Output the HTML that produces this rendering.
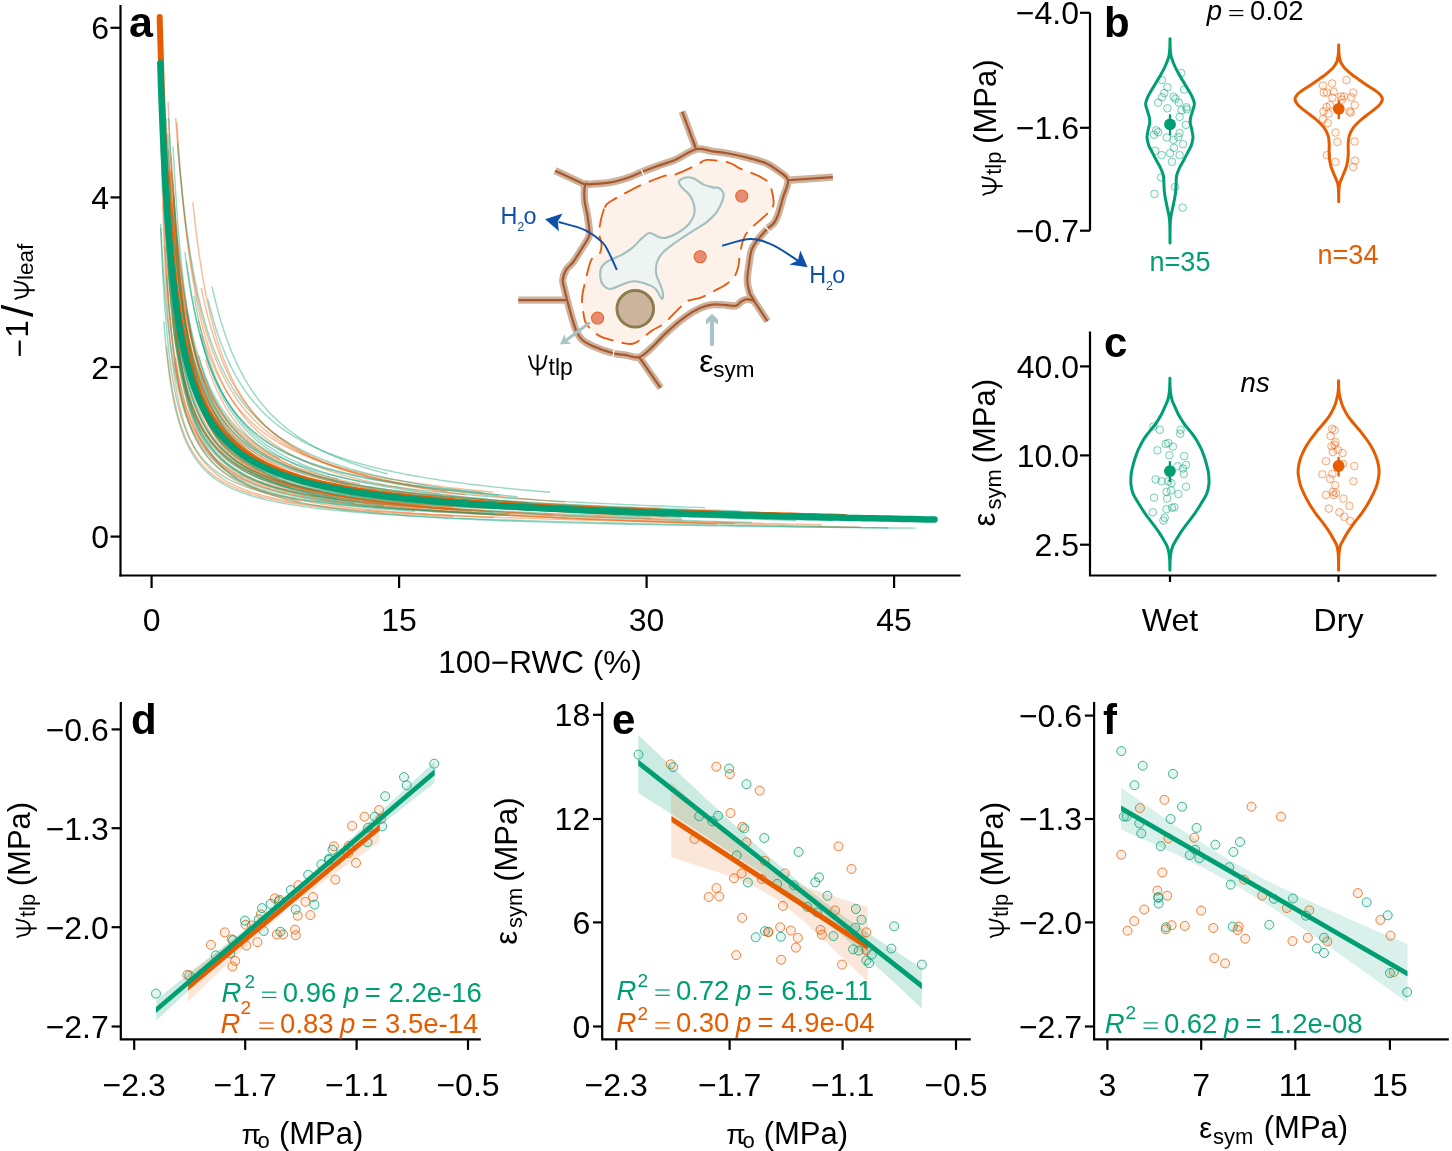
<!DOCTYPE html>
<html><head><meta charset="utf-8"><style>
html,body{margin:0;padding:0;background:#fff;}
svg{display:block;font-family:"Liberation Sans", sans-serif;will-change:transform;}
</style></head><body>
<svg width="1452" height="1151" viewBox="0 0 1452 1151">
<rect width="1452" height="1151" fill="#fff"/>
<line x1="1090.0" y1="12.8" x2="1090.0" y2="230.7" stroke="#000" stroke-width="2.2"/>
<line x1="1080.0" y1="12.8" x2="1090.0" y2="12.8" stroke="#000" stroke-width="2.2"/>
<text x="1079.0" y="24.2" text-anchor="end" font-size="32">−4.0</text>
<line x1="1080.0" y1="127.8" x2="1090.0" y2="127.8" stroke="#000" stroke-width="2.2"/>
<text x="1079.0" y="139.2" text-anchor="end" font-size="32">−1.6</text>
<line x1="1080.0" y1="230.7" x2="1090.0" y2="230.7" stroke="#000" stroke-width="2.2"/>
<text x="1079.0" y="242.1" text-anchor="end" font-size="32">−0.7</text>
<text x="1104" y="37" font-size="42" font-weight="bold">b</text>
<text x="1206.8" y="19.8" font-size="27.5" font-style="italic">p</text>
<line x1="1229.3" y1="10.6" x2="1243.3" y2="10.6" stroke="#000" stroke-width="1.25"/><line x1="1229.3" y1="15.5" x2="1243.3" y2="15.5" stroke="#000" stroke-width="1.25"/>
<text x="1250.1" y="19.8" font-size="27.5">0.02</text>
<g transform="translate(995.8,195.8) rotate(-90)"><g fill="none" stroke="#000" stroke-width="1.9"><path d="M9.7,-13.8 L9.7,6.8"/><path d="M0.3,-12.8 C2.9,-12.0 2.3,-6.8 3.7,-3.5 C5.1,-0.3 7.1,0.0 9.7,0.0 C13.6,0.0 15.9,-1.9 16.9,-5.9 C17.7,-9.2 17.7,-12.0 19.1,-14.3"/></g></g>
<g transform="translate(995.8,195.8) rotate(-90)">
<text x="21.0" y="5.0" font-size="22" >tlp</text>
<text x="51.9" y="0.0" font-size="31" >(MPa)</text>
</g>
<path d="M1170.00,38.80 C1170.01,39.67 1170.02,42.47 1170.05,44.00 C1170.08,45.53 1170.12,46.67 1170.20,48.00 C1170.28,49.33 1170.30,50.43 1170.50,52.00 C1170.70,53.57 1170.67,54.98 1171.40,57.40 C1172.13,59.82 1173.52,63.47 1174.90,66.50 C1176.28,69.53 1177.98,72.57 1179.70,75.60 C1181.42,78.63 1183.75,82.30 1185.20,84.70 C1186.65,87.10 1187.23,87.97 1188.40,90.00 C1189.57,92.03 1191.20,94.58 1192.20,96.90 C1193.20,99.22 1194.33,101.58 1194.40,103.90 C1194.47,106.22 1193.23,108.48 1192.60,110.80 C1191.97,113.12 1191.00,115.82 1190.60,117.80 C1190.20,119.78 1190.05,120.97 1190.20,122.70 C1190.35,124.43 1191.07,126.12 1191.50,128.20 C1191.93,130.28 1192.57,133.47 1192.80,135.20 C1193.03,136.93 1193.17,136.87 1192.90,138.60 C1192.63,140.33 1192.07,143.28 1191.20,145.60 C1190.33,147.92 1188.93,150.10 1187.70,152.50 C1186.47,154.90 1185.17,157.45 1183.80,160.00 C1182.43,162.55 1180.69,165.20 1179.50,167.80 C1178.31,170.40 1177.22,172.98 1176.65,175.60 C1176.08,178.22 1176.26,180.88 1176.10,183.50 C1175.94,186.12 1175.97,188.70 1175.70,191.30 C1175.43,193.90 1174.97,196.50 1174.50,199.10 C1174.03,201.70 1173.45,204.28 1172.90,206.90 C1172.35,209.52 1171.60,212.70 1171.20,214.80 C1170.80,216.90 1170.67,217.97 1170.50,219.50 C1170.33,221.03 1170.27,222.25 1170.20,224.00 C1170.13,225.75 1170.09,226.85 1170.06,230.00 C1170.03,233.15 1170.01,240.75 1170.00,242.90 L1170.00,242.90 C1169.99,240.75 1169.97,233.15 1169.94,230.00 C1169.91,226.85 1169.87,225.75 1169.80,224.00 C1169.73,222.25 1169.67,221.03 1169.50,219.50 C1169.33,217.97 1169.20,216.90 1168.80,214.80 C1168.40,212.70 1167.65,209.52 1167.10,206.90 C1166.55,204.28 1165.97,201.70 1165.50,199.10 C1165.03,196.50 1164.57,193.90 1164.30,191.30 C1164.03,188.70 1164.06,186.12 1163.90,183.50 C1163.74,180.88 1163.92,178.22 1163.35,175.60 C1162.78,172.98 1161.69,170.40 1160.50,167.80 C1159.31,165.20 1157.57,162.55 1156.20,160.00 C1154.83,157.45 1153.53,154.90 1152.30,152.50 C1151.07,150.10 1149.67,147.92 1148.80,145.60 C1147.93,143.28 1147.37,140.33 1147.10,138.60 C1146.83,136.87 1146.97,136.93 1147.20,135.20 C1147.43,133.47 1148.07,130.28 1148.50,128.20 C1148.93,126.12 1149.65,124.43 1149.80,122.70 C1149.95,120.97 1149.80,119.78 1149.40,117.80 C1149.00,115.82 1148.03,113.12 1147.40,110.80 C1146.77,108.48 1145.53,106.22 1145.60,103.90 C1145.67,101.58 1146.80,99.22 1147.80,96.90 C1148.80,94.58 1150.43,92.03 1151.60,90.00 C1152.77,87.97 1153.35,87.10 1154.80,84.70 C1156.25,82.30 1158.58,78.63 1160.30,75.60 C1162.02,72.57 1163.72,69.53 1165.10,66.50 C1166.48,63.47 1167.87,59.82 1168.60,57.40 C1169.33,54.98 1169.30,53.57 1169.50,52.00 C1169.70,50.43 1169.72,49.33 1169.80,48.00 C1169.88,46.67 1169.92,45.53 1169.95,44.00 C1169.98,42.47 1169.99,39.67 1170.00,38.80" fill="none" stroke="#009E73" stroke-width="3.0" stroke-linejoin="round" stroke-linecap="round"/>
<path d="M1338.70,45.10 C1338.71,45.92 1338.74,48.68 1338.78,50.00 C1338.82,51.32 1338.85,51.92 1338.95,53.00 C1339.05,54.08 1339.12,55.02 1339.40,56.50 C1339.68,57.98 1339.83,60.08 1340.60,61.90 C1341.37,63.72 1342.75,65.83 1344.00,67.40 C1345.25,68.97 1346.63,70.00 1348.10,71.30 C1349.57,72.60 1351.12,73.90 1352.80,75.20 C1354.48,76.50 1356.38,77.80 1358.20,79.10 C1360.02,80.40 1361.80,81.70 1363.70,83.00 C1365.60,84.30 1367.62,85.60 1369.60,86.90 C1371.58,88.20 1373.82,89.50 1375.60,90.80 C1377.38,92.10 1379.17,93.27 1380.30,94.70 C1381.43,96.13 1382.43,97.83 1382.40,99.40 C1382.37,100.97 1381.32,102.53 1380.10,104.10 C1378.88,105.67 1377.12,107.10 1375.10,108.80 C1373.08,110.50 1370.38,112.43 1368.00,114.30 C1365.62,116.17 1363.27,117.75 1360.80,120.00 C1358.33,122.25 1355.12,125.20 1353.20,127.80 C1351.28,130.40 1350.13,132.98 1349.30,135.60 C1348.47,138.22 1348.37,140.88 1348.20,143.50 C1348.03,146.12 1348.35,148.70 1348.30,151.30 C1348.25,153.90 1348.23,156.50 1347.90,159.10 C1347.57,161.70 1347.08,164.30 1346.30,166.90 C1345.52,169.50 1344.25,172.08 1343.20,174.70 C1342.15,177.32 1340.66,180.63 1340.00,182.60 C1339.34,184.57 1339.43,185.27 1339.25,186.50 C1339.07,187.73 1339.00,188.58 1338.92,190.00 C1338.84,191.42 1338.81,193.05 1338.77,195.00 C1338.73,196.95 1338.71,200.58 1338.70,201.70 L1338.70,201.70 C1338.69,200.58 1338.67,196.95 1338.63,195.00 C1338.59,193.05 1338.56,191.42 1338.48,190.00 C1338.40,188.58 1338.33,187.73 1338.15,186.50 C1337.97,185.27 1338.06,184.57 1337.40,182.60 C1336.74,180.63 1335.25,177.32 1334.20,174.70 C1333.15,172.08 1331.88,169.50 1331.10,166.90 C1330.32,164.30 1329.83,161.70 1329.50,159.10 C1329.17,156.50 1329.15,153.90 1329.10,151.30 C1329.05,148.70 1329.37,146.12 1329.20,143.50 C1329.03,140.88 1328.93,138.22 1328.10,135.60 C1327.27,132.98 1326.12,130.40 1324.20,127.80 C1322.28,125.20 1319.07,122.25 1316.60,120.00 C1314.13,117.75 1311.78,116.17 1309.40,114.30 C1307.02,112.43 1304.32,110.50 1302.30,108.80 C1300.28,107.10 1298.52,105.67 1297.30,104.10 C1296.08,102.53 1295.03,100.97 1295.00,99.40 C1294.97,97.83 1295.97,96.13 1297.10,94.70 C1298.23,93.27 1300.02,92.10 1301.80,90.80 C1303.58,89.50 1305.82,88.20 1307.80,86.90 C1309.78,85.60 1311.80,84.30 1313.70,83.00 C1315.60,81.70 1317.38,80.40 1319.20,79.10 C1321.02,77.80 1322.92,76.50 1324.60,75.20 C1326.28,73.90 1327.83,72.60 1329.30,71.30 C1330.77,70.00 1332.15,68.97 1333.40,67.40 C1334.65,65.83 1336.03,63.72 1336.80,61.90 C1337.57,60.08 1337.72,57.98 1338.00,56.50 C1338.28,55.02 1338.35,54.08 1338.45,53.00 C1338.55,51.92 1338.58,51.32 1338.62,50.00 C1338.66,48.68 1338.69,45.92 1338.70,45.10" fill="none" stroke="#E65C00" stroke-width="3.0" stroke-linejoin="round" stroke-linecap="round"/>
<circle cx="1181.1" cy="73.0" r="3.8" fill="#009E73" fill-opacity="0.06" stroke="#009E73" stroke-opacity="0.55" stroke-width="0.9"/>
<circle cx="1162.0" cy="80.0" r="3.8" fill="#009E73" fill-opacity="0.06" stroke="#009E73" stroke-opacity="0.55" stroke-width="0.9"/>
<circle cx="1167.4" cy="87.3" r="3.8" fill="#009E73" fill-opacity="0.06" stroke="#009E73" stroke-opacity="0.55" stroke-width="0.9"/>
<circle cx="1184.0" cy="89.6" r="3.8" fill="#009E73" fill-opacity="0.06" stroke="#009E73" stroke-opacity="0.55" stroke-width="0.9"/>
<circle cx="1164.3" cy="93.0" r="3.8" fill="#009E73" fill-opacity="0.06" stroke="#009E73" stroke-opacity="0.55" stroke-width="0.9"/>
<circle cx="1162.0" cy="97.2" r="3.8" fill="#009E73" fill-opacity="0.06" stroke="#009E73" stroke-opacity="0.55" stroke-width="0.9"/>
<circle cx="1173.5" cy="96.8" r="3.8" fill="#009E73" fill-opacity="0.06" stroke="#009E73" stroke-opacity="0.55" stroke-width="0.9"/>
<circle cx="1175.4" cy="98.8" r="3.8" fill="#009E73" fill-opacity="0.06" stroke="#009E73" stroke-opacity="0.55" stroke-width="0.9"/>
<circle cx="1158.2" cy="102.6" r="3.8" fill="#009E73" fill-opacity="0.06" stroke="#009E73" stroke-opacity="0.55" stroke-width="0.9"/>
<circle cx="1178.8" cy="102.6" r="3.8" fill="#009E73" fill-opacity="0.06" stroke="#009E73" stroke-opacity="0.55" stroke-width="0.9"/>
<circle cx="1167.4" cy="108.3" r="3.8" fill="#009E73" fill-opacity="0.06" stroke="#009E73" stroke-opacity="0.55" stroke-width="0.9"/>
<circle cx="1181.5" cy="110.2" r="3.8" fill="#009E73" fill-opacity="0.06" stroke="#009E73" stroke-opacity="0.55" stroke-width="0.9"/>
<circle cx="1186.5" cy="107.3" r="3.8" fill="#009E73" fill-opacity="0.06" stroke="#009E73" stroke-opacity="0.55" stroke-width="0.9"/>
<circle cx="1186.8" cy="109.3" r="3.8" fill="#009E73" fill-opacity="0.06" stroke="#009E73" stroke-opacity="0.55" stroke-width="0.9"/>
<circle cx="1179.6" cy="116.9" r="3.8" fill="#009E73" fill-opacity="0.06" stroke="#009E73" stroke-opacity="0.55" stroke-width="0.9"/>
<circle cx="1185.9" cy="124.9" r="3.8" fill="#009E73" fill-opacity="0.06" stroke="#009E73" stroke-opacity="0.55" stroke-width="0.9"/>
<circle cx="1156.3" cy="130.3" r="3.8" fill="#009E73" fill-opacity="0.06" stroke="#009E73" stroke-opacity="0.55" stroke-width="0.9"/>
<circle cx="1154.0" cy="134.7" r="3.8" fill="#009E73" fill-opacity="0.06" stroke="#009E73" stroke-opacity="0.55" stroke-width="0.9"/>
<circle cx="1158.2" cy="132.2" r="3.8" fill="#009E73" fill-opacity="0.06" stroke="#009E73" stroke-opacity="0.55" stroke-width="0.9"/>
<circle cx="1166.8" cy="137.5" r="3.8" fill="#009E73" fill-opacity="0.06" stroke="#009E73" stroke-opacity="0.55" stroke-width="0.9"/>
<circle cx="1179.6" cy="133.1" r="3.8" fill="#009E73" fill-opacity="0.06" stroke="#009E73" stroke-opacity="0.55" stroke-width="0.9"/>
<circle cx="1178.3" cy="137.0" r="3.8" fill="#009E73" fill-opacity="0.06" stroke="#009E73" stroke-opacity="0.55" stroke-width="0.9"/>
<circle cx="1173.5" cy="139.8" r="3.8" fill="#009E73" fill-opacity="0.06" stroke="#009E73" stroke-opacity="0.55" stroke-width="0.9"/>
<circle cx="1183.0" cy="144.2" r="3.8" fill="#009E73" fill-opacity="0.06" stroke="#009E73" stroke-opacity="0.55" stroke-width="0.9"/>
<circle cx="1174.0" cy="147.8" r="3.8" fill="#009E73" fill-opacity="0.06" stroke="#009E73" stroke-opacity="0.55" stroke-width="0.9"/>
<circle cx="1155.3" cy="150.7" r="3.8" fill="#009E73" fill-opacity="0.06" stroke="#009E73" stroke-opacity="0.55" stroke-width="0.9"/>
<circle cx="1161.6" cy="155.1" r="3.8" fill="#009E73" fill-opacity="0.06" stroke="#009E73" stroke-opacity="0.55" stroke-width="0.9"/>
<circle cx="1170.0" cy="153.2" r="3.8" fill="#009E73" fill-opacity="0.06" stroke="#009E73" stroke-opacity="0.55" stroke-width="0.9"/>
<circle cx="1179.6" cy="155.1" r="3.8" fill="#009E73" fill-opacity="0.06" stroke="#009E73" stroke-opacity="0.55" stroke-width="0.9"/>
<circle cx="1171.9" cy="161.8" r="3.8" fill="#009E73" fill-opacity="0.06" stroke="#009E73" stroke-opacity="0.55" stroke-width="0.9"/>
<circle cx="1161.1" cy="177.4" r="3.8" fill="#009E73" fill-opacity="0.06" stroke="#009E73" stroke-opacity="0.55" stroke-width="0.9"/>
<circle cx="1175.0" cy="187.0" r="3.8" fill="#009E73" fill-opacity="0.06" stroke="#009E73" stroke-opacity="0.55" stroke-width="0.9"/>
<circle cx="1154.4" cy="193.9" r="3.8" fill="#009E73" fill-opacity="0.06" stroke="#009E73" stroke-opacity="0.55" stroke-width="0.9"/>
<circle cx="1182.6" cy="207.6" r="3.8" fill="#009E73" fill-opacity="0.06" stroke="#009E73" stroke-opacity="0.55" stroke-width="0.9"/>
<circle cx="1346.5" cy="80.1" r="3.8" fill="#E65C00" fill-opacity="0.06" stroke="#E65C00" stroke-opacity="0.55" stroke-width="0.9"/>
<circle cx="1323.0" cy="85.5" r="3.8" fill="#E65C00" fill-opacity="0.06" stroke="#E65C00" stroke-opacity="0.55" stroke-width="0.9"/>
<circle cx="1332.1" cy="83.5" r="3.8" fill="#E65C00" fill-opacity="0.06" stroke="#E65C00" stroke-opacity="0.55" stroke-width="0.9"/>
<circle cx="1323.8" cy="92.6" r="3.8" fill="#E65C00" fill-opacity="0.06" stroke="#E65C00" stroke-opacity="0.55" stroke-width="0.9"/>
<circle cx="1326.9" cy="92.6" r="3.8" fill="#E65C00" fill-opacity="0.06" stroke="#E65C00" stroke-opacity="0.55" stroke-width="0.9"/>
<circle cx="1333.7" cy="91.8" r="3.8" fill="#E65C00" fill-opacity="0.06" stroke="#E65C00" stroke-opacity="0.55" stroke-width="0.9"/>
<circle cx="1332.4" cy="97.6" r="3.8" fill="#E65C00" fill-opacity="0.06" stroke="#E65C00" stroke-opacity="0.55" stroke-width="0.9"/>
<circle cx="1341.0" cy="96.5" r="3.8" fill="#E65C00" fill-opacity="0.06" stroke="#E65C00" stroke-opacity="0.55" stroke-width="0.9"/>
<circle cx="1344.1" cy="96.5" r="3.8" fill="#E65C00" fill-opacity="0.06" stroke="#E65C00" stroke-opacity="0.55" stroke-width="0.9"/>
<circle cx="1341.8" cy="99.6" r="3.8" fill="#E65C00" fill-opacity="0.06" stroke="#E65C00" stroke-opacity="0.55" stroke-width="0.9"/>
<circle cx="1353.2" cy="92.6" r="3.8" fill="#E65C00" fill-opacity="0.06" stroke="#E65C00" stroke-opacity="0.55" stroke-width="0.9"/>
<circle cx="1351.2" cy="97.3" r="3.8" fill="#E65C00" fill-opacity="0.06" stroke="#E65C00" stroke-opacity="0.55" stroke-width="0.9"/>
<circle cx="1330.1" cy="105.1" r="3.8" fill="#E65C00" fill-opacity="0.06" stroke="#E65C00" stroke-opacity="0.55" stroke-width="0.9"/>
<circle cx="1326.6" cy="107.0" r="3.8" fill="#E65C00" fill-opacity="0.06" stroke="#E65C00" stroke-opacity="0.55" stroke-width="0.9"/>
<circle cx="1354.8" cy="105.1" r="3.8" fill="#E65C00" fill-opacity="0.06" stroke="#E65C00" stroke-opacity="0.55" stroke-width="0.9"/>
<circle cx="1349.6" cy="111.4" r="3.8" fill="#E65C00" fill-opacity="0.06" stroke="#E65C00" stroke-opacity="0.55" stroke-width="0.9"/>
<circle cx="1350.7" cy="112.6" r="3.8" fill="#E65C00" fill-opacity="0.06" stroke="#E65C00" stroke-opacity="0.55" stroke-width="0.9"/>
<circle cx="1323.5" cy="111.4" r="3.8" fill="#E65C00" fill-opacity="0.06" stroke="#E65C00" stroke-opacity="0.55" stroke-width="0.9"/>
<circle cx="1328.5" cy="113.7" r="3.8" fill="#E65C00" fill-opacity="0.06" stroke="#E65C00" stroke-opacity="0.55" stroke-width="0.9"/>
<circle cx="1323.0" cy="119.2" r="3.8" fill="#E65C00" fill-opacity="0.06" stroke="#E65C00" stroke-opacity="0.55" stroke-width="0.9"/>
<circle cx="1327.7" cy="123.1" r="3.8" fill="#E65C00" fill-opacity="0.06" stroke="#E65C00" stroke-opacity="0.55" stroke-width="0.9"/>
<circle cx="1335.5" cy="132.5" r="3.8" fill="#E65C00" fill-opacity="0.06" stroke="#E65C00" stroke-opacity="0.55" stroke-width="0.9"/>
<circle cx="1337.4" cy="141.9" r="3.8" fill="#E65C00" fill-opacity="0.06" stroke="#E65C00" stroke-opacity="0.55" stroke-width="0.9"/>
<circle cx="1354.6" cy="141.5" r="3.8" fill="#E65C00" fill-opacity="0.06" stroke="#E65C00" stroke-opacity="0.55" stroke-width="0.9"/>
<circle cx="1326.9" cy="155.2" r="3.8" fill="#E65C00" fill-opacity="0.06" stroke="#E65C00" stroke-opacity="0.55" stroke-width="0.9"/>
<circle cx="1335.5" cy="161.9" r="3.8" fill="#E65C00" fill-opacity="0.06" stroke="#E65C00" stroke-opacity="0.55" stroke-width="0.9"/>
<circle cx="1355.1" cy="160.6" r="3.8" fill="#E65C00" fill-opacity="0.06" stroke="#E65C00" stroke-opacity="0.55" stroke-width="0.9"/>
<circle cx="1353.2" cy="166.9" r="3.8" fill="#E65C00" fill-opacity="0.06" stroke="#E65C00" stroke-opacity="0.55" stroke-width="0.9"/>
<line x1="1170.0" y1="114.3" x2="1170.0" y2="135.5" stroke="#009E73" stroke-width="2.3"/>
<circle cx="1170.0" cy="124.4" r="5.9" fill="#009E73"/>
<line x1="1338.8" y1="100.2" x2="1338.8" y2="119" stroke="#E65C00" stroke-width="2.3"/>
<circle cx="1338.8" cy="108.8" r="5.9" fill="#E65C00"/>
<text x="1180" y="270.5" text-anchor="middle" font-size="27" fill="#009E73">n=35</text>
<text x="1348" y="264" text-anchor="middle" font-size="27" fill="#E65C00">n=34</text>
<path d="M1090.0,331.5 L1090.0,575.5 L1436.5,575.5" fill="none" stroke="#000" stroke-width="2.2"/>
<line x1="1080.0" y1="366.4" x2="1090.0" y2="366.4" stroke="#000" stroke-width="2.2"/>
<text x="1079.0" y="377.8" text-anchor="end" font-size="32">40.0</text>
<line x1="1080.0" y1="455.4" x2="1090.0" y2="455.4" stroke="#000" stroke-width="2.2"/>
<text x="1079.0" y="466.8" text-anchor="end" font-size="32">10.0</text>
<line x1="1080.0" y1="544.7" x2="1090.0" y2="544.7" stroke="#000" stroke-width="2.2"/>
<text x="1079.0" y="556.1" text-anchor="end" font-size="32">2.5</text>
<line x1="1170.0" y1="575.5" x2="1170.0" y2="582" stroke="#000" stroke-width="2.2"/>
<text x="1170.0" y="630.5" text-anchor="middle" font-size="32">Wet</text>
<line x1="1338.5" y1="575.5" x2="1338.5" y2="582" stroke="#000" stroke-width="2.2"/>
<text x="1338.5" y="630.5" text-anchor="middle" font-size="32">Dry</text>
<text x="1104" y="356.5" font-size="42" font-weight="bold">c</text>
<text x="1240.5" y="391.9" font-size="27.5" font-style="italic">n</text><text x="1256" y="391.9" font-size="27.5" font-style="italic">s</text>
<g transform="translate(995.3,525.6) rotate(-90)">
<text x="-0.8" y="0.0" font-size="31" >ε</text>
<text x="16.0" y="5.5" font-size="22" >sym</text>
<text x="62.2" y="0.0" font-size="31" >(MPa)</text>
</g>
<path d="M1169.90,378.20 C1169.91,379.00 1169.94,381.53 1169.97,383.00 C1170.00,384.47 1170.03,385.67 1170.10,387.00 C1170.17,388.33 1170.27,389.67 1170.40,391.00 C1170.53,392.33 1170.63,393.50 1170.90,395.00 C1171.17,396.50 1171.47,398.33 1172.00,400.00 C1172.53,401.67 1173.38,403.33 1174.10,405.00 C1174.82,406.67 1175.53,408.33 1176.30,410.00 C1177.07,411.67 1177.80,413.33 1178.70,415.00 C1179.60,416.67 1180.67,418.33 1181.70,420.00 C1182.73,421.67 1183.67,423.33 1184.90,425.00 C1186.13,426.67 1187.73,428.33 1189.10,430.00 C1190.47,431.67 1191.87,433.33 1193.10,435.00 C1194.33,436.67 1195.48,438.33 1196.50,440.00 C1197.52,441.67 1198.33,443.33 1199.20,445.00 C1200.07,446.67 1200.97,448.33 1201.70,450.00 C1202.43,451.67 1203.00,453.33 1203.60,455.00 C1204.20,456.67 1204.78,458.33 1205.30,460.00 C1205.82,461.67 1206.27,463.33 1206.70,465.00 C1207.13,466.67 1207.57,468.33 1207.90,470.00 C1208.23,471.67 1208.53,472.65 1208.70,475.00 C1208.87,477.35 1209.23,480.98 1208.90,484.10 C1208.57,487.22 1207.97,490.52 1206.70,493.70 C1205.43,496.88 1203.22,500.02 1201.30,503.20 C1199.38,506.38 1197.40,509.60 1195.20,512.80 C1193.00,516.00 1190.45,519.22 1188.10,522.40 C1185.75,525.58 1183.25,528.72 1181.10,531.90 C1178.95,535.08 1176.58,539.15 1175.20,541.50 C1173.82,543.85 1173.45,544.42 1172.80,546.00 C1172.15,547.58 1171.68,549.37 1171.30,551.00 C1170.92,552.63 1170.69,554.30 1170.50,555.80 C1170.31,557.30 1170.24,558.63 1170.15,560.00 C1170.06,561.37 1170.02,562.30 1169.98,564.00 C1169.94,565.70 1169.91,569.17 1169.90,570.20 L1169.90,570.20 C1169.89,569.17 1169.86,565.70 1169.82,564.00 C1169.78,562.30 1169.74,561.37 1169.65,560.00 C1169.56,558.63 1169.49,557.30 1169.30,555.80 C1169.11,554.30 1168.88,552.63 1168.50,551.00 C1168.12,549.37 1167.65,547.58 1167.00,546.00 C1166.35,544.42 1165.98,543.85 1164.60,541.50 C1163.22,539.15 1160.85,535.08 1158.70,531.90 C1156.55,528.72 1154.05,525.58 1151.70,522.40 C1149.35,519.22 1146.80,516.00 1144.60,512.80 C1142.40,509.60 1140.42,506.38 1138.50,503.20 C1136.58,500.02 1134.37,496.88 1133.10,493.70 C1131.83,490.52 1131.23,487.22 1130.90,484.10 C1130.57,480.98 1130.93,477.35 1131.10,475.00 C1131.27,472.65 1131.57,471.67 1131.90,470.00 C1132.23,468.33 1132.67,466.67 1133.10,465.00 C1133.53,463.33 1133.98,461.67 1134.50,460.00 C1135.02,458.33 1135.60,456.67 1136.20,455.00 C1136.80,453.33 1137.37,451.67 1138.10,450.00 C1138.83,448.33 1139.73,446.67 1140.60,445.00 C1141.47,443.33 1142.28,441.67 1143.30,440.00 C1144.32,438.33 1145.47,436.67 1146.70,435.00 C1147.93,433.33 1149.33,431.67 1150.70,430.00 C1152.07,428.33 1153.67,426.67 1154.90,425.00 C1156.13,423.33 1157.07,421.67 1158.10,420.00 C1159.13,418.33 1160.20,416.67 1161.10,415.00 C1162.00,413.33 1162.73,411.67 1163.50,410.00 C1164.27,408.33 1164.98,406.67 1165.70,405.00 C1166.42,403.33 1167.27,401.67 1167.80,400.00 C1168.33,398.33 1168.63,396.50 1168.90,395.00 C1169.17,393.50 1169.27,392.33 1169.40,391.00 C1169.53,389.67 1169.63,388.33 1169.70,387.00 C1169.77,385.67 1169.80,384.47 1169.83,383.00 C1169.86,381.53 1169.89,379.00 1169.90,378.20" fill="none" stroke="#009E73" stroke-width="3.0" stroke-linejoin="round" stroke-linecap="round"/>
<path d="M1338.60,380.70 C1338.61,381.50 1338.63,384.03 1338.67,385.50 C1338.71,386.97 1338.74,388.08 1338.85,389.50 C1338.95,390.92 1338.99,392.25 1339.30,394.00 C1339.61,395.75 1340.22,398.17 1340.70,400.00 C1341.18,401.83 1341.57,403.33 1342.20,405.00 C1342.83,406.67 1343.67,408.33 1344.50,410.00 C1345.33,411.67 1346.15,413.33 1347.20,415.00 C1348.25,416.67 1349.50,418.33 1350.80,420.00 C1352.10,421.67 1353.57,423.33 1355.00,425.00 C1356.43,426.67 1358.03,428.33 1359.40,430.00 C1360.77,431.67 1361.93,433.33 1363.20,435.00 C1364.47,436.67 1365.82,438.33 1367.00,440.00 C1368.18,441.67 1369.28,443.33 1370.30,445.00 C1371.32,446.67 1372.25,448.33 1373.10,450.00 C1373.95,451.67 1374.72,453.33 1375.40,455.00 C1376.08,456.67 1376.70,458.33 1377.20,460.00 C1377.70,461.67 1378.10,463.33 1378.40,465.00 C1378.70,466.67 1378.92,468.33 1379.00,470.00 C1379.08,471.67 1379.22,472.65 1378.90,475.00 C1378.58,477.35 1378.03,480.98 1377.10,484.10 C1376.17,487.22 1374.78,490.52 1373.30,493.70 C1371.82,496.88 1370.08,500.02 1368.20,503.20 C1366.32,506.38 1364.27,509.60 1362.00,512.80 C1359.73,516.00 1356.95,519.22 1354.60,522.40 C1352.25,525.58 1349.93,528.72 1347.90,531.90 C1345.87,535.08 1343.62,539.32 1342.40,541.50 C1341.18,543.68 1341.07,543.73 1340.60,545.00 C1340.13,546.27 1339.86,547.77 1339.60,549.10 C1339.34,550.43 1339.19,551.68 1339.05,553.00 C1338.91,554.32 1338.85,555.50 1338.78,557.00 C1338.71,558.50 1338.69,559.80 1338.66,562.00 C1338.63,564.20 1338.61,568.83 1338.60,570.20 L1338.60,570.20 C1338.59,568.83 1338.57,564.20 1338.54,562.00 C1338.51,559.80 1338.48,558.50 1338.42,557.00 C1338.35,555.50 1338.29,554.32 1338.15,553.00 C1338.01,551.68 1337.86,550.43 1337.60,549.10 C1337.34,547.77 1337.07,546.27 1336.60,545.00 C1336.13,543.73 1336.02,543.68 1334.80,541.50 C1333.58,539.32 1331.33,535.08 1329.30,531.90 C1327.27,528.72 1324.95,525.58 1322.60,522.40 C1320.25,519.22 1317.47,516.00 1315.20,512.80 C1312.93,509.60 1310.88,506.38 1309.00,503.20 C1307.12,500.02 1305.38,496.88 1303.90,493.70 C1302.42,490.52 1301.03,487.22 1300.10,484.10 C1299.17,480.98 1298.62,477.35 1298.30,475.00 C1297.98,472.65 1298.12,471.67 1298.20,470.00 C1298.28,468.33 1298.50,466.67 1298.80,465.00 C1299.10,463.33 1299.50,461.67 1300.00,460.00 C1300.50,458.33 1301.12,456.67 1301.80,455.00 C1302.48,453.33 1303.25,451.67 1304.10,450.00 C1304.95,448.33 1305.88,446.67 1306.90,445.00 C1307.92,443.33 1309.02,441.67 1310.20,440.00 C1311.38,438.33 1312.73,436.67 1314.00,435.00 C1315.27,433.33 1316.43,431.67 1317.80,430.00 C1319.17,428.33 1320.77,426.67 1322.20,425.00 C1323.63,423.33 1325.10,421.67 1326.40,420.00 C1327.70,418.33 1328.95,416.67 1330.00,415.00 C1331.05,413.33 1331.87,411.67 1332.70,410.00 C1333.53,408.33 1334.37,406.67 1335.00,405.00 C1335.63,403.33 1336.02,401.83 1336.50,400.00 C1336.98,398.17 1337.59,395.75 1337.90,394.00 C1338.21,392.25 1338.24,390.92 1338.35,389.50 C1338.45,388.08 1338.49,386.97 1338.53,385.50 C1338.57,384.03 1338.59,381.50 1338.60,380.70" fill="none" stroke="#E65C00" stroke-width="3.0" stroke-linejoin="round" stroke-linecap="round"/>
<circle cx="1153.4" cy="426.5" r="3.8" fill="#009E73" fill-opacity="0.06" stroke="#009E73" stroke-opacity="0.55" stroke-width="0.9"/>
<circle cx="1159.8" cy="429.8" r="3.8" fill="#009E73" fill-opacity="0.06" stroke="#009E73" stroke-opacity="0.55" stroke-width="0.9"/>
<circle cx="1180.6" cy="429.8" r="3.8" fill="#009E73" fill-opacity="0.06" stroke="#009E73" stroke-opacity="0.55" stroke-width="0.9"/>
<circle cx="1180.2" cy="433.8" r="3.8" fill="#009E73" fill-opacity="0.06" stroke="#009E73" stroke-opacity="0.55" stroke-width="0.9"/>
<circle cx="1165.6" cy="443.9" r="3.8" fill="#009E73" fill-opacity="0.06" stroke="#009E73" stroke-opacity="0.55" stroke-width="0.9"/>
<circle cx="1168.3" cy="443.0" r="3.8" fill="#009E73" fill-opacity="0.06" stroke="#009E73" stroke-opacity="0.55" stroke-width="0.9"/>
<circle cx="1172.9" cy="446.6" r="3.8" fill="#009E73" fill-opacity="0.06" stroke="#009E73" stroke-opacity="0.55" stroke-width="0.9"/>
<circle cx="1157.4" cy="450.3" r="3.8" fill="#009E73" fill-opacity="0.06" stroke="#009E73" stroke-opacity="0.55" stroke-width="0.9"/>
<circle cx="1169.3" cy="455.2" r="3.8" fill="#009E73" fill-opacity="0.06" stroke="#009E73" stroke-opacity="0.55" stroke-width="0.9"/>
<circle cx="1184.2" cy="456.1" r="3.8" fill="#009E73" fill-opacity="0.06" stroke="#009E73" stroke-opacity="0.55" stroke-width="0.9"/>
<circle cx="1177.5" cy="466.3" r="3.8" fill="#009E73" fill-opacity="0.06" stroke="#009E73" stroke-opacity="0.55" stroke-width="0.9"/>
<circle cx="1186.0" cy="464.9" r="3.8" fill="#009E73" fill-opacity="0.06" stroke="#009E73" stroke-opacity="0.55" stroke-width="0.9"/>
<circle cx="1182.9" cy="468.5" r="3.8" fill="#009E73" fill-opacity="0.06" stroke="#009E73" stroke-opacity="0.55" stroke-width="0.9"/>
<circle cx="1183.8" cy="474.0" r="3.8" fill="#009E73" fill-opacity="0.06" stroke="#009E73" stroke-opacity="0.55" stroke-width="0.9"/>
<circle cx="1155.6" cy="479.4" r="3.8" fill="#009E73" fill-opacity="0.06" stroke="#009E73" stroke-opacity="0.55" stroke-width="0.9"/>
<circle cx="1161.6" cy="481.3" r="3.8" fill="#009E73" fill-opacity="0.06" stroke="#009E73" stroke-opacity="0.55" stroke-width="0.9"/>
<circle cx="1168.3" cy="481.3" r="3.8" fill="#009E73" fill-opacity="0.06" stroke="#009E73" stroke-opacity="0.55" stroke-width="0.9"/>
<circle cx="1171.4" cy="483.1" r="3.8" fill="#009E73" fill-opacity="0.06" stroke="#009E73" stroke-opacity="0.55" stroke-width="0.9"/>
<circle cx="1186.0" cy="486.7" r="3.8" fill="#009E73" fill-opacity="0.06" stroke="#009E73" stroke-opacity="0.55" stroke-width="0.9"/>
<circle cx="1166.5" cy="491.9" r="3.8" fill="#009E73" fill-opacity="0.06" stroke="#009E73" stroke-opacity="0.55" stroke-width="0.9"/>
<circle cx="1171.1" cy="490.4" r="3.8" fill="#009E73" fill-opacity="0.06" stroke="#009E73" stroke-opacity="0.55" stroke-width="0.9"/>
<circle cx="1178.4" cy="494.0" r="3.8" fill="#009E73" fill-opacity="0.06" stroke="#009E73" stroke-opacity="0.55" stroke-width="0.9"/>
<circle cx="1154.1" cy="497.7" r="3.8" fill="#009E73" fill-opacity="0.06" stroke="#009E73" stroke-opacity="0.55" stroke-width="0.9"/>
<circle cx="1167.1" cy="498.6" r="3.8" fill="#009E73" fill-opacity="0.06" stroke="#009E73" stroke-opacity="0.55" stroke-width="0.9"/>
<circle cx="1152.8" cy="512.3" r="3.8" fill="#009E73" fill-opacity="0.06" stroke="#009E73" stroke-opacity="0.55" stroke-width="0.9"/>
<circle cx="1166.5" cy="509.2" r="3.8" fill="#009E73" fill-opacity="0.06" stroke="#009E73" stroke-opacity="0.55" stroke-width="0.9"/>
<circle cx="1172.0" cy="507.7" r="3.8" fill="#009E73" fill-opacity="0.06" stroke="#009E73" stroke-opacity="0.55" stroke-width="0.9"/>
<circle cx="1174.4" cy="507.2" r="3.8" fill="#009E73" fill-opacity="0.06" stroke="#009E73" stroke-opacity="0.55" stroke-width="0.9"/>
<circle cx="1164.7" cy="517.8" r="3.8" fill="#009E73" fill-opacity="0.06" stroke="#009E73" stroke-opacity="0.55" stroke-width="0.9"/>
<circle cx="1163.4" cy="520.5" r="3.8" fill="#009E73" fill-opacity="0.06" stroke="#009E73" stroke-opacity="0.55" stroke-width="0.9"/>
<circle cx="1332.1" cy="428.7" r="3.8" fill="#E65C00" fill-opacity="0.06" stroke="#E65C00" stroke-opacity="0.55" stroke-width="0.9"/>
<circle cx="1334.6" cy="430.2" r="3.8" fill="#E65C00" fill-opacity="0.06" stroke="#E65C00" stroke-opacity="0.55" stroke-width="0.9"/>
<circle cx="1330.6" cy="436.0" r="3.8" fill="#E65C00" fill-opacity="0.06" stroke="#E65C00" stroke-opacity="0.55" stroke-width="0.9"/>
<circle cx="1335.5" cy="442.1" r="3.8" fill="#E65C00" fill-opacity="0.06" stroke="#E65C00" stroke-opacity="0.55" stroke-width="0.9"/>
<circle cx="1331.5" cy="446.2" r="3.8" fill="#E65C00" fill-opacity="0.06" stroke="#E65C00" stroke-opacity="0.55" stroke-width="0.9"/>
<circle cx="1334.6" cy="444.8" r="3.8" fill="#E65C00" fill-opacity="0.06" stroke="#E65C00" stroke-opacity="0.55" stroke-width="0.9"/>
<circle cx="1337.9" cy="449.9" r="3.8" fill="#E65C00" fill-opacity="0.06" stroke="#E65C00" stroke-opacity="0.55" stroke-width="0.9"/>
<circle cx="1332.8" cy="452.1" r="3.8" fill="#E65C00" fill-opacity="0.06" stroke="#E65C00" stroke-opacity="0.55" stroke-width="0.9"/>
<circle cx="1342.5" cy="453.0" r="3.8" fill="#E65C00" fill-opacity="0.06" stroke="#E65C00" stroke-opacity="0.55" stroke-width="0.9"/>
<circle cx="1326.0" cy="461.2" r="3.8" fill="#E65C00" fill-opacity="0.06" stroke="#E65C00" stroke-opacity="0.55" stroke-width="0.9"/>
<circle cx="1343.0" cy="463.9" r="3.8" fill="#E65C00" fill-opacity="0.06" stroke="#E65C00" stroke-opacity="0.55" stroke-width="0.9"/>
<circle cx="1354.3" cy="466.1" r="3.8" fill="#E65C00" fill-opacity="0.06" stroke="#E65C00" stroke-opacity="0.55" stroke-width="0.9"/>
<circle cx="1322.4" cy="474.3" r="3.8" fill="#E65C00" fill-opacity="0.06" stroke="#E65C00" stroke-opacity="0.55" stroke-width="0.9"/>
<circle cx="1332.4" cy="474.0" r="3.8" fill="#E65C00" fill-opacity="0.06" stroke="#E65C00" stroke-opacity="0.55" stroke-width="0.9"/>
<circle cx="1330.2" cy="478.9" r="3.8" fill="#E65C00" fill-opacity="0.06" stroke="#E65C00" stroke-opacity="0.55" stroke-width="0.9"/>
<circle cx="1353.4" cy="481.3" r="3.8" fill="#E65C00" fill-opacity="0.06" stroke="#E65C00" stroke-opacity="0.55" stroke-width="0.9"/>
<circle cx="1335.2" cy="485.3" r="3.8" fill="#E65C00" fill-opacity="0.06" stroke="#E65C00" stroke-opacity="0.55" stroke-width="0.9"/>
<circle cx="1332.8" cy="491.9" r="3.8" fill="#E65C00" fill-opacity="0.06" stroke="#E65C00" stroke-opacity="0.55" stroke-width="0.9"/>
<circle cx="1336.1" cy="493.1" r="3.8" fill="#E65C00" fill-opacity="0.06" stroke="#E65C00" stroke-opacity="0.55" stroke-width="0.9"/>
<circle cx="1326.0" cy="495.0" r="3.8" fill="#E65C00" fill-opacity="0.06" stroke="#E65C00" stroke-opacity="0.55" stroke-width="0.9"/>
<circle cx="1333.9" cy="495.0" r="3.8" fill="#E65C00" fill-opacity="0.06" stroke="#E65C00" stroke-opacity="0.55" stroke-width="0.9"/>
<circle cx="1343.4" cy="498.6" r="3.8" fill="#E65C00" fill-opacity="0.06" stroke="#E65C00" stroke-opacity="0.55" stroke-width="0.9"/>
<circle cx="1349.4" cy="505.9" r="3.8" fill="#E65C00" fill-opacity="0.06" stroke="#E65C00" stroke-opacity="0.55" stroke-width="0.9"/>
<circle cx="1328.8" cy="508.6" r="3.8" fill="#E65C00" fill-opacity="0.06" stroke="#E65C00" stroke-opacity="0.55" stroke-width="0.9"/>
<circle cx="1339.4" cy="512.3" r="3.8" fill="#E65C00" fill-opacity="0.06" stroke="#E65C00" stroke-opacity="0.55" stroke-width="0.9"/>
<circle cx="1344.3" cy="516.8" r="3.8" fill="#E65C00" fill-opacity="0.06" stroke="#E65C00" stroke-opacity="0.55" stroke-width="0.9"/>
<circle cx="1350.1" cy="521.0" r="3.8" fill="#E65C00" fill-opacity="0.06" stroke="#E65C00" stroke-opacity="0.55" stroke-width="0.9"/>
<line x1="1169.9" y1="461.2" x2="1169.9" y2="482.2" stroke="#009E73" stroke-width="2.3"/>
<circle cx="1169.9" cy="471.1" r="5.9" fill="#009E73"/>
<line x1="1338.6" y1="456.9" x2="1338.6" y2="476.5" stroke="#E65C00" stroke-width="2.3"/>
<circle cx="1338.6" cy="466" r="5.9" fill="#E65C00"/>
<path d="M156.3,999.5 L163.4,993.9 L170.6,988.3 L177.7,982.6 L184.9,977.0 L192.0,971.4 L199.1,965.7 L206.3,960.1 L213.4,954.4 L220.5,948.7 L227.7,943.1 L234.8,937.4 L242.0,931.7 L249.1,925.9 L256.2,920.1 L263.4,914.3 L270.5,908.5 L277.7,902.6 L284.8,896.6 L291.9,890.6 L299.1,884.5 L306.2,878.3 L313.3,872.1 L320.5,865.8 L327.6,859.4 L334.8,853.0 L341.9,846.6 L349.0,840.1 L356.2,833.6 L363.3,827.1 L370.5,820.6 L377.6,814.1 L384.7,807.5 L391.9,801.0 L399.0,794.4 L406.1,787.8 L413.3,781.3 L420.4,774.7 L427.6,768.1 L434.7,761.6 L434.7,782.6 L427.6,788.3 L420.4,793.9 L413.3,799.5 L406.1,805.2 L399.0,810.8 L391.9,816.4 L384.7,822.1 L377.6,827.7 L370.5,833.4 L363.3,839.1 L356.2,844.8 L349.0,850.5 L341.9,856.2 L334.8,862.0 L327.6,867.8 L320.5,873.6 L313.3,879.5 L306.2,885.5 L299.1,891.5 L291.9,897.6 L284.8,903.8 L277.7,910.0 L270.5,916.3 L263.4,922.7 L256.2,929.1 L249.1,935.5 L242.0,941.9 L234.8,948.4 L227.7,954.9 L220.5,961.5 L213.4,968.0 L206.3,974.5 L199.1,981.1 L192.0,987.6 L184.9,994.2 L177.7,1000.8 L170.6,1007.3 L163.4,1013.9 L156.3,1020.5Z" fill="#009E73" fill-opacity="0.2"/>
<path d="M188.1,972.8 L193.0,969.4 L197.9,965.9 L202.8,962.5 L207.8,959.0 L212.7,955.5 L217.6,952.1 L222.5,948.6 L227.4,945.1 L232.3,941.5 L237.3,938.0 L242.2,934.5 L247.1,930.9 L252.0,927.3 L256.9,923.6 L261.8,919.9 L266.7,916.1 L271.7,912.3 L276.6,908.4 L281.5,904.4 L286.4,900.3 L291.3,896.1 L296.2,891.8 L301.2,887.4 L306.1,883.0 L311.0,878.5 L315.9,874.0 L320.8,869.4 L325.7,864.8 L330.6,860.1 L335.6,855.5 L340.5,850.8 L345.4,846.1 L350.3,841.4 L355.2,836.7 L360.1,831.9 L365.1,827.2 L370.0,822.5 L374.9,817.7 L379.8,813.0 L379.8,841.8 L374.9,845.3 L370.0,848.7 L365.1,852.2 L360.1,855.7 L355.2,859.1 L350.3,862.6 L345.4,866.1 L340.5,869.6 L335.6,873.1 L330.6,876.7 L325.7,880.2 L320.8,883.8 L315.9,887.4 L311.0,891.1 L306.1,894.8 L301.2,898.6 L296.2,902.4 L291.3,906.3 L286.4,910.3 L281.5,914.4 L276.6,918.6 L271.7,922.9 L266.7,927.3 L261.8,931.7 L256.9,936.2 L252.0,940.7 L247.1,945.3 L242.2,949.9 L237.3,954.6 L232.3,959.3 L227.4,963.9 L222.5,968.6 L217.6,973.3 L212.7,978.1 L207.8,982.8 L202.8,987.5 L197.9,992.3 L193.0,997.0 L188.1,1001.8Z" fill="#E65C00" fill-opacity="0.15"/>
<circle cx="187.3" cy="974.8" r="4.5" fill="#E65C00" fill-opacity="0.1" stroke="#E65C00" stroke-opacity="0.75" stroke-width="1.0"/>
<circle cx="210.9" cy="944.9" r="4.5" fill="#E65C00" fill-opacity="0.1" stroke="#E65C00" stroke-opacity="0.75" stroke-width="1.0"/>
<circle cx="224.8" cy="932.4" r="4.5" fill="#E65C00" fill-opacity="0.1" stroke="#E65C00" stroke-opacity="0.75" stroke-width="1.0"/>
<circle cx="231.7" cy="939.4" r="4.5" fill="#E65C00" fill-opacity="0.1" stroke="#E65C00" stroke-opacity="0.75" stroke-width="1.0"/>
<circle cx="235.2" cy="960.9" r="4.5" fill="#E65C00" fill-opacity="0.1" stroke="#E65C00" stroke-opacity="0.75" stroke-width="1.0"/>
<circle cx="232.4" cy="966.5" r="4.5" fill="#E65C00" fill-opacity="0.1" stroke="#E65C00" stroke-opacity="0.75" stroke-width="1.0"/>
<circle cx="246.3" cy="945.6" r="4.5" fill="#E65C00" fill-opacity="0.1" stroke="#E65C00" stroke-opacity="0.75" stroke-width="1.0"/>
<circle cx="257.4" cy="942.2" r="4.5" fill="#E65C00" fill-opacity="0.1" stroke="#E65C00" stroke-opacity="0.75" stroke-width="1.0"/>
<circle cx="245.6" cy="924.8" r="4.5" fill="#E65C00" fill-opacity="0.1" stroke="#E65C00" stroke-opacity="0.75" stroke-width="1.0"/>
<circle cx="251.9" cy="925.5" r="4.5" fill="#E65C00" fill-opacity="0.1" stroke="#E65C00" stroke-opacity="0.75" stroke-width="1.0"/>
<circle cx="260.9" cy="914.4" r="4.5" fill="#E65C00" fill-opacity="0.1" stroke="#E65C00" stroke-opacity="0.75" stroke-width="1.0"/>
<circle cx="274.8" cy="898.4" r="4.5" fill="#E65C00" fill-opacity="0.1" stroke="#E65C00" stroke-opacity="0.75" stroke-width="1.0"/>
<circle cx="279.7" cy="899.8" r="4.5" fill="#E65C00" fill-opacity="0.1" stroke="#E65C00" stroke-opacity="0.75" stroke-width="1.0"/>
<circle cx="276.9" cy="934.5" r="4.5" fill="#E65C00" fill-opacity="0.1" stroke="#E65C00" stroke-opacity="0.75" stroke-width="1.0"/>
<circle cx="283.2" cy="934.5" r="4.5" fill="#E65C00" fill-opacity="0.1" stroke="#E65C00" stroke-opacity="0.75" stroke-width="1.0"/>
<circle cx="295.0" cy="929.6" r="4.5" fill="#E65C00" fill-opacity="0.1" stroke="#E65C00" stroke-opacity="0.75" stroke-width="1.0"/>
<circle cx="295.7" cy="935.2" r="4.5" fill="#E65C00" fill-opacity="0.1" stroke="#E65C00" stroke-opacity="0.75" stroke-width="1.0"/>
<circle cx="297.7" cy="915.7" r="4.5" fill="#E65C00" fill-opacity="0.1" stroke="#E65C00" stroke-opacity="0.75" stroke-width="1.0"/>
<circle cx="305.4" cy="901.8" r="4.5" fill="#E65C00" fill-opacity="0.1" stroke="#E65C00" stroke-opacity="0.75" stroke-width="1.0"/>
<circle cx="310.3" cy="915.1" r="4.5" fill="#E65C00" fill-opacity="0.1" stroke="#E65C00" stroke-opacity="0.75" stroke-width="1.0"/>
<circle cx="313.0" cy="897.0" r="4.5" fill="#E65C00" fill-opacity="0.1" stroke="#E65C00" stroke-opacity="0.75" stroke-width="1.0"/>
<circle cx="298.4" cy="885.2" r="4.5" fill="#E65C00" fill-opacity="0.1" stroke="#E65C00" stroke-opacity="0.75" stroke-width="1.0"/>
<circle cx="335.3" cy="879.6" r="4.5" fill="#E65C00" fill-opacity="0.1" stroke="#E65C00" stroke-opacity="0.75" stroke-width="1.0"/>
<circle cx="333.9" cy="846.3" r="4.5" fill="#E65C00" fill-opacity="0.1" stroke="#E65C00" stroke-opacity="0.75" stroke-width="1.0"/>
<circle cx="379.1" cy="810.0" r="4.5" fill="#E65C00" fill-opacity="0.1" stroke="#E65C00" stroke-opacity="0.75" stroke-width="1.0"/>
<circle cx="364.5" cy="816.7" r="4.5" fill="#E65C00" fill-opacity="0.1" stroke="#E65C00" stroke-opacity="0.75" stroke-width="1.0"/>
<circle cx="352.1" cy="825.8" r="4.5" fill="#E65C00" fill-opacity="0.1" stroke="#E65C00" stroke-opacity="0.75" stroke-width="1.0"/>
<circle cx="380.9" cy="819.1" r="4.5" fill="#E65C00" fill-opacity="0.1" stroke="#E65C00" stroke-opacity="0.75" stroke-width="1.0"/>
<circle cx="348.7" cy="845.9" r="4.5" fill="#E65C00" fill-opacity="0.1" stroke="#E65C00" stroke-opacity="0.75" stroke-width="1.0"/>
<circle cx="348.1" cy="853.2" r="4.5" fill="#E65C00" fill-opacity="0.1" stroke="#E65C00" stroke-opacity="0.75" stroke-width="1.0"/>
<circle cx="356.0" cy="862.9" r="4.5" fill="#E65C00" fill-opacity="0.1" stroke="#E65C00" stroke-opacity="0.75" stroke-width="1.0"/>
<circle cx="156.0" cy="993.6" r="4.5" fill="#009E73" fill-opacity="0.1" stroke="#009E73" stroke-opacity="0.75" stroke-width="1.0"/>
<circle cx="189.3" cy="975.5" r="4.5" fill="#009E73" fill-opacity="0.1" stroke="#009E73" stroke-opacity="0.75" stroke-width="1.0"/>
<circle cx="215.7" cy="955.4" r="4.5" fill="#009E73" fill-opacity="0.1" stroke="#009E73" stroke-opacity="0.75" stroke-width="1.0"/>
<circle cx="230.3" cy="953.3" r="4.5" fill="#009E73" fill-opacity="0.1" stroke="#009E73" stroke-opacity="0.75" stroke-width="1.0"/>
<circle cx="233.1" cy="940.1" r="4.5" fill="#009E73" fill-opacity="0.1" stroke="#009E73" stroke-opacity="0.75" stroke-width="1.0"/>
<circle cx="244.9" cy="920.6" r="4.5" fill="#009E73" fill-opacity="0.1" stroke="#009E73" stroke-opacity="0.75" stroke-width="1.0"/>
<circle cx="258.8" cy="919.2" r="4.5" fill="#009E73" fill-opacity="0.1" stroke="#009E73" stroke-opacity="0.75" stroke-width="1.0"/>
<circle cx="262.0" cy="908.1" r="4.5" fill="#009E73" fill-opacity="0.1" stroke="#009E73" stroke-opacity="0.75" stroke-width="1.0"/>
<circle cx="270.6" cy="903.9" r="4.5" fill="#009E73" fill-opacity="0.1" stroke="#009E73" stroke-opacity="0.75" stroke-width="1.0"/>
<circle cx="279.0" cy="901.2" r="4.5" fill="#009E73" fill-opacity="0.1" stroke="#009E73" stroke-opacity="0.75" stroke-width="1.0"/>
<circle cx="263.7" cy="931.0" r="4.5" fill="#009E73" fill-opacity="0.1" stroke="#009E73" stroke-opacity="0.75" stroke-width="1.0"/>
<circle cx="280.4" cy="931.7" r="4.5" fill="#009E73" fill-opacity="0.1" stroke="#009E73" stroke-opacity="0.75" stroke-width="1.0"/>
<circle cx="290.8" cy="890.0" r="4.5" fill="#009E73" fill-opacity="0.1" stroke="#009E73" stroke-opacity="0.75" stroke-width="1.0"/>
<circle cx="295.7" cy="909.5" r="4.5" fill="#009E73" fill-opacity="0.1" stroke="#009E73" stroke-opacity="0.75" stroke-width="1.0"/>
<circle cx="308.2" cy="874.7" r="4.5" fill="#009E73" fill-opacity="0.1" stroke="#009E73" stroke-opacity="0.75" stroke-width="1.0"/>
<circle cx="314.4" cy="904.6" r="4.5" fill="#009E73" fill-opacity="0.1" stroke="#009E73" stroke-opacity="0.75" stroke-width="1.0"/>
<circle cx="321.4" cy="864.3" r="4.5" fill="#009E73" fill-opacity="0.1" stroke="#009E73" stroke-opacity="0.75" stroke-width="1.0"/>
<circle cx="329.0" cy="858.8" r="4.5" fill="#009E73" fill-opacity="0.1" stroke="#009E73" stroke-opacity="0.75" stroke-width="1.0"/>
<circle cx="332.5" cy="849.7" r="4.5" fill="#009E73" fill-opacity="0.1" stroke="#009E73" stroke-opacity="0.75" stroke-width="1.0"/>
<circle cx="434.2" cy="763.7" r="4.5" fill="#009E73" fill-opacity="0.1" stroke="#009E73" stroke-opacity="0.75" stroke-width="1.0"/>
<circle cx="404.0" cy="777.1" r="4.5" fill="#009E73" fill-opacity="0.1" stroke="#009E73" stroke-opacity="0.75" stroke-width="1.0"/>
<circle cx="406.8" cy="785.3" r="4.5" fill="#009E73" fill-opacity="0.1" stroke="#009E73" stroke-opacity="0.75" stroke-width="1.0"/>
<circle cx="385.2" cy="796.2" r="4.5" fill="#009E73" fill-opacity="0.1" stroke="#009E73" stroke-opacity="0.75" stroke-width="1.0"/>
<circle cx="374.8" cy="816.7" r="4.5" fill="#009E73" fill-opacity="0.1" stroke="#009E73" stroke-opacity="0.75" stroke-width="1.0"/>
<circle cx="368.1" cy="827.6" r="4.5" fill="#009E73" fill-opacity="0.1" stroke="#009E73" stroke-opacity="0.75" stroke-width="1.0"/>
<circle cx="382.1" cy="826.4" r="4.5" fill="#009E73" fill-opacity="0.1" stroke="#009E73" stroke-opacity="0.75" stroke-width="1.0"/>
<circle cx="367.5" cy="842.2" r="4.5" fill="#009E73" fill-opacity="0.1" stroke="#009E73" stroke-opacity="0.75" stroke-width="1.0"/>
<circle cx="329.2" cy="859.8" r="4.5" fill="#009E73" fill-opacity="0.1" stroke="#009E73" stroke-opacity="0.75" stroke-width="1.0"/>
<path d="M188.1,984.2 L379.8,824.3 L379.8,830.5 L188.1,990.4Z" fill="#E65C00"/>
<path d="M156.0,1006.9 L434.7,769.0 L434.7,775.2 L156.0,1013.1Z" fill="#009E73"/>
<path d="M120.8,702.1 L120.8,1039.4 L480.8,1039.4" fill="none" stroke="#000" stroke-width="2.2"/>
<line x1="111.6" y1="729.4" x2="120.8" y2="729.4" stroke="#000" stroke-width="2.2"/>
<text x="108.8" y="740.8" text-anchor="end" font-size="32">−0.6</text>
<line x1="111.6" y1="828.2" x2="120.8" y2="828.2" stroke="#000" stroke-width="2.2"/>
<text x="108.8" y="839.6" text-anchor="end" font-size="32">−1.3</text>
<line x1="111.6" y1="927.2" x2="120.8" y2="927.2" stroke="#000" stroke-width="2.2"/>
<text x="108.8" y="938.6" text-anchor="end" font-size="32">−2.0</text>
<line x1="111.6" y1="1026.5" x2="120.8" y2="1026.5" stroke="#000" stroke-width="2.2"/>
<text x="108.8" y="1037.9" text-anchor="end" font-size="32">−2.7</text>
<line x1="134.2" y1="1039.4" x2="134.2" y2="1049.9" stroke="#000" stroke-width="2.2"/>
<text x="134.2" y="1095.8" text-anchor="middle" font-size="32">−2.3</text>
<line x1="245.2" y1="1039.4" x2="245.2" y2="1049.9" stroke="#000" stroke-width="2.2"/>
<text x="245.2" y="1095.8" text-anchor="middle" font-size="32">−1.7</text>
<line x1="356.6" y1="1039.4" x2="356.6" y2="1049.9" stroke="#000" stroke-width="2.2"/>
<text x="356.6" y="1095.8" text-anchor="middle" font-size="32">−1.1</text>
<line x1="468.0" y1="1039.4" x2="468.0" y2="1049.9" stroke="#000" stroke-width="2.2"/>
<text x="468.0" y="1095.8" text-anchor="middle" font-size="32">−0.5</text>
<text x="131" y="734" font-size="42" font-weight="bold">d</text>
<text x="221.4" y="1001.8" font-size="27.5" fill="#009E73" font-style="italic">R</text>
<text x="244.6" y="987.7" font-size="19" fill="#009E73">2</text>
<line x1="262.0" y1="992.2" x2="276.4" y2="992.2" stroke="#009E73" stroke-width="1.25"/>
<line x1="262.0" y1="997.5" x2="276.4" y2="997.5" stroke="#009E73" stroke-width="1.25"/>
<text x="282.8" y="1001.8" font-size="27.5" fill="#009E73">0.96</text>
<text x="343.8" y="1001.8" font-size="27.5" fill="#009E73" font-style="italic">p</text>
<text x="364.8" y="1001.8" font-size="27.5" fill="#009E73">= 2.2e-16</text>
<text x="220.5" y="1032.6" font-size="27.5" fill="#E65C00" font-style="italic">R</text>
<text x="240.6" y="1013.8" font-size="19" fill="#E65C00">2</text>
<line x1="259.3" y1="1023.0" x2="273.7" y2="1023.0" stroke="#E65C00" stroke-width="1.25"/>
<line x1="259.3" y1="1028.3" x2="273.7" y2="1028.3" stroke="#E65C00" stroke-width="1.25"/>
<text x="280.1" y="1032.6" font-size="27.5" fill="#E65C00">0.83</text>
<text x="340.0" y="1032.6" font-size="27.5" fill="#E65C00" font-style="italic">p</text>
<text x="361.4" y="1032.6" font-size="27.5" fill="#E65C00">= 3.5e-14</text>
<g transform="translate(29.9,938.1) rotate(-90)"><g fill="none" stroke="#000" stroke-width="1.9"><path d="M9.7,-13.8 L9.7,6.8"/><path d="M0.3,-12.8 C2.9,-12.0 2.3,-6.8 3.7,-3.5 C5.1,-0.3 7.1,0.0 9.7,0.0 C13.6,0.0 15.9,-1.9 16.9,-5.9 C17.7,-9.2 17.7,-12.0 19.1,-14.3"/></g></g>
<g transform="translate(29.9,938.1) rotate(-90)">
<text x="21.0" y="5.0" font-size="22" >tlp</text>
<text x="51.9" y="0.0" font-size="31" >(MPa)</text>
</g>
<g>
<text x="241.5" y="1143.8" font-size="28" >π</text>
<text x="257.6" y="1148.3" font-size="22" >o</text>
<text x="278.9" y="1143.8" font-size="31" >(MPa)</text>
</g>
<path d="M638.3,734.9 L645.6,741.8 L652.8,748.7 L660.1,755.5 L667.4,762.4 L674.7,769.2 L681.9,776.0 L689.2,782.8 L696.5,789.6 L703.7,796.4 L711.0,803.2 L718.3,810.0 L725.6,816.7 L732.8,823.4 L740.1,830.1 L747.4,836.8 L754.6,843.4 L761.9,849.9 L769.2,856.4 L776.5,862.8 L783.7,869.1 L791.0,875.3 L798.3,881.3 L805.6,887.3 L812.8,893.0 L820.1,898.7 L827.4,904.1 L834.6,909.5 L841.9,914.7 L849.2,919.9 L856.5,924.9 L863.7,929.9 L871.0,934.8 L878.3,939.7 L885.5,944.5 L892.8,949.3 L900.1,954.1 L907.4,958.9 L914.6,963.6 L921.9,968.3 L921.9,1008.5 L914.6,1001.7 L907.4,994.9 L900.1,988.1 L892.8,981.4 L885.5,974.7 L878.3,968.0 L871.0,961.4 L863.7,954.8 L856.5,948.3 L849.2,941.8 L841.9,935.4 L834.6,929.2 L827.4,923.0 L820.1,917.0 L812.8,911.1 L805.6,905.3 L798.3,899.7 L791.0,894.3 L783.7,889.0 L776.5,883.8 L769.2,878.6 L761.9,873.6 L754.6,868.6 L747.4,863.7 L740.1,858.9 L732.8,854.0 L725.6,849.2 L718.3,844.5 L711.0,839.7 L703.7,835.0 L696.5,830.3 L689.2,825.5 L681.9,820.9 L674.7,816.2 L667.4,811.5 L660.1,806.8 L652.8,802.2 L645.6,797.5 L638.3,792.9Z" fill="#009E73" fill-opacity="0.2"/>
<path d="M671.2,781.6 L676.2,786.5 L681.3,791.4 L686.3,796.2 L691.4,801.1 L696.4,806.0 L701.4,810.8 L706.5,815.6 L711.5,820.4 L716.6,825.1 L721.6,829.8 L726.7,834.5 L731.7,839.0 L736.7,843.5 L741.8,847.9 L746.8,852.2 L751.9,856.3 L756.9,860.2 L761.9,863.9 L767.0,867.4 L772.0,870.6 L777.1,873.6 L782.1,876.3 L787.1,878.9 L792.2,881.2 L797.2,883.4 L802.3,885.4 L807.3,887.3 L812.3,889.2 L817.4,891.0 L822.4,892.7 L827.5,894.4 L832.5,896.0 L837.6,897.6 L842.6,899.2 L847.6,900.7 L852.7,902.3 L857.7,903.8 L862.8,905.3 L867.8,906.8 L867.8,982.2 L862.8,977.3 L857.7,972.4 L852.7,967.5 L847.6,962.7 L842.6,957.8 L837.6,953.0 L832.5,948.2 L827.5,943.4 L822.4,938.7 L817.4,934.0 L812.3,929.4 L807.3,924.8 L802.3,920.3 L797.2,916.0 L792.2,911.7 L787.1,907.7 L782.1,903.8 L777.1,900.1 L772.0,896.7 L767.0,893.5 L761.9,890.6 L756.9,887.9 L751.9,885.4 L746.8,883.1 L741.8,881.0 L736.7,879.0 L731.7,877.0 L726.7,875.2 L721.6,873.4 L716.6,871.7 L711.5,870.1 L706.5,868.4 L701.4,866.8 L696.4,865.3 L691.4,863.7 L686.3,862.2 L681.3,860.6 L676.2,859.1 L671.2,857.6Z" fill="#E65C00" fill-opacity="0.15"/>
<circle cx="670.7" cy="764.3" r="4.5" fill="#E65C00" fill-opacity="0.1" stroke="#E65C00" stroke-opacity="0.75" stroke-width="1.0"/>
<circle cx="716.3" cy="766.7" r="4.5" fill="#E65C00" fill-opacity="0.1" stroke="#E65C00" stroke-opacity="0.75" stroke-width="1.0"/>
<circle cx="729.8" cy="774.1" r="4.5" fill="#E65C00" fill-opacity="0.1" stroke="#E65C00" stroke-opacity="0.75" stroke-width="1.0"/>
<circle cx="759.7" cy="790.7" r="4.5" fill="#E65C00" fill-opacity="0.1" stroke="#E65C00" stroke-opacity="0.75" stroke-width="1.0"/>
<circle cx="730.5" cy="813.0" r="4.5" fill="#E65C00" fill-opacity="0.1" stroke="#E65C00" stroke-opacity="0.75" stroke-width="1.0"/>
<circle cx="742.3" cy="826.9" r="4.5" fill="#E65C00" fill-opacity="0.1" stroke="#E65C00" stroke-opacity="0.75" stroke-width="1.0"/>
<circle cx="694.4" cy="839.0" r="4.5" fill="#E65C00" fill-opacity="0.1" stroke="#E65C00" stroke-opacity="0.75" stroke-width="1.0"/>
<circle cx="746.5" cy="842.2" r="4.5" fill="#E65C00" fill-opacity="0.1" stroke="#E65C00" stroke-opacity="0.75" stroke-width="1.0"/>
<circle cx="764.6" cy="860.9" r="4.5" fill="#E65C00" fill-opacity="0.1" stroke="#E65C00" stroke-opacity="0.75" stroke-width="1.0"/>
<circle cx="784.7" cy="873.4" r="4.5" fill="#E65C00" fill-opacity="0.1" stroke="#E65C00" stroke-opacity="0.75" stroke-width="1.0"/>
<circle cx="741.6" cy="873.4" r="4.5" fill="#E65C00" fill-opacity="0.1" stroke="#E65C00" stroke-opacity="0.75" stroke-width="1.0"/>
<circle cx="734.0" cy="878.3" r="4.5" fill="#E65C00" fill-opacity="0.1" stroke="#E65C00" stroke-opacity="0.75" stroke-width="1.0"/>
<circle cx="761.8" cy="879.0" r="4.5" fill="#E65C00" fill-opacity="0.1" stroke="#E65C00" stroke-opacity="0.75" stroke-width="1.0"/>
<circle cx="716.5" cy="888.1" r="4.5" fill="#E65C00" fill-opacity="0.1" stroke="#E65C00" stroke-opacity="0.75" stroke-width="1.0"/>
<circle cx="708.7" cy="897.0" r="4.5" fill="#E65C00" fill-opacity="0.1" stroke="#E65C00" stroke-opacity="0.75" stroke-width="1.0"/>
<circle cx="719.3" cy="896.4" r="4.5" fill="#E65C00" fill-opacity="0.1" stroke="#E65C00" stroke-opacity="0.75" stroke-width="1.0"/>
<circle cx="838.5" cy="846.4" r="4.5" fill="#E65C00" fill-opacity="0.1" stroke="#E65C00" stroke-opacity="0.75" stroke-width="1.0"/>
<circle cx="851.5" cy="868.9" r="4.5" fill="#E65C00" fill-opacity="0.1" stroke="#E65C00" stroke-opacity="0.75" stroke-width="1.0"/>
<circle cx="782.9" cy="905.9" r="4.5" fill="#E65C00" fill-opacity="0.1" stroke="#E65C00" stroke-opacity="0.75" stroke-width="1.0"/>
<circle cx="835.1" cy="910.4" r="4.5" fill="#E65C00" fill-opacity="0.1" stroke="#E65C00" stroke-opacity="0.75" stroke-width="1.0"/>
<circle cx="866.3" cy="932.3" r="4.5" fill="#E65C00" fill-opacity="0.1" stroke="#E65C00" stroke-opacity="0.75" stroke-width="1.0"/>
<circle cx="768.1" cy="931.9" r="4.5" fill="#E65C00" fill-opacity="0.1" stroke="#E65C00" stroke-opacity="0.75" stroke-width="1.0"/>
<circle cx="780.2" cy="927.3" r="4.5" fill="#E65C00" fill-opacity="0.1" stroke="#E65C00" stroke-opacity="0.75" stroke-width="1.0"/>
<circle cx="790.9" cy="930.5" r="4.5" fill="#E65C00" fill-opacity="0.1" stroke="#E65C00" stroke-opacity="0.75" stroke-width="1.0"/>
<circle cx="797.8" cy="937.9" r="4.5" fill="#E65C00" fill-opacity="0.1" stroke="#E65C00" stroke-opacity="0.75" stroke-width="1.0"/>
<circle cx="820.5" cy="929.8" r="4.5" fill="#E65C00" fill-opacity="0.1" stroke="#E65C00" stroke-opacity="0.75" stroke-width="1.0"/>
<circle cx="821.9" cy="934.7" r="4.5" fill="#E65C00" fill-opacity="0.1" stroke="#E65C00" stroke-opacity="0.75" stroke-width="1.0"/>
<circle cx="795.9" cy="947.6" r="4.5" fill="#E65C00" fill-opacity="0.1" stroke="#E65C00" stroke-opacity="0.75" stroke-width="1.0"/>
<circle cx="781.1" cy="959.7" r="4.5" fill="#E65C00" fill-opacity="0.1" stroke="#E65C00" stroke-opacity="0.75" stroke-width="1.0"/>
<circle cx="842.0" cy="964.6" r="4.5" fill="#E65C00" fill-opacity="0.1" stroke="#E65C00" stroke-opacity="0.75" stroke-width="1.0"/>
<circle cx="866.3" cy="950.0" r="4.5" fill="#E65C00" fill-opacity="0.1" stroke="#E65C00" stroke-opacity="0.75" stroke-width="1.0"/>
<circle cx="742.1" cy="917.8" r="4.5" fill="#E65C00" fill-opacity="0.1" stroke="#E65C00" stroke-opacity="0.75" stroke-width="1.0"/>
<circle cx="736.2" cy="955.1" r="4.5" fill="#E65C00" fill-opacity="0.1" stroke="#E65C00" stroke-opacity="0.75" stroke-width="1.0"/>
<circle cx="768.5" cy="932.1" r="4.5" fill="#E65C00" fill-opacity="0.1" stroke="#E65C00" stroke-opacity="0.75" stroke-width="1.0"/>
<circle cx="638.5" cy="754.6" r="4.5" fill="#009E73" fill-opacity="0.1" stroke="#009E73" stroke-opacity="0.75" stroke-width="1.0"/>
<circle cx="673.2" cy="767.1" r="4.5" fill="#009E73" fill-opacity="0.1" stroke="#009E73" stroke-opacity="0.75" stroke-width="1.0"/>
<circle cx="729.1" cy="768.5" r="4.5" fill="#009E73" fill-opacity="0.1" stroke="#009E73" stroke-opacity="0.75" stroke-width="1.0"/>
<circle cx="746.5" cy="784.2" r="4.5" fill="#009E73" fill-opacity="0.1" stroke="#009E73" stroke-opacity="0.75" stroke-width="1.0"/>
<circle cx="699.2" cy="816.2" r="4.5" fill="#009E73" fill-opacity="0.1" stroke="#009E73" stroke-opacity="0.75" stroke-width="1.0"/>
<circle cx="718.0" cy="815.8" r="4.5" fill="#009E73" fill-opacity="0.1" stroke="#009E73" stroke-opacity="0.75" stroke-width="1.0"/>
<circle cx="712.4" cy="821.3" r="4.5" fill="#009E73" fill-opacity="0.1" stroke="#009E73" stroke-opacity="0.75" stroke-width="1.0"/>
<circle cx="744.4" cy="828.3" r="4.5" fill="#009E73" fill-opacity="0.1" stroke="#009E73" stroke-opacity="0.75" stroke-width="1.0"/>
<circle cx="764.3" cy="838.0" r="4.5" fill="#009E73" fill-opacity="0.1" stroke="#009E73" stroke-opacity="0.75" stroke-width="1.0"/>
<circle cx="736.8" cy="855.4" r="4.5" fill="#009E73" fill-opacity="0.1" stroke="#009E73" stroke-opacity="0.75" stroke-width="1.0"/>
<circle cx="747.9" cy="882.5" r="4.5" fill="#009E73" fill-opacity="0.1" stroke="#009E73" stroke-opacity="0.75" stroke-width="1.0"/>
<circle cx="777.1" cy="883.9" r="4.5" fill="#009E73" fill-opacity="0.1" stroke="#009E73" stroke-opacity="0.75" stroke-width="1.0"/>
<circle cx="793.8" cy="885.3" r="4.5" fill="#009E73" fill-opacity="0.1" stroke="#009E73" stroke-opacity="0.75" stroke-width="1.0"/>
<circle cx="798.6" cy="851.9" r="4.5" fill="#009E73" fill-opacity="0.1" stroke="#009E73" stroke-opacity="0.75" stroke-width="1.0"/>
<circle cx="819.1" cy="877.3" r="4.5" fill="#009E73" fill-opacity="0.1" stroke="#009E73" stroke-opacity="0.75" stroke-width="1.0"/>
<circle cx="815.3" cy="882.3" r="4.5" fill="#009E73" fill-opacity="0.1" stroke="#009E73" stroke-opacity="0.75" stroke-width="1.0"/>
<circle cx="827.4" cy="895.8" r="4.5" fill="#009E73" fill-opacity="0.1" stroke="#009E73" stroke-opacity="0.75" stroke-width="1.0"/>
<circle cx="807.3" cy="906.9" r="4.5" fill="#009E73" fill-opacity="0.1" stroke="#009E73" stroke-opacity="0.75" stroke-width="1.0"/>
<circle cx="817.0" cy="912.4" r="4.5" fill="#009E73" fill-opacity="0.1" stroke="#009E73" stroke-opacity="0.75" stroke-width="1.0"/>
<circle cx="855.9" cy="909.0" r="4.5" fill="#009E73" fill-opacity="0.1" stroke="#009E73" stroke-opacity="0.75" stroke-width="1.0"/>
<circle cx="861.5" cy="919.8" r="4.5" fill="#009E73" fill-opacity="0.1" stroke="#009E73" stroke-opacity="0.75" stroke-width="1.0"/>
<circle cx="855.2" cy="927.7" r="4.5" fill="#009E73" fill-opacity="0.1" stroke="#009E73" stroke-opacity="0.75" stroke-width="1.0"/>
<circle cx="833.4" cy="936.1" r="4.5" fill="#009E73" fill-opacity="0.1" stroke="#009E73" stroke-opacity="0.75" stroke-width="1.0"/>
<circle cx="894.1" cy="926.3" r="4.5" fill="#009E73" fill-opacity="0.1" stroke="#009E73" stroke-opacity="0.75" stroke-width="1.0"/>
<circle cx="764.9" cy="931.2" r="4.5" fill="#009E73" fill-opacity="0.1" stroke="#009E73" stroke-opacity="0.75" stroke-width="1.0"/>
<circle cx="780.9" cy="936.8" r="4.5" fill="#009E73" fill-opacity="0.1" stroke="#009E73" stroke-opacity="0.75" stroke-width="1.0"/>
<circle cx="853.1" cy="949.3" r="4.5" fill="#009E73" fill-opacity="0.1" stroke="#009E73" stroke-opacity="0.75" stroke-width="1.0"/>
<circle cx="858.7" cy="950.7" r="4.5" fill="#009E73" fill-opacity="0.1" stroke="#009E73" stroke-opacity="0.75" stroke-width="1.0"/>
<circle cx="871.9" cy="954.6" r="4.5" fill="#009E73" fill-opacity="0.1" stroke="#009E73" stroke-opacity="0.75" stroke-width="1.0"/>
<circle cx="866.3" cy="960.4" r="4.5" fill="#009E73" fill-opacity="0.1" stroke="#009E73" stroke-opacity="0.75" stroke-width="1.0"/>
<circle cx="869.1" cy="963.2" r="4.5" fill="#009E73" fill-opacity="0.1" stroke="#009E73" stroke-opacity="0.75" stroke-width="1.0"/>
<circle cx="891.4" cy="948.6" r="4.5" fill="#009E73" fill-opacity="0.1" stroke="#009E73" stroke-opacity="0.75" stroke-width="1.0"/>
<circle cx="921.9" cy="964.6" r="4.5" fill="#009E73" fill-opacity="0.1" stroke="#009E73" stroke-opacity="0.75" stroke-width="1.0"/>
<circle cx="755.7" cy="937.3" r="4.5" fill="#009E73" fill-opacity="0.1" stroke="#009E73" stroke-opacity="0.75" stroke-width="1.0"/>
<path d="M671.5,815.9 L867.8,944.1 L867.8,950.3 L671.5,822.1Z" fill="#E65C00"/>
<path d="M638.3,759.5 L921.9,983.1 L921.9,989.3 L638.3,765.7Z" fill="#009E73"/>
<path d="M602.2,702.1 L602.2,1039.4 L970.8,1039.4" fill="none" stroke="#000" stroke-width="2.2"/>
<line x1="593.0" y1="714.8" x2="602.2" y2="714.8" stroke="#000" stroke-width="2.2"/>
<text x="590.2" y="726.2" text-anchor="end" font-size="32">18</text>
<line x1="593.0" y1="819.0" x2="602.2" y2="819.0" stroke="#000" stroke-width="2.2"/>
<text x="590.2" y="830.4" text-anchor="end" font-size="32">12</text>
<line x1="593.0" y1="922.4" x2="602.2" y2="922.4" stroke="#000" stroke-width="2.2"/>
<text x="590.2" y="933.8" text-anchor="end" font-size="32">6</text>
<line x1="593.0" y1="1026.5" x2="602.2" y2="1026.5" stroke="#000" stroke-width="2.2"/>
<text x="590.2" y="1037.9" text-anchor="end" font-size="32">0</text>
<line x1="616.2" y1="1039.4" x2="616.2" y2="1049.9" stroke="#000" stroke-width="2.2"/>
<text x="616.2" y="1095.8" text-anchor="middle" font-size="32">−2.3</text>
<line x1="729.6" y1="1039.4" x2="729.6" y2="1049.9" stroke="#000" stroke-width="2.2"/>
<text x="729.6" y="1095.8" text-anchor="middle" font-size="32">−1.7</text>
<line x1="842.6" y1="1039.4" x2="842.6" y2="1049.9" stroke="#000" stroke-width="2.2"/>
<text x="842.6" y="1095.8" text-anchor="middle" font-size="32">−1.1</text>
<line x1="956.0" y1="1039.4" x2="956.0" y2="1049.9" stroke="#000" stroke-width="2.2"/>
<text x="956.0" y="1095.8" text-anchor="middle" font-size="32">−0.5</text>
<text x="612" y="734" font-size="42" font-weight="bold">e</text>
<text x="616.4" y="999.6" font-size="27.5" fill="#009E73" font-style="italic">R</text>
<text x="637.6" y="987.2" font-size="19" fill="#009E73">2</text>
<line x1="655.3" y1="990.0" x2="669.7" y2="990.0" stroke="#009E73" stroke-width="1.25"/>
<line x1="655.3" y1="995.3" x2="669.7" y2="995.3" stroke="#009E73" stroke-width="1.25"/>
<text x="675.9" y="999.6" font-size="27.5" fill="#009E73">0.72</text>
<text x="736.1" y="999.6" font-size="27.5" fill="#009E73" font-style="italic">p</text>
<text x="757.6" y="999.6" font-size="27.5" fill="#009E73">= 6.5e-11</text>
<text x="616.4" y="1032.4" font-size="27.5" fill="#E65C00" font-style="italic">R</text>
<text x="637.6" y="1019.5" font-size="19" fill="#E65C00">2</text>
<line x1="655.3" y1="1022.8" x2="669.7" y2="1022.8" stroke="#E65C00" stroke-width="1.25"/>
<line x1="655.3" y1="1028.1" x2="669.7" y2="1028.1" stroke="#E65C00" stroke-width="1.25"/>
<text x="675.9" y="1032.4" font-size="27.5" fill="#E65C00">0.30</text>
<text x="736.1" y="1032.4" font-size="27.5" fill="#E65C00" font-style="italic">p</text>
<text x="757.6" y="1032.4" font-size="27.5" fill="#E65C00">= 4.9e-04</text>
<g transform="translate(516.7,944) rotate(-90)">
<text x="-0.8" y="0.0" font-size="31" >ε</text>
<text x="16.0" y="5.5" font-size="22" >sym</text>
<text x="62.2" y="0.0" font-size="31" >(MPa)</text>
</g>
<g>
<text x="726.3" y="1143.8" font-size="28" >π</text>
<text x="742.4" y="1148.3" font-size="22" >o</text>
<text x="763.7" y="1143.8" font-size="31" >(MPa)</text>
</g>
<path d="M1121.1,787.5 L1128.4,792.7 L1135.8,797.9 L1143.1,803.1 L1150.5,808.2 L1157.8,813.3 L1165.2,818.4 L1172.5,823.4 L1179.8,828.4 L1187.2,833.3 L1194.5,838.1 L1201.9,842.9 L1209.2,847.5 L1216.6,852.1 L1223.9,856.6 L1231.3,860.9 L1238.6,865.2 L1245.9,869.3 L1253.3,873.3 L1260.6,877.2 L1268.0,881.0 L1275.3,884.7 L1282.7,888.3 L1290.0,891.8 L1297.3,895.3 L1304.7,898.8 L1312.0,902.2 L1319.4,905.5 L1326.7,908.9 L1334.1,912.2 L1341.4,915.4 L1348.8,918.7 L1356.1,921.9 L1363.4,925.2 L1370.8,928.4 L1378.1,931.6 L1385.5,934.8 L1392.8,938.0 L1400.2,941.1 L1407.5,944.3 L1407.5,1002.7 L1400.2,997.4 L1392.8,992.1 L1385.5,986.8 L1378.1,981.6 L1370.8,976.3 L1363.4,971.1 L1356.1,965.8 L1348.8,960.6 L1341.4,955.4 L1334.1,950.2 L1326.7,945.1 L1319.4,939.9 L1312.0,934.8 L1304.7,929.8 L1297.3,924.8 L1290.0,919.8 L1282.7,914.9 L1275.3,910.0 L1268.0,905.3 L1260.6,900.6 L1253.3,896.0 L1245.9,891.6 L1238.6,887.2 L1231.3,883.0 L1223.9,878.9 L1216.6,874.9 L1209.2,871.0 L1201.9,867.2 L1194.5,863.5 L1187.2,859.9 L1179.8,856.3 L1172.5,852.8 L1165.2,849.4 L1157.8,846.0 L1150.5,842.6 L1143.1,839.3 L1135.8,836.0 L1128.4,832.7 L1121.1,829.5Z" fill="#009E73" fill-opacity="0.15"/>
<circle cx="1164.4" cy="799.8" r="4.5" fill="#E65C00" fill-opacity="0.1" stroke="#E65C00" stroke-opacity="0.75" stroke-width="1.0"/>
<circle cx="1139.9" cy="808.1" r="4.5" fill="#E65C00" fill-opacity="0.1" stroke="#E65C00" stroke-opacity="0.75" stroke-width="1.0"/>
<circle cx="1251.5" cy="806.7" r="4.5" fill="#E65C00" fill-opacity="0.1" stroke="#E65C00" stroke-opacity="0.75" stroke-width="1.0"/>
<circle cx="1281.0" cy="816.6" r="4.5" fill="#E65C00" fill-opacity="0.1" stroke="#E65C00" stroke-opacity="0.75" stroke-width="1.0"/>
<circle cx="1168.5" cy="838.4" r="4.5" fill="#E65C00" fill-opacity="0.1" stroke="#E65C00" stroke-opacity="0.75" stroke-width="1.0"/>
<circle cx="1194.2" cy="837.7" r="4.5" fill="#E65C00" fill-opacity="0.1" stroke="#E65C00" stroke-opacity="0.75" stroke-width="1.0"/>
<circle cx="1121.3" cy="854.7" r="4.5" fill="#E65C00" fill-opacity="0.1" stroke="#E65C00" stroke-opacity="0.75" stroke-width="1.0"/>
<circle cx="1162.3" cy="872.5" r="4.5" fill="#E65C00" fill-opacity="0.1" stroke="#E65C00" stroke-opacity="0.75" stroke-width="1.0"/>
<circle cx="1244.1" cy="879.7" r="4.5" fill="#E65C00" fill-opacity="0.1" stroke="#E65C00" stroke-opacity="0.75" stroke-width="1.0"/>
<circle cx="1157.4" cy="890.6" r="4.5" fill="#E65C00" fill-opacity="0.1" stroke="#E65C00" stroke-opacity="0.75" stroke-width="1.0"/>
<circle cx="1167.1" cy="895.7" r="4.5" fill="#E65C00" fill-opacity="0.1" stroke="#E65C00" stroke-opacity="0.75" stroke-width="1.0"/>
<circle cx="1262.2" cy="895.6" r="4.5" fill="#E65C00" fill-opacity="0.1" stroke="#E65C00" stroke-opacity="0.75" stroke-width="1.0"/>
<circle cx="1144.2" cy="909.5" r="4.5" fill="#E65C00" fill-opacity="0.1" stroke="#E65C00" stroke-opacity="0.75" stroke-width="1.0"/>
<circle cx="1134.2" cy="921.0" r="4.5" fill="#E65C00" fill-opacity="0.1" stroke="#E65C00" stroke-opacity="0.75" stroke-width="1.0"/>
<circle cx="1127.5" cy="930.7" r="4.5" fill="#E65C00" fill-opacity="0.1" stroke="#E65C00" stroke-opacity="0.75" stroke-width="1.0"/>
<circle cx="1165.7" cy="929.3" r="4.5" fill="#E65C00" fill-opacity="0.1" stroke="#E65C00" stroke-opacity="0.75" stroke-width="1.0"/>
<circle cx="1171.6" cy="925.2" r="4.5" fill="#E65C00" fill-opacity="0.1" stroke="#E65C00" stroke-opacity="0.75" stroke-width="1.0"/>
<circle cx="1184.8" cy="925.9" r="4.5" fill="#E65C00" fill-opacity="0.1" stroke="#E65C00" stroke-opacity="0.75" stroke-width="1.0"/>
<circle cx="1201.2" cy="910.6" r="4.5" fill="#E65C00" fill-opacity="0.1" stroke="#E65C00" stroke-opacity="0.75" stroke-width="1.0"/>
<circle cx="1213.3" cy="928.0" r="4.5" fill="#E65C00" fill-opacity="0.1" stroke="#E65C00" stroke-opacity="0.75" stroke-width="1.0"/>
<circle cx="1238.7" cy="926.6" r="4.5" fill="#E65C00" fill-opacity="0.1" stroke="#E65C00" stroke-opacity="0.75" stroke-width="1.0"/>
<circle cx="1237.6" cy="930.0" r="4.5" fill="#E65C00" fill-opacity="0.1" stroke="#E65C00" stroke-opacity="0.75" stroke-width="1.0"/>
<circle cx="1245.3" cy="938.7" r="4.5" fill="#E65C00" fill-opacity="0.1" stroke="#E65C00" stroke-opacity="0.75" stroke-width="1.0"/>
<circle cx="1214.3" cy="958.1" r="4.5" fill="#E65C00" fill-opacity="0.1" stroke="#E65C00" stroke-opacity="0.75" stroke-width="1.0"/>
<circle cx="1225.1" cy="963.4" r="4.5" fill="#E65C00" fill-opacity="0.1" stroke="#E65C00" stroke-opacity="0.75" stroke-width="1.0"/>
<circle cx="1357.8" cy="893.1" r="4.5" fill="#E65C00" fill-opacity="0.1" stroke="#E65C00" stroke-opacity="0.75" stroke-width="1.0"/>
<circle cx="1380.4" cy="919.9" r="4.5" fill="#E65C00" fill-opacity="0.1" stroke="#E65C00" stroke-opacity="0.75" stroke-width="1.0"/>
<circle cx="1390.5" cy="935.7" r="4.5" fill="#E65C00" fill-opacity="0.1" stroke="#E65C00" stroke-opacity="0.75" stroke-width="1.0"/>
<circle cx="1393.8" cy="972.0" r="4.5" fill="#E65C00" fill-opacity="0.1" stroke="#E65C00" stroke-opacity="0.75" stroke-width="1.0"/>
<circle cx="1286.8" cy="908.0" r="4.5" fill="#E65C00" fill-opacity="0.1" stroke="#E65C00" stroke-opacity="0.75" stroke-width="1.0"/>
<circle cx="1309.3" cy="910.3" r="4.5" fill="#E65C00" fill-opacity="0.1" stroke="#E65C00" stroke-opacity="0.75" stroke-width="1.0"/>
<circle cx="1292.5" cy="941.1" r="4.5" fill="#E65C00" fill-opacity="0.1" stroke="#E65C00" stroke-opacity="0.75" stroke-width="1.0"/>
<circle cx="1307.8" cy="937.7" r="4.5" fill="#E65C00" fill-opacity="0.1" stroke="#E65C00" stroke-opacity="0.75" stroke-width="1.0"/>
<circle cx="1327.3" cy="941.5" r="4.5" fill="#E65C00" fill-opacity="0.1" stroke="#E65C00" stroke-opacity="0.75" stroke-width="1.0"/>
<circle cx="1121.3" cy="751.1" r="4.5" fill="#009E73" fill-opacity="0.1" stroke="#009E73" stroke-opacity="0.75" stroke-width="1.0"/>
<circle cx="1142.7" cy="765.7" r="4.5" fill="#009E73" fill-opacity="0.1" stroke="#009E73" stroke-opacity="0.75" stroke-width="1.0"/>
<circle cx="1173.0" cy="773.8" r="4.5" fill="#009E73" fill-opacity="0.1" stroke="#009E73" stroke-opacity="0.75" stroke-width="1.0"/>
<circle cx="1134.5" cy="785.2" r="4.5" fill="#009E73" fill-opacity="0.1" stroke="#009E73" stroke-opacity="0.75" stroke-width="1.0"/>
<circle cx="1182.0" cy="806.7" r="4.5" fill="#009E73" fill-opacity="0.1" stroke="#009E73" stroke-opacity="0.75" stroke-width="1.0"/>
<circle cx="1170.6" cy="819.0" r="4.5" fill="#009E73" fill-opacity="0.1" stroke="#009E73" stroke-opacity="0.75" stroke-width="1.0"/>
<circle cx="1123.9" cy="816.5" r="4.5" fill="#009E73" fill-opacity="0.1" stroke="#009E73" stroke-opacity="0.75" stroke-width="1.0"/>
<circle cx="1126.7" cy="816.5" r="4.5" fill="#009E73" fill-opacity="0.1" stroke="#009E73" stroke-opacity="0.75" stroke-width="1.0"/>
<circle cx="1139.3" cy="823.4" r="4.5" fill="#009E73" fill-opacity="0.1" stroke="#009E73" stroke-opacity="0.75" stroke-width="1.0"/>
<circle cx="1141.3" cy="833.4" r="4.5" fill="#009E73" fill-opacity="0.1" stroke="#009E73" stroke-opacity="0.75" stroke-width="1.0"/>
<circle cx="1196.6" cy="827.9" r="4.5" fill="#009E73" fill-opacity="0.1" stroke="#009E73" stroke-opacity="0.75" stroke-width="1.0"/>
<circle cx="1160.7" cy="846.1" r="4.5" fill="#009E73" fill-opacity="0.1" stroke="#009E73" stroke-opacity="0.75" stroke-width="1.0"/>
<circle cx="1195.2" cy="849.8" r="4.5" fill="#009E73" fill-opacity="0.1" stroke="#009E73" stroke-opacity="0.75" stroke-width="1.0"/>
<circle cx="1189.7" cy="855.1" r="4.5" fill="#009E73" fill-opacity="0.1" stroke="#009E73" stroke-opacity="0.75" stroke-width="1.0"/>
<circle cx="1199.4" cy="858.2" r="4.5" fill="#009E73" fill-opacity="0.1" stroke="#009E73" stroke-opacity="0.75" stroke-width="1.0"/>
<circle cx="1215.4" cy="844.7" r="4.5" fill="#009E73" fill-opacity="0.1" stroke="#009E73" stroke-opacity="0.75" stroke-width="1.0"/>
<circle cx="1240.0" cy="841.9" r="4.5" fill="#009E73" fill-opacity="0.1" stroke="#009E73" stroke-opacity="0.75" stroke-width="1.0"/>
<circle cx="1233.4" cy="851.9" r="4.5" fill="#009E73" fill-opacity="0.1" stroke="#009E73" stroke-opacity="0.75" stroke-width="1.0"/>
<circle cx="1229.3" cy="867.2" r="4.5" fill="#009E73" fill-opacity="0.1" stroke="#009E73" stroke-opacity="0.75" stroke-width="1.0"/>
<circle cx="1230.7" cy="884.6" r="4.5" fill="#009E73" fill-opacity="0.1" stroke="#009E73" stroke-opacity="0.75" stroke-width="1.0"/>
<circle cx="1158.1" cy="897.1" r="4.5" fill="#009E73" fill-opacity="0.1" stroke="#009E73" stroke-opacity="0.75" stroke-width="1.0"/>
<circle cx="1158.4" cy="897.8" r="4.5" fill="#009E73" fill-opacity="0.1" stroke="#009E73" stroke-opacity="0.75" stroke-width="1.0"/>
<circle cx="1158.7" cy="903.6" r="4.5" fill="#009E73" fill-opacity="0.1" stroke="#009E73" stroke-opacity="0.75" stroke-width="1.0"/>
<circle cx="1166.0" cy="927.3" r="4.5" fill="#009E73" fill-opacity="0.1" stroke="#009E73" stroke-opacity="0.75" stroke-width="1.0"/>
<circle cx="1232.7" cy="926.6" r="4.5" fill="#009E73" fill-opacity="0.1" stroke="#009E73" stroke-opacity="0.75" stroke-width="1.0"/>
<circle cx="1269.3" cy="924.8" r="4.5" fill="#009E73" fill-opacity="0.1" stroke="#009E73" stroke-opacity="0.75" stroke-width="1.0"/>
<circle cx="1273.8" cy="898.8" r="4.5" fill="#009E73" fill-opacity="0.1" stroke="#009E73" stroke-opacity="0.75" stroke-width="1.0"/>
<circle cx="1366.6" cy="902.3" r="4.5" fill="#009E73" fill-opacity="0.1" stroke="#009E73" stroke-opacity="0.75" stroke-width="1.0"/>
<circle cx="1387.7" cy="915.3" r="4.5" fill="#009E73" fill-opacity="0.1" stroke="#009E73" stroke-opacity="0.75" stroke-width="1.0"/>
<circle cx="1390.0" cy="973.0" r="4.5" fill="#009E73" fill-opacity="0.1" stroke="#009E73" stroke-opacity="0.75" stroke-width="1.0"/>
<circle cx="1407.1" cy="992.1" r="4.5" fill="#009E73" fill-opacity="0.1" stroke="#009E73" stroke-opacity="0.75" stroke-width="1.0"/>
<circle cx="1292.9" cy="898.5" r="4.5" fill="#009E73" fill-opacity="0.1" stroke="#009E73" stroke-opacity="0.75" stroke-width="1.0"/>
<circle cx="1305.9" cy="915.7" r="4.5" fill="#009E73" fill-opacity="0.1" stroke="#009E73" stroke-opacity="0.75" stroke-width="1.0"/>
<circle cx="1324.0" cy="937.7" r="4.5" fill="#009E73" fill-opacity="0.1" stroke="#009E73" stroke-opacity="0.75" stroke-width="1.0"/>
<circle cx="1316.8" cy="948.5" r="4.5" fill="#009E73" fill-opacity="0.1" stroke="#009E73" stroke-opacity="0.75" stroke-width="1.0"/>
<circle cx="1324.0" cy="952.9" r="4.5" fill="#009E73" fill-opacity="0.1" stroke="#009E73" stroke-opacity="0.75" stroke-width="1.0"/>
<path d="M1121.1,805.4 L1407.5,970.9 L1407.5,976.5 L1121.1,811.0Z" fill="#009E73"/>
<path d="M1094.1,702.1 L1094.1,1039.4 L1448.8,1039.4" fill="none" stroke="#000" stroke-width="2.2"/>
<line x1="1084.8999999999999" y1="715.6" x2="1094.1" y2="715.6" stroke="#000" stroke-width="2.2"/>
<text x="1082.1" y="727.0" text-anchor="end" font-size="32">−0.6</text>
<line x1="1084.8999999999999" y1="819.0" x2="1094.1" y2="819.0" stroke="#000" stroke-width="2.2"/>
<text x="1082.1" y="830.4" text-anchor="end" font-size="32">−1.3</text>
<line x1="1084.8999999999999" y1="922.4" x2="1094.1" y2="922.4" stroke="#000" stroke-width="2.2"/>
<text x="1082.1" y="933.8" text-anchor="end" font-size="32">−2.0</text>
<line x1="1084.8999999999999" y1="1026.5" x2="1094.1" y2="1026.5" stroke="#000" stroke-width="2.2"/>
<text x="1082.1" y="1037.9" text-anchor="end" font-size="32">−2.7</text>
<line x1="1107.4" y1="1039.4" x2="1107.4" y2="1049.9" stroke="#000" stroke-width="2.2"/>
<text x="1107.4" y="1095.8" text-anchor="middle" font-size="32">3</text>
<line x1="1201.2" y1="1039.4" x2="1201.2" y2="1049.9" stroke="#000" stroke-width="2.2"/>
<text x="1201.2" y="1095.8" text-anchor="middle" font-size="32">7</text>
<line x1="1295.3" y1="1039.4" x2="1295.3" y2="1049.9" stroke="#000" stroke-width="2.2"/>
<text x="1295.3" y="1095.8" text-anchor="middle" font-size="32">11</text>
<line x1="1389.9" y1="1039.4" x2="1389.9" y2="1049.9" stroke="#000" stroke-width="2.2"/>
<text x="1389.9" y="1095.8" text-anchor="middle" font-size="32">15</text>
<text x="1103" y="734" font-size="42" font-weight="bold">f</text>
<text x="1104.7" y="1032.5" font-size="27.5" fill="#009E73" font-style="italic">R</text>
<text x="1125.6" y="1018.9" font-size="19" fill="#009E73">2</text>
<line x1="1143.5" y1="1022.9" x2="1157.9" y2="1022.9" stroke="#009E73" stroke-width="1.25"/>
<line x1="1143.5" y1="1028.2" x2="1157.9" y2="1028.2" stroke="#009E73" stroke-width="1.25"/>
<text x="1163.9" y="1032.5" font-size="27.5" fill="#009E73">0.62</text>
<text x="1224.0" y="1032.5" font-size="27.5" fill="#009E73" font-style="italic">p</text>
<text x="1245.5" y="1032.5" font-size="27.5" fill="#009E73">= 1.2e-08</text>
<g transform="translate(1003.2,938.1) rotate(-90)"><g fill="none" stroke="#000" stroke-width="1.9"><path d="M9.7,-13.8 L9.7,6.8"/><path d="M0.3,-12.8 C2.9,-12.0 2.3,-6.8 3.7,-3.5 C5.1,-0.3 7.1,0.0 9.7,0.0 C13.6,0.0 15.9,-1.9 16.9,-5.9 C17.7,-9.2 17.7,-12.0 19.1,-14.3"/></g></g>
<g transform="translate(1003.2,938.1) rotate(-90)">
<text x="21.0" y="5.0" font-size="22" >tlp</text>
<text x="51.9" y="0.0" font-size="31" >(MPa)</text>
</g>
<g>
<text x="1199.3" y="1138.0" font-size="29" >ε</text>
<text x="1213.0" y="1143.5" font-size="22" >sym</text>
<text x="1263.8" y="1138.0" font-size="31" >(MPa)</text>
</g>
<g transform="translate(490,100) scale(0.26171)">
<path d="M438.00,411.00 C446.50,391.67 450.17,394.67 468.00,383.00 C485.83,371.33 525.67,351.17 545.00,341.00 C564.33,330.83 563.83,330.50 584.00,322.00 C604.17,313.50 644.67,296.50 666.00,290.00 C687.33,283.50 691.17,290.00 712.00,283.00 C732.83,276.00 771.67,257.00 791.00,248.00 C810.33,239.00 807.83,230.50 828.00,229.00 C848.17,227.50 891.33,233.83 912.00,239.00 C932.67,244.17 932.00,251.00 952.00,260.00 C972.00,269.00 1013.33,283.67 1032.00,293.00 C1050.67,302.33 1056.00,304.83 1064.00,316.00 C1072.00,327.17 1077.00,345.33 1080.00,360.00 C1083.00,374.67 1086.17,390.83 1082.00,404.00 C1077.83,417.17 1070.67,423.17 1055.00,439.00 C1039.33,454.83 1002.83,482.17 988.00,499.00 C973.17,515.83 971.67,523.67 966.00,540.00 C960.33,556.33 956.67,582.00 954.00,597.00 C951.33,612.00 952.67,618.17 950.00,630.00 C947.33,641.83 945.17,656.17 938.00,668.00 C930.83,679.83 920.00,691.00 907.00,701.00 C894.00,711.00 877.33,718.83 860.00,728.00 C842.67,737.17 820.67,749.33 803.00,756.00 C785.33,762.67 767.17,761.50 754.00,768.00 C740.83,774.50 739.00,780.50 724.00,795.00 C709.00,809.50 681.17,840.83 664.00,855.00 C646.83,869.17 639.17,867.83 621.00,880.00 C602.83,892.17 573.33,919.83 555.00,928.00 C536.67,936.17 532.50,932.83 511.00,929.00 C489.50,925.17 446.33,913.33 426.00,905.00 C405.67,896.67 399.17,888.17 389.00,879.00 C378.83,869.83 370.50,862.17 365.00,850.00 C359.50,837.83 358.17,822.00 356.00,806.00 C353.83,790.00 350.50,773.33 352.00,754.00 C353.50,734.67 359.17,713.83 365.00,690.00 C370.83,666.17 378.00,628.17 387.00,611.00 C396.00,593.83 412.50,597.17 419.00,587.00 C425.50,576.83 426.33,564.67 426.00,550.00 C425.67,535.33 415.00,522.17 417.00,499.00 C419.00,475.83 429.50,430.33 438.00,411.00Z" fill="#FCF2E9"/>
<path d="M438.00,411.00 C446.50,391.67 450.17,394.67 468.00,383.00 C485.83,371.33 525.67,351.17 545.00,341.00 C564.33,330.83 563.83,330.50 584.00,322.00 C604.17,313.50 644.67,296.50 666.00,290.00 C687.33,283.50 691.17,290.00 712.00,283.00 C732.83,276.00 771.67,257.00 791.00,248.00 C810.33,239.00 807.83,230.50 828.00,229.00 C848.17,227.50 891.33,233.83 912.00,239.00 C932.67,244.17 932.00,251.00 952.00,260.00 C972.00,269.00 1013.33,283.67 1032.00,293.00 C1050.67,302.33 1056.00,304.83 1064.00,316.00 C1072.00,327.17 1077.00,345.33 1080.00,360.00 C1083.00,374.67 1086.17,390.83 1082.00,404.00 C1077.83,417.17 1070.67,423.17 1055.00,439.00 C1039.33,454.83 1002.83,482.17 988.00,499.00 C973.17,515.83 971.67,523.67 966.00,540.00 C960.33,556.33 956.67,582.00 954.00,597.00 C951.33,612.00 952.67,618.17 950.00,630.00 C947.33,641.83 945.17,656.17 938.00,668.00 C930.83,679.83 920.00,691.00 907.00,701.00 C894.00,711.00 877.33,718.83 860.00,728.00 C842.67,737.17 820.67,749.33 803.00,756.00 C785.33,762.67 767.17,761.50 754.00,768.00 C740.83,774.50 739.00,780.50 724.00,795.00 C709.00,809.50 681.17,840.83 664.00,855.00 C646.83,869.17 639.17,867.83 621.00,880.00 C602.83,892.17 573.33,919.83 555.00,928.00 C536.67,936.17 532.50,932.83 511.00,929.00 C489.50,925.17 446.33,913.33 426.00,905.00 C405.67,896.67 399.17,888.17 389.00,879.00 C378.83,869.83 370.50,862.17 365.00,850.00 C359.50,837.83 358.17,822.00 356.00,806.00 C353.83,790.00 350.50,773.33 352.00,754.00 C353.50,734.67 359.17,713.83 365.00,690.00 C370.83,666.17 378.00,628.17 387.00,611.00 C396.00,593.83 412.50,597.17 419.00,587.00 C425.50,576.83 426.33,564.67 426.00,550.00 C425.67,535.33 415.00,522.17 417.00,499.00 C419.00,475.83 429.50,430.33 438.00,411.00Z" fill="none" stroke="#E8580F" stroke-width="7" stroke-dasharray="72 32" stroke-dashoffset="10"/>
<path d="M721.50,313.00 C723.05,306.42 735.40,299.03 744.70,296.70 C754.00,294.37 765.67,294.73 777.30,299.00 C788.93,303.27 802.12,316.48 814.50,322.30 C826.88,328.12 841.53,331.58 851.60,333.90 C861.67,336.22 868.30,332.72 874.90,336.20 C881.50,339.68 888.88,347.05 891.20,354.80 C893.52,362.55 893.07,370.30 888.80,382.70 C884.53,395.10 875.67,415.25 865.60,429.20 C855.53,443.15 843.12,454.77 828.40,466.40 C813.68,478.03 797.45,485.83 777.30,499.00 C757.15,512.17 726.88,531.47 707.50,545.40 C688.12,559.33 672.62,570.20 661.00,582.60 C649.38,595.00 642.05,605.85 637.80,619.80 C633.55,633.75 633.18,651.58 635.50,666.30 C637.82,681.02 647.45,695.70 651.70,708.10 C655.95,720.50 660.22,732.17 661.00,740.70 C661.78,749.23 661.03,762.40 656.40,759.30 C651.77,756.20 640.95,730.63 633.20,722.10 C625.45,713.57 620.77,712.75 609.90,708.10 C599.03,703.45 580.40,696.52 568.00,694.20 C555.60,691.88 547.12,691.88 535.50,694.20 C523.88,696.52 510.70,703.45 498.30,708.10 C485.90,712.75 471.95,722.10 461.10,722.10 C450.25,722.10 439.78,715.85 433.20,708.10 C426.62,700.35 422.75,687.22 421.60,675.60 C420.45,663.98 421.27,648.47 426.30,638.40 C431.33,628.33 439.02,622.95 451.80,615.20 C464.58,607.45 487.50,600.43 503.00,591.90 C518.50,583.37 531.63,574.85 544.80,564.00 C557.97,553.15 571.15,536.10 582.00,526.80 C592.85,517.50 599.82,508.97 609.90,508.20 C619.98,507.43 632.43,519.10 642.50,522.20 C652.57,525.30 657.92,529.13 670.30,526.80 C682.68,524.47 702.07,516.72 716.80,508.20 C731.53,499.68 748.23,487.32 758.70,475.70 C769.17,464.08 776.12,450.90 779.60,438.50 C783.08,426.10 782.32,413.70 779.60,401.30 C776.88,388.90 770.67,374.95 763.30,364.10 C755.93,353.25 742.37,344.72 735.40,336.20 C728.43,327.68 719.95,319.58 721.50,313.00Z" fill="#EEF4F1" stroke="#A3BFC0" stroke-width="8"/>
<circle cx="555" cy="798" r="70" fill="#CDB49D" stroke="#8B7B4E" stroke-width="11"/>
<circle cx="962" cy="367" r="23" fill="#E98C76" stroke="#E8601E" stroke-width="4"/>
<circle cx="803" cy="599" r="23" fill="#E98C76" stroke="#E8601E" stroke-width="4"/>
<circle cx="411" cy="833" r="23" fill="#E98C76" stroke="#E8601E" stroke-width="4"/>
<line x1="787.7" y1="188.2" x2="734.3" y2="44" stroke="#CDB39B" stroke-width="28"/>
<line x1="1138.5" y1="306.6" x2="1310" y2="295" stroke="#CDB39B" stroke-width="28"/>
<line x1="1008" y1="766" x2="1060" y2="845" stroke="#CDB39B" stroke-width="28"/>
<line x1="569.7" y1="982.6" x2="652" y2="1100" stroke="#CDB39B" stroke-width="28"/>
<line x1="295" y1="765" x2="108" y2="765" stroke="#CDB39B" stroke-width="28"/>
<line x1="364" y1="324" x2="249" y2="270" stroke="#CDB39B" stroke-width="28"/>
<path d="M364.00,324.00 C367.50,314.33 366.00,323.50 382.00,322.00 C398.00,320.50 434.50,319.67 460.00,315.00 C485.50,310.33 515.50,300.50 535.00,294.00 C554.50,287.50 559.50,283.00 577.00,276.00 C594.50,269.00 618.33,259.83 640.00,252.00 C661.67,244.17 682.38,239.63 707.00,229.00 C731.62,218.37 763.87,193.70 787.70,188.20 C811.53,182.70 829.48,193.30 850.00,196.00 C870.52,198.70 887.47,200.07 910.80,204.40 C934.13,208.73 966.00,215.80 990.00,222.00 C1014.00,228.20 1036.47,233.60 1054.80,241.60 C1073.13,249.60 1086.05,259.17 1100.00,270.00 C1113.95,280.83 1135.18,289.65 1138.50,306.60 C1141.82,323.55 1126.10,350.02 1119.90,371.70 C1113.70,393.38 1107.12,420.32 1101.30,436.70 C1095.48,453.08 1091.97,460.70 1085.00,470.00 C1078.03,479.30 1069.95,481.72 1059.50,492.50 C1049.05,503.28 1032.22,521.45 1022.30,534.70 C1012.38,547.95 1005.38,556.95 1000.00,572.00 C994.62,587.05 992.83,605.33 990.00,625.00 C987.17,644.67 982.50,670.83 983.00,690.00 C983.50,709.17 988.83,727.33 993.00,740.00 C997.17,752.67 1009.33,762.50 1008.00,766.00 C1006.67,769.50 992.50,760.67 985.00,761.00 C977.50,761.33 969.17,764.67 963.00,768.00 C956.83,771.33 952.67,777.83 948.00,781.00 C943.33,784.17 943.83,786.67 935.00,787.00 C926.17,787.33 909.33,783.83 895.00,783.00 C880.67,782.17 864.33,780.00 849.00,782.00 C833.67,784.00 820.00,787.33 803.00,795.00 C786.00,802.67 768.67,812.17 747.00,828.00 C725.33,843.83 694.50,870.33 673.00,890.00 C651.50,909.67 635.22,930.57 618.00,946.00 C600.78,961.43 586.03,977.77 569.70,982.60 C553.37,987.43 536.28,977.43 520.00,975.00 C503.72,972.57 492.50,973.50 472.00,968.00 C451.50,962.50 417.00,950.67 397.00,942.00 C377.00,933.33 363.17,925.83 352.00,916.00 C340.83,906.17 336.67,897.67 330.00,883.00 C323.33,868.33 317.83,847.67 312.00,828.00 C306.17,808.33 299.67,783.00 295.00,765.00 C290.33,747.00 286.83,732.83 284.00,720.00 C281.17,707.17 277.00,699.67 278.00,688.00 C279.00,676.33 283.50,661.33 290.00,650.00 C296.50,638.67 307.50,632.67 317.00,620.00 C326.50,607.33 337.00,590.00 347.00,574.00 C357.00,558.00 371.50,536.33 377.00,524.00 C382.50,511.67 380.83,514.00 380.00,500.00 C379.17,486.00 375.17,460.00 372.00,440.00 C368.83,420.00 362.33,399.33 361.00,380.00 C359.67,360.67 360.50,333.67 364.00,324.00Z" fill="none" stroke="#CDB39B" stroke-width="28" stroke-linejoin="round"/>
<line x1="787.7" y1="188.2" x2="734.3" y2="44" stroke="#A9572F" stroke-width="8.5"/>
<line x1="1138.5" y1="306.6" x2="1310" y2="295" stroke="#A9572F" stroke-width="8.5"/>
<line x1="1008" y1="766" x2="1060" y2="845" stroke="#A9572F" stroke-width="8.5"/>
<line x1="569.7" y1="982.6" x2="652" y2="1100" stroke="#A9572F" stroke-width="8.5"/>
<line x1="295" y1="765" x2="108" y2="765" stroke="#A9572F" stroke-width="8.5"/>
<line x1="364" y1="324" x2="249" y2="270" stroke="#A9572F" stroke-width="8.5"/>
<path d="M364.00,324.00 C367.50,314.33 366.00,323.50 382.00,322.00 C398.00,320.50 434.50,319.67 460.00,315.00 C485.50,310.33 515.50,300.50 535.00,294.00 C554.50,287.50 559.50,283.00 577.00,276.00 C594.50,269.00 618.33,259.83 640.00,252.00 C661.67,244.17 682.38,239.63 707.00,229.00 C731.62,218.37 763.87,193.70 787.70,188.20 C811.53,182.70 829.48,193.30 850.00,196.00 C870.52,198.70 887.47,200.07 910.80,204.40 C934.13,208.73 966.00,215.80 990.00,222.00 C1014.00,228.20 1036.47,233.60 1054.80,241.60 C1073.13,249.60 1086.05,259.17 1100.00,270.00 C1113.95,280.83 1135.18,289.65 1138.50,306.60 C1141.82,323.55 1126.10,350.02 1119.90,371.70 C1113.70,393.38 1107.12,420.32 1101.30,436.70 C1095.48,453.08 1091.97,460.70 1085.00,470.00 C1078.03,479.30 1069.95,481.72 1059.50,492.50 C1049.05,503.28 1032.22,521.45 1022.30,534.70 C1012.38,547.95 1005.38,556.95 1000.00,572.00 C994.62,587.05 992.83,605.33 990.00,625.00 C987.17,644.67 982.50,670.83 983.00,690.00 C983.50,709.17 988.83,727.33 993.00,740.00 C997.17,752.67 1009.33,762.50 1008.00,766.00 C1006.67,769.50 992.50,760.67 985.00,761.00 C977.50,761.33 969.17,764.67 963.00,768.00 C956.83,771.33 952.67,777.83 948.00,781.00 C943.33,784.17 943.83,786.67 935.00,787.00 C926.17,787.33 909.33,783.83 895.00,783.00 C880.67,782.17 864.33,780.00 849.00,782.00 C833.67,784.00 820.00,787.33 803.00,795.00 C786.00,802.67 768.67,812.17 747.00,828.00 C725.33,843.83 694.50,870.33 673.00,890.00 C651.50,909.67 635.22,930.57 618.00,946.00 C600.78,961.43 586.03,977.77 569.70,982.60 C553.37,987.43 536.28,977.43 520.00,975.00 C503.72,972.57 492.50,973.50 472.00,968.00 C451.50,962.50 417.00,950.67 397.00,942.00 C377.00,933.33 363.17,925.83 352.00,916.00 C340.83,906.17 336.67,897.67 330.00,883.00 C323.33,868.33 317.83,847.67 312.00,828.00 C306.17,808.33 299.67,783.00 295.00,765.00 C290.33,747.00 286.83,732.83 284.00,720.00 C281.17,707.17 277.00,699.67 278.00,688.00 C279.00,676.33 283.50,661.33 290.00,650.00 C296.50,638.67 307.50,632.67 317.00,620.00 C326.50,607.33 337.00,590.00 347.00,574.00 C357.00,558.00 371.50,536.33 377.00,524.00 C382.50,511.67 380.83,514.00 380.00,500.00 C379.17,486.00 375.17,460.00 372.00,440.00 C368.83,420.00 362.33,399.33 361.00,380.00 C359.67,360.67 360.50,333.67 364.00,324.00Z" fill="none" stroke="#A9572F" stroke-width="8.5" stroke-linejoin="round"/>
<line x1="584.3" y1="264.4" x2="584.3" y2="296.4" stroke="#fff" stroke-width="5" transform="rotate(-25 584.3 280.4)"/>
<line x1="1059.5" y1="476.5" x2="1059.5" y2="508.5" stroke="#fff" stroke-width="5" transform="rotate(-42 1059.5 492.5)"/>
<line x1="472" y1="952" x2="472" y2="984" stroke="#fff" stroke-width="5" transform="rotate(10 472 968)"/>
<path d="M484.50,648.80 C479.58,638.17 464.17,602.45 455.00,585.00 C445.83,567.55 445.15,558.93 429.50,544.10 C413.85,529.27 389.02,509.02 361.10,496.00 C333.18,482.98 278.52,471.00 262.00,466.00" fill="none" stroke="#0C50A8" stroke-width="7.6"/>
<path d="M210.5,455.8 L277.4,433.3 L258.7,465.4 L263.6,501.3 Z" fill="#0C50A8"/>
<path d="M887.20,556.70 C905.35,552.43 963.80,531.42 996.10,531.10 C1028.40,530.78 1050.93,541.05 1081.00,554.80 C1111.07,568.55 1160.58,603.80 1176.50,613.60" fill="none" stroke="#0C50A8" stroke-width="7.6"/>
<path d="M1213.6,639.2 L1185.7,575 L1176.5,613.6 L1143.6,628.6 Z" fill="#0C50A8"/>
<line x1="381.7" y1="850" x2="290" y2="919" stroke="#A8C3C6" stroke-width="11.5"/>
<path d="M267.1,934.7 L285.4,894.1 L290,919 L312.2,930.4 Z" fill="#A8C3C6"/>
<path d="M848.3,817.7 L870.8,839.1 L870.8,860.1 L855.9,846 L855.9,939.3 L840.2,939.3 L840.2,846 L825.7,860.1 L825.7,839.1 Z" fill="#A8C3C6"/>
<text x="40" y="472.6" font-size="89.4" fill="#0C50A8">H</text><text x="104" y="500" font-size="48" fill="#0C50A8">2</text><text x="128" y="472.6" font-size="89.4" fill="#0C50A8">o</text>
<text x="1220" y="699.2" font-size="89.4" fill="#0C50A8">H</text><text x="1284" y="726.6" font-size="48" fill="#0C50A8">2</text><text x="1308" y="699.2" font-size="89.4" fill="#0C50A8">o</text>
<text x="224" y="1050.8" font-size="88">tlp</text>
<text x="800" y="1041" font-size="122">ε</text>
<text x="853" y="1060.3" font-size="86">sym</text>
</g>
<g fill="none" stroke="#000" stroke-width="1.9"><path d="M537.6,354.6 L537.6,375.6"/><path d="M528.3,356.2 C530.8,357 530.2,362 531.6,365.2 C533,368.4 535,369.3 537.6,369.3 C541.5,369.3 543.8,367.5 544.8,363.5 C545.6,360.2 545.6,357.5 546.8,355.2"/></g>
<g>
<path d="M166.6,275.3 166.6,275.6 166.7,276.4 166.7,277.9 166.9,279.8 167.0,282.3 167.2,285.3 167.4,288.7 167.7,292.5 168.0,296.7 168.3,301.2 168.7,306.0 169.1,311.0 169.6,316.2 170.0,321.5 170.5,326.9 171.1,332.4 171.7,337.9 172.3,343.4 172.9,348.9 173.6,354.3 174.3,359.6 175.1,364.9 175.9,370.0 176.7,375.0 177.6,379.9 178.5,384.7 179.4,389.3 180.3,393.8 181.3,398.1 182.4,402.3 183.5,406.4 184.6,410.3 185.7,414.1 186.9,417.7 188.1,421.2 189.3,424.6 190.6,427.8 191.9,430.9 193.3,433.9 194.7,436.8 196.1,439.5 197.6,442.2 199.0,444.8 200.6,447.2 202.1,449.6 203.7,451.8 205.4,454.0 207.0,456.1 208.7,458.1 210.5,460.0 212.2,461.9 214.1,463.7 215.9,465.4 217.8,467.1 219.7,468.6 221.6,470.2 223.6,471.7 225.6,473.1 227.7,474.5 229.8,475.8 231.9,477.1 234.1,478.3 236.3,479.5 238.5,480.6 240.7,481.7 243.0,482.8 245.4,483.8 247.8,484.8 250.2,485.8 252.6,486.8 255.1,487.7 257.6,488.5 260.1,489.4 262.7,490.2 265.3,491.0 268.0,491.8 270.7,492.5 273.4,493.3 276.1,494.0 278.9,494.6 281.8,495.3 284.6,496.0 287.5,496.6 290.4,497.2 293.4,497.8 296.4,498.4 299.4,498.9 302.5,499.5 305.6,500.0 308.8,500.5 311.9,501.0 315.2,501.5 318.4,502.0 321.7,502.5 325.0,502.9 328.4,503.4 331.7,503.8 335.2,504.2 338.6,504.7 342.1,505.1 345.6,505.5 349.2,505.8 352.8,506.2 356.4,506.6 360.1,507.0 363.8,507.3 367.5,507.7 371.3,508.0 375.1,508.3 379.0,508.7 382.9,509.0 386.8,509.3 390.7,509.6 394.7,509.9 398.7,510.2 402.8,510.5 406.9,510.8 411.0,511.1 415.2,511.3" fill="none" stroke="#009E73" stroke-opacity="0.4" stroke-width="1.45"/>
<path d="M166.0,118.1 166.1,119.0 166.2,121.6 166.4,125.9 166.7,131.7 167.0,138.9 167.5,147.3 168.0,156.9 168.6,167.3 169.3,178.3 170.1,189.9 170.9,201.9 171.9,214.0 172.9,226.1 174.0,238.2 175.2,250.1 176.4,261.8 177.8,273.2 179.2,284.2 180.7,294.8 182.3,305.0 183.9,314.7 185.7,324.1 187.5,333.0 189.4,341.4 191.4,349.5 193.5,357.1 195.6,364.3 197.9,371.2 200.2,377.7 202.6,383.9 205.1,389.7 207.6,395.2 210.3,400.4 213.0,405.4 215.8,410.0 218.7,414.5 221.6,418.7 224.7,422.7 227.8,426.4 231.0,430.0 234.3,433.4 237.7,436.7 241.1,439.7 244.7,442.7 248.3,445.4 252.0,448.1 255.8,450.6 259.6,453.0 263.5,455.3 267.6,457.5 271.7,459.6 275.9,461.5 280.1,463.4 284.5,465.3 288.9,467.0 293.4,468.7 298.0,470.3 302.7,471.8 307.4,473.3 312.2,474.7 317.2,476.0 322.2,477.3 327.2,478.6 332.4,479.8 337.6,480.9 342.9,482.0 348.4,483.1 353.8,484.1 359.4,485.1 365.0,486.1 370.8,487.0 376.6,487.9 382.5,488.8 388.4,489.6 394.5,490.4 400.6,491.2 406.8,492.0 413.1,492.7 419.5,493.4 426.0,494.1 432.5,494.8 439.1,495.5 445.8,496.1 452.6,496.7 459.5,497.3 466.4,497.9 473.4,498.4 480.5,499.0 487.7,499.5 495.0,500.1 502.4,500.6 509.8,501.1 517.3,501.5 524.9,502.0 532.6,502.5 540.3,502.9 548.2,503.4 556.1,503.8 564.1,504.2 572.2,504.6 580.3,505.0 588.6,505.4 596.9,505.8 605.3,506.2 613.8,506.6 622.4,506.9 631.0,507.3 639.8,507.6 648.6,508.0 657.5,508.3 666.4,508.7 675.5,509.0 684.6,509.3 693.9,509.6 703.2,509.9 712.5,510.2 722.0,510.5 731.5,510.8 741.2,511.1" fill="none" stroke="#009E73" stroke-opacity="0.4" stroke-width="1.45"/>
<path d="M167.9,264.7 167.9,264.8 167.9,265.2 168.0,265.7 168.0,266.5 168.1,267.5 168.2,268.6 168.3,270.0 168.5,271.6 168.6,273.3 168.8,275.3 169.0,277.4 169.2,279.6 169.4,282.1 169.6,284.6 169.9,287.3 170.1,290.1 170.4,293.0 170.7,296.0 171.0,299.1 171.4,302.3 171.7,305.5 172.1,308.8 172.5,312.2 172.9,315.6 173.3,319.0 173.8,322.4 174.2,325.9 174.7,329.3 175.2,332.8 175.7,336.3 176.3,339.7 176.8,343.1 177.4,346.5 178.0,349.9 178.6,353.3 179.2,356.6 179.8,359.8 180.5,363.1 181.1,366.3 181.8,369.4 182.5,372.5 183.2,375.5 184.0,378.5 184.7,381.5 185.5,384.4 186.3,387.2 187.1,390.0 187.9,392.7 188.8,395.4 189.6,398.0 190.5,400.5 191.4,403.0 192.3,405.5 193.3,407.9 194.2,410.2 195.2,412.5 196.1,414.8 197.1,417.0 198.2,419.1 199.2,421.2 200.3,423.2 201.3,425.2 202.4,427.2 203.5,429.1 204.6,430.9 205.8,432.7 206.9,434.5 208.1,436.2 209.3,437.9 210.5,439.6 211.7,441.2 213.0,442.8 214.2,444.3 215.5,445.8 216.8,447.2 218.1,448.7 219.5,450.1 220.8,451.4 222.2,452.7 223.5,454.0 224.9,455.3 226.4,456.5 227.8,457.7 229.3,458.9 230.7,460.1 232.2,461.2 233.7,462.3 235.2,463.4 236.8,464.4 238.3,465.4 239.9,466.4 241.5,467.4 243.1,468.4 244.7,469.3 246.4,470.2 248.0,471.1 249.7,472.0 251.4,472.9 253.1,473.7 254.9,474.5 256.6,475.3 258.4,476.1 260.1,476.9 261.9,477.6 263.8,478.4 265.6,479.1 267.5,479.8 269.3,480.5 271.2,481.1 273.1,481.8 275.0,482.5 277.0,483.1 278.9,483.7 280.9,484.3 282.9,484.9 284.9,485.5 286.9,486.1 289.0,486.6 291.0,487.2" fill="none" stroke="#E65C00" stroke-opacity="0.4" stroke-width="1.45"/>
<path d="M174.8,333.8 174.8,334.1 175.0,335.2 175.2,337.0 175.6,339.4 176.0,342.4 176.6,345.9 177.2,349.9 178.0,354.3 178.8,359.0 179.8,364.0 180.8,369.1 182.0,374.3 183.3,379.6 184.6,384.9 186.1,390.2 187.6,395.4 189.3,400.5 191.1,405.4 192.9,410.2 194.9,414.9 196.9,419.3 199.1,423.6 201.4,427.8 203.7,431.7 206.2,435.5 208.8,439.0 211.4,442.5 214.2,445.7 217.1,448.8 220.0,451.8 223.1,454.6 226.3,457.2 229.5,459.7 232.9,462.1 236.4,464.4 239.9,466.6 243.6,468.7 247.4,470.6 251.3,472.5 255.2,474.3 259.3,476.0 263.5,477.6 267.8,479.1 272.1,480.6 276.6,482.0 281.2,483.3 285.9,484.6 290.6,485.8 295.5,487.0 300.5,488.1 305.6,489.2 310.8,490.2 316.0,491.2 321.4,492.1 326.9,493.0 332.5,493.9 338.2,494.7 343.9,495.5 349.8,496.3 355.8,497.1 361.9,497.8 368.1,498.5 374.4,499.2 380.8,499.8 387.3,500.4 393.8,501.0 400.5,501.6 407.3,502.2 414.2,502.8 421.2,503.3 428.3,503.8 435.5,504.3 442.8,504.8 450.2,505.3 457.7,505.7 465.3,506.2 473.0,506.6 480.8,507.1 488.6,507.5 496.6,507.9 504.7,508.3 512.9,508.7 521.2,509.1 529.6,509.4 538.1,509.8 546.7,510.2 555.4,510.5 564.2,510.8 573.1,511.2 582.1,511.5 591.2,511.8 600.5,512.2 609.8,512.5 619.2,512.8 628.7,513.1 638.3,513.4 648.0,513.7 657.8,514.0 667.7,514.3 677.7,514.5 687.8,514.8 698.0,515.1 708.3,515.4 718.7,515.6 729.3,515.9 739.9,516.2 750.6,516.4 761.4,516.7 772.3,516.9 783.3,517.2 794.4,517.4 805.7,517.7 817.0,517.9 828.4,518.2 839.9,518.4 851.5,518.7 863.2,518.9 875.1,519.1 887.0,519.4" fill="none" stroke="#009E73" stroke-opacity="0.4" stroke-width="1.45"/>
<path d="M165.6,226.7 165.6,227.5 165.8,229.9 166.0,233.8 166.4,239.1 166.8,245.6 167.4,253.2 168.0,261.6 168.7,270.8 169.6,280.4 170.5,290.3 171.5,300.4 172.7,310.5 173.9,320.5 175.2,330.3 176.6,339.8 178.2,349.1 179.8,357.9 181.5,366.4 183.3,374.5 185.2,382.2 187.2,389.5 189.4,396.4 191.6,403.0 193.9,409.1 196.3,414.9 198.8,420.4 201.4,425.5 204.1,430.4 206.9,434.9 209.8,439.2 212.8,443.3 215.9,447.1 219.1,450.6 222.4,454.0 225.7,457.2 229.2,460.2 232.8,463.1 236.5,465.7 240.3,468.3 244.2,470.7 248.1,473.0 252.2,475.1 256.4,477.2 260.6,479.1 265.0,480.9 269.5,482.7 274.1,484.4 278.7,486.0 283.5,487.5 288.3,488.9 293.3,490.3 298.4,491.6 303.5,492.9 308.8,494.1 314.1,495.2 319.6,496.3 325.1,497.4 330.8,498.4 336.5,499.4 342.3,500.3 348.3,501.2 354.3,502.1 360.5,502.9 366.7,503.7 373.0,504.5 379.5,505.3 386.0,506.0 392.6,506.7 399.3,507.4 406.2,508.0 413.1,508.7 420.1,509.3 427.2,509.9 434.5,510.5 441.8,511.0 449.2,511.6 456.7,512.1 464.3,512.6 472.0,513.2 479.8,513.7 487.7,514.1 495.7,514.6 503.8,515.1 512.0,515.5 520.3,516.0 528.7,516.4 537.2,516.8 545.8,517.2 554.5,517.6 563.3,518.0 572.2,518.4 581.2,518.8 590.2,519.2 599.4,519.5 608.7,519.9 618.1,520.2 627.6,520.6 637.1,520.9 646.8,521.3 656.6,521.6 666.4,521.9 676.4,522.3 686.5,522.6 696.6,522.9 706.9,523.2 717.3,523.5 727.7,523.8 738.3,524.1 748.9,524.4 759.7,524.7 770.5,525.0 781.5,525.3 792.5,525.6 803.7,525.9 814.9,526.2 826.2,526.5 837.7,526.7 849.2,527.0 860.9,527.3" fill="none" stroke="#E65C00" stroke-opacity="0.4" stroke-width="1.45"/>
<path d="M168.1,101.7 168.1,102.6 168.2,105.2 168.4,109.4 168.6,115.1 168.9,122.3 169.3,130.8 169.8,140.3 170.3,150.7 170.8,161.9 171.5,173.6 172.2,185.7 173.0,198.0 173.8,210.4 174.7,222.8 175.7,235.0 176.8,247.1 177.9,258.9 179.0,270.3 180.3,281.4 181.6,292.0 183.0,302.3 184.5,312.1 186.0,321.5 187.6,330.5 189.2,339.0 190.9,347.2 192.7,354.9 194.6,362.2 196.5,369.2 198.5,375.8 200.6,382.1 202.7,388.0 204.9,393.7 207.2,399.0 209.5,404.1 211.9,408.9 214.4,413.5 216.9,417.8 219.5,421.9 222.2,425.9 224.9,429.6 227.7,433.1 230.6,436.5 233.5,439.7 236.5,442.7 239.6,445.6 242.7,448.4 246.0,451.0 249.2,453.5 252.6,455.9 256.0,458.2 259.5,460.4 263.0,462.5 266.6,464.5 270.3,466.4 274.1,468.2 277.9,470.0 281.8,471.7 285.7,473.3 289.7,474.9 293.8,476.4 298.0,477.8 302.2,479.2 306.5,480.5 310.9,481.8 315.3,483.0 319.8,484.2 324.3,485.3 329.0,486.4 333.7,487.5 338.4,488.5 343.3,489.5 348.2,490.5 353.1,491.4 358.2,492.3 363.3,493.1 368.4,494.0 373.7,494.8 379.0,495.6 384.4,496.3 389.8,497.1 395.3,497.8 400.9,498.5 406.5,499.2 412.2,499.8 418.0,500.5 423.9,501.1 429.8,501.7 435.8,502.3 441.8,502.9 447.9,503.4 454.1,504.0 460.3,504.5 466.7,505.0 473.1,505.5 479.5,506.0 486.0,506.5 492.6,507.0 499.3,507.4 506.0,507.9 512.8,508.3 519.7,508.7 526.6,509.2 533.6,509.6 540.6,510.0 547.8,510.4 555.0,510.8 562.2,511.1 569.6,511.5 577.0,511.9 584.4,512.2 592.0,512.6 599.6,512.9 607.2,513.3 615.0,513.6 622.8,513.9 630.7,514.3 638.6,514.6 646.6,514.9" fill="none" stroke="#E65C00" stroke-opacity="0.4" stroke-width="1.45"/>
<path d="M175.6,357.5 175.6,357.7 175.7,358.4 175.9,359.6 176.1,361.1 176.4,363.1 176.8,365.4 177.3,368.1 177.8,371.1 178.4,374.4 179.1,377.8 179.9,381.5 180.7,385.3 181.6,389.2 182.6,393.1 183.6,397.2 184.7,401.2 185.9,405.2 187.1,409.2 188.5,413.1 189.9,417.0 191.3,420.8 192.9,424.5 194.5,428.0 196.2,431.5 197.9,434.9 199.7,438.2 201.6,441.3 203.6,444.3 205.6,447.3 207.8,450.1 209.9,452.7 212.2,455.3 214.5,457.8 216.9,460.2 219.4,462.5 221.9,464.6 224.5,466.7 227.2,468.7 230.0,470.7 232.8,472.5 235.7,474.2 238.7,475.9 241.7,477.5 244.8,479.1 248.0,480.6 251.3,482.0 254.6,483.4 258.0,484.7 261.5,485.9 265.0,487.1 268.6,488.3 272.3,489.4 276.1,490.4 279.9,491.5 283.8,492.5 287.8,493.4 291.8,494.3 295.9,495.2 300.1,496.0 304.4,496.9 308.7,497.6 313.1,498.4 317.6,499.1 322.1,499.8 326.7,500.5 331.4,501.2 336.2,501.8 341.0,502.4 345.9,503.0 350.9,503.6 355.9,504.2 361.0,504.7 366.2,505.2 371.5,505.7 376.8,506.2 382.2,506.7 387.7,507.2 393.2,507.6 398.9,508.1 404.6,508.5 410.3,508.9 416.1,509.3 422.1,509.7 428.0,510.1 434.1,510.5 440.2,510.8 446.4,511.2 452.6,511.5 459.0,511.9 465.4,512.2 471.9,512.5 478.4,512.8 485.0,513.2 491.7,513.5 498.5,513.8 505.3,514.0 512.2,514.3 519.2,514.6 526.2,514.9 533.4,515.1 540.6,515.4 547.8,515.7 555.2,515.9 562.6,516.2 570.0,516.4 577.6,516.6 585.2,516.9 592.9,517.1 600.7,517.3 608.5,517.6 616.4,517.8 624.4,518.0 632.4,518.2 640.6,518.4 648.8,518.6 657.0,518.8 665.4,519.0 673.8,519.2 682.3,519.4" fill="none" stroke="#E65C00" stroke-opacity="0.4" stroke-width="1.45"/>
<path d="M205.6,359.8 205.6,359.8 205.6,359.9 205.7,360.1 205.7,360.3 205.8,360.6 205.9,360.9 206.1,361.4 206.2,361.9 206.4,362.4 206.6,363.0 206.8,363.7 207.0,364.4 207.3,365.2 207.6,366.0 207.9,366.9 208.2,367.8 208.5,368.8 208.9,369.8 209.2,370.9 209.6,372.0 210.0,373.2 210.5,374.4 210.9,375.6 211.4,376.9 211.9,378.2 212.4,379.5 213.0,380.9 213.5,382.3 214.1,383.7 214.7,385.1 215.3,386.6 215.9,388.0 216.6,389.5 217.3,391.0 218.0,392.5 218.7,394.0 219.4,395.5 220.2,397.1 221.0,398.6 221.8,400.1 222.6,401.7 223.4,403.2 224.3,404.8 225.2,406.3 226.1,407.8 227.0,409.4 228.0,410.9 228.9,412.4 229.9,413.9 230.9,415.4 231.9,416.9 233.0,418.4 234.0,419.9 235.1,421.3 236.2,422.8 237.3,424.2 238.5,425.6 239.7,427.0 240.8,428.4 242.0,429.8 243.3,431.2 244.5,432.5 245.8,433.9 247.1,435.2 248.4,436.5 249.7,437.8 251.1,439.0 252.4,440.3 253.8,441.5 255.2,442.8 256.6,444.0 258.1,445.2 259.6,446.3 261.1,447.5 262.6,448.6 264.1,449.8 265.6,450.9 267.2,452.0 268.8,453.0 270.4,454.1 272.0,455.2 273.7,456.2 275.4,457.2 277.1,458.2 278.8,459.2 280.5,460.2 282.3,461.1 284.0,462.1 285.8,463.0 287.6,463.9 289.5,464.8 291.3,465.7 293.2,466.5 295.1,467.4 297.0,468.2 298.9,469.1 300.9,469.9 302.9,470.7 304.9,471.5 306.9,472.3 308.9,473.0 311.0,473.8 313.1,474.5 315.2,475.2 317.3,476.0 319.4,476.7 321.6,477.4 323.7,478.1 325.9,478.7 328.2,479.4 330.4,480.0 332.7,480.7 334.9,481.3 337.2,481.9 339.6,482.6 341.9,483.2 344.3,483.8 346.6,484.3 349.0,484.9" fill="none" stroke="#E65C00" stroke-opacity="0.4" stroke-width="1.45"/>
<path d="M161.2,145.1 161.2,146.9 161.4,152.3 161.6,160.9 161.8,172.4 162.2,186.1 162.7,201.5 163.2,217.9 163.8,234.9 164.5,252.0 165.2,268.9 166.1,285.3 167.0,300.9 168.0,315.8 169.1,329.8 170.3,342.8 171.6,354.9 172.9,366.2 174.3,376.6 175.8,386.2 177.4,395.0 179.1,403.2 180.8,410.7 182.6,417.6 184.5,424.0 186.5,429.9 188.6,435.3 190.7,440.3 193.0,445.0 195.3,449.3 197.7,453.3 200.1,457.0 202.7,460.4 205.3,463.6 208.0,466.6 210.8,469.3 213.7,471.9 216.7,474.4 219.7,476.6 222.8,478.8 226.0,480.8 229.3,482.6 232.7,484.4 236.1,486.1 239.6,487.7 243.2,489.1 246.9,490.5 250.7,491.9 254.5,493.1 258.5,494.3 262.5,495.4 266.6,496.5 270.7,497.5 275.0,498.5 279.3,499.4 283.7,500.3 288.2,501.2 292.8,502.0 297.5,502.7 302.2,503.5 307.0,504.2 311.9,504.9 316.9,505.5 322.0,506.1 327.1,506.7 332.3,507.3 337.7,507.9 343.0,508.4 348.5,508.9 354.1,509.4 359.7,509.9 365.4,510.4 371.2,510.8 377.1,511.2 383.0,511.7 389.1,512.1 395.2,512.5 401.4,512.9 407.7,513.2 414.0,513.6 420.5,514.0 427.0,514.3 433.6,514.6 440.3,515.0 447.0,515.3 453.9,515.6 460.8,515.9 467.8,516.2 474.9,516.5 482.1,516.8 489.3,517.0 496.6,517.3 504.1,517.6 511.6,517.8 519.1,518.1 526.8,518.4 534.5,518.6 542.3,518.8 550.2,519.1 558.2,519.3 566.3,519.5 574.4,519.8 582.6,520.0 590.9,520.2 599.3,520.4 607.8,520.7 616.3,520.9 625.0,521.1 633.7,521.3 642.5,521.5 651.3,521.7 660.3,521.9 669.3,522.1 678.4,522.3 687.6,522.5 696.9,522.7 706.3,522.9 715.7,523.1 725.2,523.2 734.8,523.4" fill="none" stroke="#E65C00" stroke-opacity="0.4" stroke-width="1.45"/>
<path d="M189.4,329.1 189.4,329.2 189.5,329.5 189.6,330.0 189.8,330.7 189.9,331.6 190.2,332.7 190.4,334.0 190.8,335.5 191.1,337.1 191.5,338.9 191.9,340.9 192.4,343.0 192.9,345.2 193.5,347.5 194.1,350.0 194.7,352.5 195.4,355.1 196.2,357.8 196.9,360.5 197.7,363.3 198.6,366.2 199.5,369.0 200.4,371.9 201.4,374.8 202.4,377.7 203.5,380.6 204.6,383.5 205.7,386.4 206.9,389.3 208.1,392.1 209.4,394.9 210.7,397.7 212.1,400.4 213.5,403.1 214.9,405.8 216.4,408.4 217.9,410.9 219.4,413.4 221.0,415.9 222.7,418.3 224.4,420.7 226.1,423.0 227.9,425.3 229.7,427.5 231.5,429.6 233.4,431.8 235.3,433.8 237.3,435.8 239.3,437.8 241.4,439.7 243.5,441.6 245.6,443.4 247.8,445.1 250.0,446.9 252.3,448.5 254.6,450.2 257.0,451.8 259.4,453.3 261.8,454.8 264.3,456.3 266.8,457.7 269.3,459.1 271.9,460.5 274.6,461.8 277.3,463.1 280.0,464.3 282.7,465.6 285.6,466.7 288.4,467.9 291.3,469.0 294.2,470.1 297.2,471.2 300.2,472.2 303.3,473.3 306.4,474.3 309.5,475.2 312.7,476.2 315.9,477.1 319.2,478.0 322.5,478.9 325.8,479.7 329.2,480.6 332.6,481.4 336.1,482.2 339.6,482.9 343.2,483.7 346.8,484.4 350.4,485.2 354.1,485.9 357.8,486.6 361.6,487.2 365.4,487.9 369.2,488.5 373.1,489.2 377.0,489.8 381.0,490.4 385.0,491.0 389.1,491.6 393.2,492.1 397.3,492.7 401.5,493.2 405.7,493.8 410.0,494.3 414.3,494.8 418.6,495.3 423.0,495.8 427.4,496.3 431.9,496.8 436.4,497.2 441.0,497.7 445.6,498.1 450.2,498.6 454.9,499.0 459.6,499.4 464.4,499.9 469.2,500.3 474.0,500.7 478.9,501.1 483.8,501.5" fill="none" stroke="#009E73" stroke-opacity="0.4" stroke-width="1.45"/>
<path d="M174.5,363.6 174.5,363.9 174.7,364.7 174.9,366.0 175.2,367.8 175.6,370.1 176.1,372.8 176.7,375.8 177.4,379.2 178.2,382.8 179.1,386.7 180.0,390.7 181.1,394.8 182.2,399.1 183.5,403.3 184.8,407.6 186.2,411.8 187.7,416.0 189.3,420.1 191.0,424.2 192.8,428.1 194.7,431.9 196.6,435.6 198.7,439.1 200.8,442.5 203.1,445.8 205.4,449.0 207.8,452.0 210.3,454.9 212.9,457.7 215.6,460.3 218.4,462.8 221.3,465.3 224.3,467.6 227.3,469.8 230.5,471.8 233.7,473.8 237.1,475.8 240.5,477.6 244.0,479.3 247.6,481.0 251.3,482.6 255.1,484.1 259.0,485.5 263.0,486.9 267.1,488.2 271.2,489.5 275.5,490.7 279.8,491.9 284.3,493.0 288.8,494.1 293.4,495.1 298.1,496.1 302.9,497.0 307.8,497.9 312.8,498.8 317.8,499.7 323.0,500.5 328.3,501.3 333.6,502.0 339.1,502.7 344.6,503.4 350.2,504.1 355.9,504.8 361.7,505.4 367.6,506.0 373.6,506.6 379.7,507.2 385.9,507.7 392.1,508.3 398.5,508.8 404.9,509.3 411.5,509.8 418.1,510.3 424.8,510.8 431.6,511.2 438.5,511.7 445.5,512.1 452.6,512.5 459.8,512.9 467.0,513.3 474.4,513.7 481.9,514.1 489.4,514.5 497.0,514.9 504.8,515.2 512.6,515.6 520.5,515.9 528.5,516.3 536.6,516.6 544.8,516.9 553.0,517.3 561.4,517.6 569.9,517.9 578.4,518.2 587.0,518.5 595.8,518.8 604.6,519.1 613.5,519.4 622.5,519.7 631.6,519.9 640.8,520.2 650.1,520.5 659.4,520.8 668.9,521.0 678.5,521.3 688.1,521.6 697.8,521.8 707.7,522.1 717.6,522.3 727.6,522.6 737.7,522.8 747.9,523.1 758.2,523.3 768.6,523.6 779.0,523.8 789.6,524.1 800.2,524.3 811.0,524.5 821.8,524.8" fill="none" stroke="#E65C00" stroke-opacity="0.4" stroke-width="1.45"/>
<path d="M163.8,321.5 163.9,322.1 164.0,324.1 164.3,327.3 164.7,331.7 165.1,337.0 165.7,343.1 166.3,349.8 167.1,357.0 168.0,364.5 168.9,372.0 170.0,379.6 171.2,387.2 172.5,394.5 173.9,401.6 175.3,408.4 176.9,414.9 178.6,421.1 180.4,427.0 182.3,432.5 184.3,437.7 186.4,442.6 188.6,447.2 190.9,451.4 193.3,455.4 195.8,459.2 198.4,462.7 201.1,466.0 203.9,469.0 206.9,471.9 209.9,474.6 213.0,477.1 216.2,479.5 219.5,481.7 223.0,483.8 226.5,485.7 230.1,487.6 233.9,489.3 237.7,490.9 241.7,492.5 245.7,493.9 249.8,495.3 254.1,496.6 258.4,497.8 262.9,499.0 267.4,500.1 272.1,501.1 276.9,502.1 281.7,503.0 286.7,503.9 291.7,504.8 296.9,505.6 302.2,506.4 307.5,507.1 313.0,507.9 318.6,508.5 324.3,509.2 330.1,509.8 335.9,510.4 341.9,511.0 348.0,511.5 354.2,512.1 360.5,512.6 366.9,513.1 373.4,513.6 380.0,514.0 386.7,514.5 393.5,514.9 400.4,515.3 407.4,515.7 414.5,516.1 421.7,516.5 429.1,516.9 436.5,517.2 444.0,517.6 451.6,517.9 459.3,518.2 467.2,518.5 475.1,518.9 483.1,519.2 491.3,519.5 499.5,519.8 507.8,520.0 516.3,520.3 524.8,520.6 533.5,520.8 542.2,521.1 551.1,521.4 560.0,521.6 569.1,521.9 578.2,522.1 587.5,522.3 596.9,522.6 606.3,522.8 615.9,523.0 625.6,523.3 635.3,523.5 645.2,523.7 655.2,523.9 665.3,524.1 675.5,524.3 685.7,524.5 696.1,524.7 706.6,524.9 717.2,525.1 727.9,525.3 738.7,525.5 749.6,525.7 760.6,525.9 771.7,526.1 782.9,526.3 794.2,526.5 805.6,526.7 817.1,526.8 828.7,527.0 840.5,527.2 852.3,527.4 864.2,527.6 876.2,527.8 888.3,527.9" fill="none" stroke="#009E73" stroke-opacity="0.4" stroke-width="1.45"/>
<path d="M168.7,117.7 168.7,118.5 168.8,120.8 169.0,124.5 169.3,129.5 169.6,135.9 170.0,143.3 170.5,151.8 171.1,161.1 171.7,171.0 172.5,181.5 173.3,192.4 174.1,203.6 175.1,214.8 176.1,226.1 177.2,237.4 178.4,248.5 179.6,259.4 181.0,270.0 182.4,280.3 183.8,290.3 185.4,299.9 187.0,309.2 188.7,318.1 190.5,326.6 192.4,334.7 194.3,342.4 196.3,349.8 198.4,356.9 200.5,363.6 202.8,370.0 205.1,376.0 207.5,381.8 209.9,387.3 212.5,392.5 215.1,397.4 217.8,402.1 220.5,406.6 223.4,410.8 226.3,414.9 229.3,418.7 232.4,422.4 235.5,425.9 238.7,429.2 242.0,432.3 245.4,435.3 248.8,438.2 252.4,440.9 256.0,443.6 259.6,446.0 263.4,448.4 267.2,450.7 271.1,452.9 275.1,455.0 279.2,457.0 283.3,458.9 287.5,460.7 291.8,462.5 296.1,464.2 300.6,465.8 305.1,467.3 309.7,468.8 314.3,470.3 319.0,471.6 323.9,473.0 328.7,474.3 333.7,475.5 338.7,476.7 343.9,477.8 349.1,478.9 354.3,480.0 359.7,481.0 365.1,482.0 370.6,483.0 376.1,483.9 381.8,484.8 387.5,485.7 393.3,486.5 399.2,487.3 405.1,488.1 411.1,488.9 417.2,489.7 423.4,490.4 429.7,491.1 436.0,491.8 442.4,492.4 448.9,493.1 455.4,493.7 462.1,494.3 468.8,494.9 475.6,495.5 482.4,496.1 489.3,496.6 496.4,497.1 503.4,497.7 510.6,498.2 517.8,498.7 525.1,499.2 532.5,499.6 540.0,500.1 547.5,500.6 555.2,501.0 562.8,501.4 570.6,501.9 578.5,502.3 586.4,502.7 594.4,503.1 602.4,503.5 610.6,503.9 618.8,504.3 627.1,504.6 635.5,505.0 643.9,505.4 652.4,505.7 661.0,506.0 669.7,506.4 678.5,506.7 687.3,507.1 696.2,507.4 705.2,507.7" fill="none" stroke="#009E73" stroke-opacity="0.4" stroke-width="1.45"/>
<path d="M169.2,262.5 169.2,262.8 169.3,263.9 169.4,265.6 169.5,268.0 169.7,271.0 170.0,274.6 170.3,278.7 170.6,283.2 171.0,288.2 171.5,293.5 172.0,299.1 172.5,304.9 173.1,310.9 173.7,317.0 174.3,323.2 175.1,329.4 175.8,335.6 176.6,341.8 177.5,347.9 178.4,353.9 179.3,359.8 180.3,365.5 181.4,371.1 182.4,376.6 183.6,381.9 184.7,387.0 186.0,391.9 187.2,396.6 188.5,401.2 189.9,405.6 191.3,409.9 192.8,413.9 194.3,417.9 195.8,421.6 197.4,425.2 199.0,428.7 200.7,432.0 202.4,435.1 204.2,438.2 206.0,441.1 207.9,443.9 209.8,446.5 211.8,449.1 213.8,451.5 215.8,453.9 217.9,456.1 220.1,458.3 222.3,460.4 224.5,462.4 226.8,464.3 229.1,466.1 231.5,467.9 233.9,469.6 236.4,471.2 238.9,472.7 241.4,474.2 244.0,475.7 246.7,477.1 249.4,478.4 252.1,479.7 254.9,481.0 257.7,482.2 260.6,483.3 263.6,484.4 266.5,485.5 269.5,486.5 272.6,487.5 275.7,488.5 278.9,489.5 282.1,490.4 285.3,491.2 288.6,492.1 292.0,492.9 295.4,493.7 298.8,494.5 302.3,495.2 305.8,496.0 309.4,496.7 313.0,497.3 316.6,498.0 320.4,498.6 324.1,499.3 327.9,499.9 331.8,500.5 335.7,501.0 339.6,501.6 343.6,502.2 347.6,502.7 351.7,503.2 355.8,503.7 360.0,504.2 364.2,504.7 368.5,505.1 372.8,505.6 377.1,506.0 381.5,506.5 386.0,506.9 390.5,507.3 395.0,507.7 399.6,508.1 404.2,508.5 408.9,508.9 413.6,509.3 418.4,509.6 423.2,510.0 428.1,510.3 433.0,510.7 437.9,511.0 442.9,511.4 448.0,511.7 453.1,512.0 458.2,512.3 463.4,512.6 468.6,512.9 473.9,513.2 479.2,513.5 484.6,513.8 490.0,514.1 495.5,514.4" fill="none" stroke="#009E73" stroke-opacity="0.4" stroke-width="1.45"/>
<path d="M173.7,195.2 173.8,195.9 173.9,198.2 174.1,201.9 174.4,206.9 174.8,213.2 175.2,220.5 175.7,228.7 176.4,237.6 177.0,247.1 177.8,257.0 178.7,267.2 179.6,277.5 180.6,287.8 181.7,298.0 182.9,308.0 184.2,317.8 185.5,327.3 187.0,336.5 188.5,345.3 190.1,353.7 191.7,361.8 193.5,369.5 195.3,376.8 197.3,383.8 199.3,390.3 201.3,396.6 203.5,402.5 205.7,408.1 208.1,413.4 210.5,418.4 213.0,423.1 215.5,427.6 218.2,431.8 220.9,435.8 223.7,439.6 226.6,443.2 229.6,446.6 232.7,449.8 235.8,452.8 239.0,455.7 242.4,458.4 245.7,461.0 249.2,463.5 252.8,465.9 256.4,468.1 260.1,470.2 263.9,472.2 267.8,474.2 271.7,476.0 275.8,477.8 279.9,479.4 284.1,481.0 288.4,482.6 292.8,484.0 297.2,485.4 301.7,486.8 306.3,488.1 311.0,489.3 315.8,490.5 320.7,491.6 325.6,492.7 330.6,493.8 335.7,494.8 340.9,495.8 346.2,496.7 351.5,497.6 357.0,498.5 362.5,499.3 368.1,500.1 373.7,500.9 379.5,501.7 385.3,502.4 391.2,503.1 397.2,503.8 403.3,504.5 409.5,505.1 415.7,505.8 422.1,506.4 428.5,507.0 435.0,507.6 441.5,508.1 448.2,508.7 454.9,509.2 461.7,509.7 468.6,510.2 475.6,510.7 482.7,511.2 489.8,511.7 497.0,512.1 504.3,512.6 511.7,513.0 519.2,513.4 526.7,513.8 534.4,514.3 542.1,514.7 549.9,515.1 557.8,515.4 565.7,515.8 573.8,516.2 581.9,516.5 590.1,516.9 598.4,517.3 606.7,517.6 615.2,517.9 623.7,518.3 632.3,518.6 641.0,518.9 649.8,519.3 658.7,519.6 667.6,519.9 676.6,520.2 685.7,520.5 694.9,520.8 704.2,521.1 713.5,521.4 722.9,521.7 732.4,521.9 742.0,522.2 751.7,522.5" fill="none" stroke="#009E73" stroke-opacity="0.4" stroke-width="1.45"/>
<path d="M175.6,313.0 175.7,313.2 175.7,313.7 175.9,314.7 176.0,315.9 176.2,317.6 176.5,319.5 176.7,321.8 177.1,324.3 177.5,327.2 177.9,330.2 178.4,333.5 178.9,336.9 179.4,340.5 180.1,344.3 180.7,348.2 181.4,352.1 182.1,356.2 182.9,360.2 183.8,364.3 184.6,368.4 185.6,372.5 186.5,376.6 187.5,380.6 188.6,384.6 189.7,388.6 190.8,392.4 192.0,396.2 193.3,400.0 194.5,403.6 195.9,407.1 197.2,410.6 198.6,414.0 200.1,417.3 201.6,420.4 203.2,423.5 204.8,426.5 206.4,429.4 208.1,432.3 209.8,435.0 211.6,437.6 213.4,440.2 215.3,442.7 217.2,445.0 219.1,447.4 221.1,449.6 223.2,451.7 225.3,453.8 227.4,455.8 229.6,457.8 231.8,459.7 234.1,461.5 236.4,463.2 238.7,464.9 241.1,466.5 243.6,468.1 246.1,469.7 248.6,471.1 251.2,472.6 253.8,473.9 256.5,475.3 259.2,476.6 262.0,477.8 264.8,479.0 267.6,480.2 270.5,481.3 273.5,482.4 276.5,483.5 279.5,484.5 282.6,485.5 285.7,486.5 288.9,487.4 292.1,488.3 295.3,489.2 298.6,490.1 302.0,490.9 305.4,491.7 308.8,492.5 312.3,493.2 315.8,494.0 319.4,494.7 323.0,495.4 326.7,496.0 330.4,496.7 334.1,497.3 337.9,498.0 341.7,498.6 345.6,499.2 349.6,499.7 353.5,500.3 357.6,500.8 361.6,501.4 365.7,501.9 369.9,502.4 374.1,502.9 378.3,503.4 382.6,503.8 387.0,504.3 391.3,504.7 395.8,505.2 400.2,505.6 404.7,506.0 409.3,506.4 413.9,506.8 418.6,507.2 423.2,507.6 428.0,507.9 432.8,508.3 437.6,508.7 442.5,509.0 447.4,509.3 452.4,509.7 457.4,510.0 462.4,510.3 467.5,510.6 472.7,510.9 477.8,511.2 483.1,511.5 488.4,511.8 493.7,512.1" fill="none" stroke="#009E73" stroke-opacity="0.4" stroke-width="1.45"/>
<path d="M171.6,289.2 171.6,289.6 171.7,290.8 171.9,292.8 172.2,295.5 172.5,298.9 172.9,302.9 173.4,307.5 173.9,312.6 174.5,318.0 175.2,323.7 175.9,329.7 176.8,335.9 177.7,342.1 178.6,348.4 179.7,354.7 180.8,361.0 182.0,367.1 183.3,373.2 184.6,379.1 186.0,384.8 187.5,390.3 189.0,395.7 190.6,400.8 192.3,405.8 194.1,410.5 195.9,415.1 197.8,419.4 199.8,423.6 201.9,427.6 204.0,431.4 206.2,435.0 208.5,438.4 210.8,441.7 213.2,444.8 215.7,447.8 218.2,450.7 220.9,453.4 223.6,455.9 226.4,458.4 229.2,460.7 232.1,463.0 235.1,465.1 238.2,467.1 241.3,469.1 244.5,470.9 247.8,472.7 251.1,474.4 254.5,476.0 258.0,477.5 261.6,479.0 265.2,480.4 268.9,481.8 272.7,483.1 276.6,484.3 280.5,485.5 284.5,486.7 288.6,487.8 292.7,488.8 296.9,489.9 301.2,490.8 305.6,491.8 310.0,492.7 314.5,493.6 319.1,494.4 323.7,495.2 328.4,496.0 333.2,496.8 338.1,497.5 343.0,498.2 348.0,498.9 353.1,499.6 358.2,500.2 363.5,500.8 368.7,501.5 374.1,502.0 379.5,502.6 385.1,503.2 390.6,503.7 396.3,504.2 402.0,504.7 407.8,505.2 413.7,505.7 419.6,506.2 425.6,506.6 431.7,507.1 437.9,507.5 444.1,507.9 450.4,508.3 456.8,508.7 463.2,509.1 469.7,509.5 476.3,509.9 483.0,510.3 489.7,510.6 496.5,511.0 503.4,511.3 510.4,511.7 517.4,512.0 524.5,512.3 531.6,512.6 538.9,512.9 546.2,513.3 553.6,513.6 561.0,513.9 568.5,514.1 576.1,514.4 583.8,514.7 591.5,515.0 599.4,515.3 607.2,515.5 615.2,515.8 623.2,516.1 631.3,516.3 639.5,516.6 647.7,516.8 656.1,517.1 664.5,517.3 672.9,517.6 681.4,517.8" fill="none" stroke="#009E73" stroke-opacity="0.4" stroke-width="1.45"/>
<path d="M165.6,172.8 165.6,173.2 165.7,174.5 165.8,176.6 165.9,179.5 166.1,183.1 166.3,187.5 166.6,192.6 166.9,198.2 167.3,204.3 167.7,210.9 168.2,217.9 168.6,225.3 169.2,232.8 169.8,240.6 170.4,248.5 171.0,256.5 171.8,264.5 172.5,272.5 173.3,280.4 174.1,288.2 175.0,296.0 175.9,303.6 176.9,311.0 177.9,318.2 179.0,325.3 180.0,332.2 181.2,338.8 182.4,345.3 183.6,351.5 184.8,357.5 186.1,363.3 187.5,368.9 188.9,374.3 190.3,379.5 191.8,384.5 193.3,389.3 194.9,393.9 196.5,398.4 198.1,402.6 199.8,406.7 201.6,410.6 203.3,414.4 205.2,418.0 207.0,421.5 208.9,424.8 210.9,428.0 212.9,431.1 214.9,434.0 217.0,436.9 219.1,439.6 221.3,442.2 223.5,444.8 225.7,447.2 228.0,449.5 230.4,451.8 232.7,453.9 235.2,456.0 237.6,458.0 240.1,459.9 242.7,461.8 245.3,463.6 247.9,465.3 250.6,467.0 253.3,468.6 256.1,470.1 258.9,471.6 261.7,473.1 264.6,474.5 267.5,475.8 270.5,477.1 273.5,478.4 276.6,479.6 279.7,480.8 282.9,481.9 286.0,483.0 289.3,484.1 292.6,485.1 295.9,486.1 299.2,487.1 302.6,488.1 306.1,489.0 309.6,489.9 313.1,490.7 316.7,491.6 320.3,492.4 324.0,493.2 327.7,494.0 331.4,494.7 335.2,495.4 339.1,496.1 342.9,496.8 346.8,497.5 350.8,498.2 354.8,498.8 358.9,499.4 363.0,500.0 367.1,500.6 371.3,501.2 375.5,501.7 379.7,502.3 384.1,502.8 388.4,503.3 392.8,503.9 397.2,504.4 401.7,504.8 406.2,505.3 410.8,505.8 415.4,506.2 420.0,506.7 424.7,507.1 429.5,507.5 434.2,508.0 439.1,508.4 443.9,508.8 448.8,509.2 453.8,509.5 458.8,509.9 463.8,510.3 468.9,510.6" fill="none" stroke="#E65C00" stroke-opacity="0.4" stroke-width="1.45"/>
<path d="M168.0,134.2 168.0,134.4 168.0,135.1 168.1,136.2 168.1,137.7 168.2,139.7 168.3,142.0 168.4,144.8 168.5,147.9 168.6,151.3 168.8,155.1 168.9,159.2 169.1,163.6 169.3,168.2 169.5,173.1 169.8,178.2 170.0,183.5 170.3,189.0 170.5,194.5 170.8,200.3 171.1,206.1 171.4,211.9 171.8,217.9 172.1,223.8 172.5,229.8 172.9,235.8 173.3,241.7 173.7,247.7 174.1,253.6 174.6,259.4 175.0,265.2 175.5,270.9 176.0,276.6 176.5,282.1 177.0,287.6 177.6,293.0 178.1,298.2 178.7,303.4 179.3,308.5 179.9,313.4 180.5,318.3 181.1,323.0 181.8,327.6 182.4,332.2 183.1,336.6 183.8,340.9 184.5,345.1 185.3,349.1 186.0,353.1 186.8,357.0 187.5,360.8 188.3,364.4 189.1,368.0 189.9,371.5 190.8,374.9 191.6,378.1 192.5,381.3 193.4,384.4 194.3,387.5 195.2,390.4 196.1,393.3 197.1,396.0 198.0,398.7 199.0,401.4 200.0,403.9 201.0,406.4 202.0,408.8 203.1,411.2 204.1,413.4 205.2,415.7 206.3,417.8 207.4,419.9 208.5,422.0 209.6,424.0 210.8,425.9 212.0,427.8 213.1,429.6 214.3,431.4 215.5,433.1 216.8,434.8 218.0,436.5 219.3,438.1 220.5,439.6 221.8,441.1 223.1,442.6 224.5,444.1 225.8,445.5 227.1,446.8 228.5,448.2 229.9,449.5 231.3,450.7 232.7,452.0 234.1,453.2 235.6,454.4 237.0,455.5 238.5,456.6 240.0,457.7 241.5,458.8 243.0,459.8 244.6,460.9 246.1,461.9 247.7,462.8 249.3,463.8 250.9,464.7 252.5,465.6 254.1,466.5 255.8,467.4 257.5,468.2 259.1,469.0 260.8,469.8 262.5,470.6 264.3,471.4 266.0,472.2 267.8,472.9 269.5,473.6 271.3,474.3 273.1,475.0 275.0,475.7 276.8,476.4 278.6,477.0" fill="none" stroke="#009E73" stroke-opacity="0.4" stroke-width="1.45"/>
<path d="M185.2,357.4 185.3,357.5 185.3,357.9 185.5,358.5 185.6,359.3 185.9,360.4 186.2,361.6 186.5,363.1 186.9,364.7 187.3,366.6 187.8,368.6 188.4,370.8 189.0,373.1 189.6,375.5 190.3,378.0 191.1,380.6 191.9,383.4 192.7,386.1 193.6,389.0 194.6,391.8 195.6,394.7 196.7,397.6 197.8,400.6 199.0,403.5 200.2,406.4 201.5,409.3 202.8,412.2 204.2,415.0 205.6,417.8 207.1,420.6 208.6,423.3 210.2,426.0 211.8,428.6 213.5,431.1 215.2,433.6 217.0,436.1 218.9,438.5 220.8,440.8 222.7,443.1 224.7,445.3 226.8,447.4 228.9,449.5 231.0,451.6 233.2,453.5 235.5,455.5 237.8,457.3 240.2,459.1 242.6,460.9 245.0,462.6 247.6,464.3 250.1,465.9 252.7,467.4 255.4,469.0 258.1,470.4 260.9,471.9 263.8,473.2 266.6,474.6 269.6,475.9 272.6,477.1 275.6,478.4 278.7,479.6 281.8,480.7 285.0,481.8 288.3,482.9 291.6,484.0 294.9,485.0 298.3,486.0 301.8,487.0 305.3,487.9 308.8,488.8 312.4,489.7 316.1,490.6 319.8,491.4 323.6,492.2 327.4,493.0 331.2,493.8 335.2,494.6 339.1,495.3 343.2,496.0 347.2,496.7 351.4,497.4 355.5,498.0 359.8,498.7 364.1,499.3 368.4,499.9 372.8,500.5 377.2,501.1 381.7,501.7 386.2,502.2 390.8,502.8 395.5,503.3 400.2,503.8 404.9,504.3 409.7,504.8 414.6,505.3 419.5,505.8 424.5,506.2 429.5,506.7 434.5,507.1 439.6,507.5 444.8,508.0 450.0,508.4 455.3,508.8 460.6,509.2 466.0,509.6 471.4,510.0 476.9,510.3 482.4,510.7 488.0,511.1 493.6,511.4 499.3,511.8 505.1,512.1 510.8,512.5 516.7,512.8 522.6,513.1 528.5,513.4 534.5,513.8 540.6,514.1 546.7,514.4 552.8,514.7" fill="none" stroke="#E65C00" stroke-opacity="0.4" stroke-width="1.45"/>
<path d="M176.8,122.1 176.9,122.5 176.9,123.6 177.1,125.5 177.2,128.1 177.4,131.4 177.7,135.4 178.0,140.0 178.4,145.2 178.8,150.9 179.2,157.0 179.7,163.6 180.3,170.6 180.9,177.8 181.5,185.3 182.2,193.1 183.0,200.9 183.7,208.9 184.6,217.0 185.5,225.1 186.4,233.1 187.4,241.2 188.4,249.2 189.5,257.0 190.6,264.8 191.8,272.4 193.0,279.9 194.2,287.3 195.5,294.4 196.9,301.4 198.3,308.2 199.8,314.9 201.3,321.3 202.8,327.5 204.4,333.6 206.1,339.4 207.8,345.1 209.5,350.6 211.3,355.9 213.1,361.0 215.0,366.0 216.9,370.8 218.9,375.4 220.9,379.8 223.0,384.1 225.1,388.3 227.3,392.3 229.5,396.2 231.8,399.9 234.1,403.5 236.5,406.9 238.9,410.3 241.3,413.5 243.8,416.6 246.4,419.6 249.0,422.6 251.6,425.4 254.3,428.1 257.1,430.7 259.9,433.2 262.7,435.6 265.6,438.0 268.5,440.3 271.5,442.5 274.5,444.6 277.6,446.7 280.7,448.7 283.9,450.6 287.1,452.5 290.4,454.3 293.7,456.0 297.1,457.7 300.5,459.4 303.9,460.9 307.5,462.5 311.0,464.0 314.6,465.4 318.3,466.8 322.0,468.2 325.7,469.5 329.5,470.8 333.3,472.1 337.2,473.3 341.2,474.5 345.1,475.6 349.2,476.8 353.2,477.8 357.4,478.9 361.5,479.9 365.8,480.9 370.0,481.9 374.4,482.9 378.7,483.8 383.1,484.7 387.6,485.6 392.1,486.4 396.7,487.3 401.3,488.1 405.9,488.9 410.6,489.7 415.4,490.4 420.1,491.1 425.0,491.9 429.9,492.6 434.8,493.3 439.8,493.9 444.8,494.6 449.9,495.3 455.0,495.9 460.2,496.5 465.4,497.1 470.7,497.7 476.0,498.3 481.4,498.8 486.8,499.4 492.3,499.9 497.8,500.5 503.3,501.0 508.9,501.5 514.6,502.0" fill="none" stroke="#E65C00" stroke-opacity="0.4" stroke-width="1.45"/>
<path d="M165.6,160.7 165.7,161.1 165.7,162.3 165.8,164.3 165.9,167.0 166.1,170.5 166.3,174.6 166.6,179.4 166.8,184.8 167.2,190.6 167.5,196.9 167.9,203.6 168.3,210.7 168.8,217.9 169.3,225.4 169.8,233.1 170.4,240.8 171.0,248.6 171.7,256.4 172.4,264.1 173.1,271.8 173.9,279.4 174.7,286.9 175.5,294.3 176.4,301.5 177.3,308.5 178.3,315.3 179.3,322.0 180.3,328.4 181.3,334.7 182.4,340.7 183.6,346.6 184.8,352.2 186.0,357.7 187.2,362.9 188.5,368.0 189.8,372.9 191.2,377.6 192.6,382.1 194.0,386.4 195.5,390.6 197.0,394.6 198.6,398.5 200.2,402.2 201.8,405.8 203.4,409.2 205.1,412.5 206.9,415.7 208.6,418.8 210.5,421.7 212.3,424.5 214.2,427.2 216.1,429.9 218.1,432.4 220.1,434.8 222.1,437.1 224.2,439.4 226.3,441.5 228.4,443.6 230.6,445.6 232.8,447.6 235.1,449.4 237.4,451.2 239.7,453.0 242.1,454.7 244.5,456.3 246.9,457.8 249.4,459.4 252.0,460.8 254.5,462.2 257.1,463.6 259.7,464.9 262.4,466.2 265.1,467.4 267.9,468.6 270.6,469.8 273.5,470.9 276.3,472.0 279.2,473.1 282.1,474.1 285.1,475.1 288.1,476.1 291.1,477.0 294.2,477.9 297.3,478.8 300.5,479.6 303.7,480.5 306.9,481.3 310.2,482.1 313.5,482.8 316.8,483.6 320.2,484.3 323.6,485.0 327.1,485.7 330.6,486.4 334.1,487.0 337.7,487.7 341.3,488.3 344.9,488.9 348.6,489.5 352.3,490.1 356.0,490.6 359.8,491.2 363.7,491.7 367.5,492.2 371.4,492.7 375.4,493.2 379.3,493.7 383.4,494.2 387.4,494.7 391.5,495.1 395.6,495.6 399.8,496.0 404.0,496.5 408.2,496.9 412.5,497.3 416.8,497.7 421.2,498.1 425.5,498.5 430.0,498.8" fill="none" stroke="#E65C00" stroke-opacity="0.4" stroke-width="1.45"/>
<path d="M168.4,150.0 168.4,150.1 168.5,150.5 168.5,151.1 168.6,152.0 168.6,153.2 168.7,154.6 168.8,156.3 168.9,158.1 169.1,160.3 169.2,162.6 169.4,165.1 169.6,167.9 169.8,170.8 170.0,173.9 170.2,177.2 170.4,180.6 170.7,184.2 171.0,188.0 171.3,191.8 171.6,195.8 171.9,199.8 172.2,204.0 172.6,208.2 173.0,212.5 173.3,216.9 173.7,221.3 174.2,225.7 174.6,230.2 175.0,234.7 175.5,239.2 176.0,243.7 176.5,248.2 177.0,252.7 177.5,257.2 178.1,261.7 178.6,266.1 179.2,270.5 179.8,274.9 180.4,279.2 181.0,283.5 181.6,287.8 182.3,292.0 183.0,296.1 183.6,300.2 184.3,304.2 185.0,308.2 185.8,312.1 186.5,315.9 187.3,319.7 188.1,323.4 188.9,327.1 189.7,330.7 190.5,334.2 191.3,337.6 192.2,341.0 193.1,344.4 193.9,347.6 194.9,350.8 195.8,354.0 196.7,357.0 197.7,360.0 198.6,363.0 199.6,365.9 200.6,368.7 201.6,371.5 202.6,374.2 203.7,376.8 204.7,379.4 205.8,382.0 206.9,384.5 208.0,386.9 209.1,389.3 210.3,391.6 211.4,393.9 212.6,396.1 213.8,398.3 215.0,400.4 216.2,402.5 217.4,404.5 218.7,406.5 220.0,408.5 221.2,410.4 222.5,412.3 223.8,414.1 225.2,415.9 226.5,417.7 227.9,419.4 229.3,421.0 230.6,422.7 232.0,424.3 233.5,425.9 234.9,427.4 236.4,428.9 237.8,430.4 239.3,431.8 240.8,433.2 242.3,434.6 243.9,436.0 245.4,437.3 247.0,438.6 248.5,439.9 250.1,441.1 251.8,442.4 253.4,443.6 255.0,444.7 256.7,445.9 258.4,447.0 260.0,448.1 261.7,449.2 263.5,450.3 265.2,451.3 267.0,452.3 268.7,453.3 270.5,454.3 272.3,455.3 274.1,456.2 275.9,457.1 277.8,458.1 279.7,458.9" fill="none" stroke="#E65C00" stroke-opacity="0.4" stroke-width="1.45"/>
<path d="M164.4,147.6 164.4,148.4 164.5,150.9 164.6,154.9 164.8,160.3 165.1,167.1 165.4,175.1 165.7,184.0 166.1,193.7 166.5,204.1 167.0,215.0 167.6,226.1 168.2,237.5 168.9,248.8 169.6,260.1 170.3,271.2 171.1,282.1 172.0,292.6 172.9,302.8 173.9,312.7 174.9,322.2 176.0,331.2 177.1,339.8 178.3,348.1 179.6,355.9 180.9,363.3 182.2,370.4 183.6,377.1 185.0,383.4 186.5,389.4 188.1,395.1 189.7,400.4 191.4,405.5 193.1,410.3 194.8,414.9 196.6,419.2 198.5,423.2 200.4,427.1 202.4,430.7 204.4,434.2 206.5,437.5 208.6,440.6 210.8,443.6 213.1,446.4 215.3,449.1 217.7,451.6 220.1,454.0 222.5,456.3 225.0,458.5 227.6,460.6 230.2,462.6 232.8,464.5 235.6,466.3 238.3,468.0 241.1,469.7 244.0,471.3 246.9,472.8 249.9,474.2 252.9,475.6 256.0,477.0 259.1,478.2 262.3,479.5 265.6,480.6 268.8,481.8 272.2,482.9 275.6,483.9 279.0,484.9 282.5,485.9 286.1,486.8 289.7,487.7 293.3,488.6 297.0,489.4 300.8,490.2 304.6,491.0 308.5,491.7 312.4,492.5 316.4,493.2 320.4,493.8 324.5,494.5 328.6,495.1 332.8,495.7 337.0,496.3 341.3,496.9 345.7,497.5 350.1,498.0 354.5,498.6 359.0,499.1 363.6,499.6 368.2,500.1 372.8,500.5 377.5,501.0 382.3,501.4 387.1,501.9 392.0,502.3 396.9,502.7 401.9,503.1 406.9,503.5 412.0,503.9 417.1,504.2 422.3,504.6 427.5,505.0 432.8,505.3 438.2,505.6 443.5,506.0 449.0,506.3 454.5,506.6 460.0,506.9 465.6,507.2 471.3,507.5 477.0,507.8 482.8,508.1 488.6,508.4 494.5,508.7 500.4,508.9 506.3,509.2 512.4,509.5 518.5,509.7 524.6,510.0 530.8,510.2 537.0,510.4" fill="none" stroke="#009E73" stroke-opacity="0.4" stroke-width="1.45"/>
<path d="M168.1,212.2 168.1,212.8 168.3,214.7 168.5,217.9 168.8,222.2 169.2,227.5 169.6,233.8 170.2,240.9 170.8,248.7 171.5,257.0 172.3,265.7 173.2,274.7 174.2,283.8 175.2,293.0 176.4,302.2 177.6,311.3 178.9,320.2 180.3,328.8 181.8,337.3 183.3,345.4 185.0,353.3 186.7,360.8 188.5,368.0 190.4,374.9 192.4,381.5 194.5,387.7 196.6,393.7 198.8,399.3 201.2,404.7 203.6,409.8 206.1,414.6 208.6,419.2 211.3,423.5 214.0,427.6 216.8,431.5 219.8,435.2 222.7,438.7 225.8,442.1 229.0,445.2 232.2,448.2 235.6,451.1 239.0,453.8 242.5,456.3 246.1,458.8 249.7,461.1 253.5,463.3 257.3,465.4 261.2,467.5 265.3,469.4 269.3,471.2 273.5,473.0 277.8,474.6 282.1,476.2 286.6,477.8 291.1,479.2 295.7,480.6 300.3,482.0 305.1,483.3 310.0,484.5 314.9,485.7 319.9,486.9 325.0,488.0 330.2,489.0 335.5,490.0 340.8,491.0 346.3,492.0 351.8,492.9 357.4,493.8 363.1,494.6 368.9,495.4 374.7,496.2 380.7,497.0 386.7,497.7 392.8,498.4 399.0,499.1 405.3,499.8 411.7,500.5 418.1,501.1 424.7,501.7 431.3,502.3 438.0,502.9 444.8,503.5 451.6,504.0 458.6,504.5 465.6,505.1 472.8,505.6 480.0,506.1 487.3,506.5 494.7,507.0 502.1,507.5 509.7,507.9 517.3,508.4 525.0,508.8 532.8,509.2 540.7,509.6 548.7,510.0 556.7,510.4 564.9,510.8 573.1,511.2 581.4,511.6 589.8,511.9 598.3,512.3 606.8,512.6 615.5,513.0 624.2,513.3 633.0,513.6 641.9,514.0 650.9,514.3 660.0,514.6 669.1,514.9 678.3,515.2 687.7,515.5 697.1,515.8 706.6,516.1 716.1,516.4 725.8,516.7 735.5,517.0 745.3,517.3 755.3,517.5 765.3,517.8" fill="none" stroke="#009E73" stroke-opacity="0.4" stroke-width="1.45"/>
<path d="M173.1,146.6 173.1,147.1 173.2,148.4 173.3,150.6 173.4,153.7 173.6,157.6 173.9,162.2 174.2,167.5 174.5,173.5 174.9,180.0 175.3,186.9 175.8,194.3 176.3,202.1 176.8,210.1 177.4,218.3 178.1,226.7 178.8,235.1 179.5,243.6 180.3,252.1 181.1,260.5 182.0,268.8 182.9,277.1 183.8,285.1 184.8,293.0 185.9,300.7 187.0,308.2 188.1,315.6 189.3,322.6 190.5,329.5 191.8,336.1 193.1,342.6 194.5,348.8 195.9,354.7 197.3,360.5 198.8,366.0 200.3,371.3 201.9,376.5 203.5,381.4 205.2,386.1 206.9,390.7 208.7,395.1 210.5,399.2 212.3,403.3 214.2,407.1 216.1,410.9 218.1,414.4 220.1,417.9 222.2,421.2 224.3,424.3 226.5,427.4 228.7,430.3 230.9,433.1 233.2,435.8 235.6,438.4 237.9,440.9 240.4,443.3 242.8,445.6 245.4,447.9 247.9,450.0 250.5,452.1 253.2,454.1 255.9,456.0 258.6,457.9 261.4,459.6 264.2,461.4 267.1,463.0 270.0,464.6 272.9,466.2 275.9,467.7 279.0,469.2 282.1,470.6 285.2,471.9 288.4,473.2 291.6,474.5 294.9,475.7 298.2,476.9 301.6,478.1 305.0,479.2 308.4,480.3 311.9,481.3 315.5,482.4 319.0,483.4 322.7,484.3 326.3,485.3 330.0,486.2 333.8,487.1 337.6,487.9 341.5,488.7 345.3,489.6 349.3,490.3 353.3,491.1 357.3,491.9 361.4,492.6 365.5,493.3 369.6,494.0 373.8,494.7 378.1,495.3 382.4,496.0 386.7,496.6 391.1,497.2 395.5,497.8 400.0,498.4 404.5,499.0 409.1,499.5 413.7,500.1 418.3,500.6 423.0,501.1 427.8,501.6 432.6,502.1 437.4,502.6 442.3,503.1 447.2,503.5 452.1,504.0 457.1,504.4 462.2,504.9 467.3,505.3 472.4,505.7 477.6,506.2 482.8,506.6 488.1,507.0" fill="none" stroke="#009E73" stroke-opacity="0.4" stroke-width="1.45"/>
<path d="M175.6,270.8 175.6,271.1 175.7,272.1 175.9,273.7 176.1,275.9 176.5,278.7 176.8,282.0 177.3,285.8 177.8,290.0 178.4,294.6 179.1,299.6 179.9,304.8 180.7,310.2 181.6,315.8 182.5,321.6 183.5,327.4 184.6,333.3 185.8,339.1 187.1,345.0 188.4,350.8 189.7,356.5 191.2,362.1 192.7,367.5 194.3,372.9 196.0,378.1 197.7,383.2 199.5,388.1 201.4,392.8 203.4,397.4 205.4,401.8 207.5,406.1 209.6,410.2 211.9,414.2 214.2,418.0 216.5,421.6 219.0,425.1 221.5,428.5 224.1,431.7 226.7,434.8 229.5,437.8 232.3,440.6 235.1,443.4 238.1,446.0 241.1,448.5 244.2,450.9 247.3,453.3 250.6,455.5 253.9,457.6 257.2,459.7 260.7,461.6 264.2,463.5 267.8,465.4 271.4,467.1 275.1,468.8 278.9,470.4 282.8,472.0 286.7,473.5 290.7,474.9 294.8,476.3 298.9,477.7 303.2,479.0 307.4,480.2 311.8,481.4 316.2,482.6 320.7,483.7 325.3,484.8 330.0,485.9 334.7,486.9 339.4,487.9 344.3,488.8 349.2,489.7 354.2,490.6 359.3,491.5 364.4,492.3 369.6,493.2 374.9,494.0 380.3,494.7 385.7,495.5 391.2,496.2 396.8,496.9 402.4,497.6 408.1,498.3 413.9,498.9 419.7,499.5 425.6,500.2 431.6,500.8 437.7,501.4 443.8,501.9 450.0,502.5 456.3,503.0 462.6,503.6 469.1,504.1 475.5,504.6 482.1,505.1 488.7,505.6 495.4,506.1 502.2,506.5 509.0,507.0 515.9,507.4 522.9,507.9 530.0,508.3 537.1,508.7 544.3,509.1 551.6,509.5 558.9,509.9 566.3,510.3 573.8,510.7 581.3,511.1 588.9,511.5 596.6,511.8 604.4,512.2 612.2,512.6 620.1,512.9 628.1,513.3 636.2,513.6 644.3,513.9 652.5,514.3 660.7,514.6 669.0,514.9 677.4,515.2" fill="none" stroke="#E65C00" stroke-opacity="0.4" stroke-width="1.45"/>
<path d="M171.1,155.9 171.2,156.5 171.3,158.2 171.4,161.1 171.7,165.0 172.0,169.9 172.3,175.7 172.7,182.3 173.2,189.7 173.8,197.6 174.4,206.1 175.1,215.0 175.9,224.1 176.7,233.5 177.6,243.0 178.6,252.5 179.6,262.0 180.7,271.5 181.9,280.8 183.1,289.9 184.4,298.8 185.8,307.5 187.2,315.9 188.7,324.0 190.2,331.9 191.9,339.5 193.6,346.7 195.3,353.7 197.1,360.5 199.0,366.9 201.0,373.1 203.0,379.0 205.1,384.6 207.3,390.0 209.5,395.1 211.8,400.0 214.1,404.7 216.6,409.2 219.0,413.5 221.6,417.6 224.2,421.5 226.9,425.2 229.7,428.7 232.5,432.1 235.4,435.4 238.3,438.5 241.3,441.5 244.4,444.3 247.6,447.0 250.8,449.6 254.1,452.1 257.4,454.5 260.9,456.8 264.3,459.0 267.9,461.1 271.5,463.1 275.2,465.1 278.9,467.0 282.8,468.7 286.6,470.5 290.6,472.1 294.6,473.7 298.7,475.3 302.8,476.7 307.1,478.2 311.3,479.5 315.7,480.9 320.1,482.1 324.6,483.4 329.1,484.6 333.7,485.7 338.4,486.8 343.2,487.9 348.0,489.0 352.8,490.0 357.8,490.9 362.8,491.9 367.9,492.8 373.0,493.7 378.2,494.6 383.5,495.4 388.9,496.2 394.3,497.0 399.7,497.8 405.3,498.5 410.9,499.2 416.6,499.9 422.3,500.6 428.1,501.3 434.0,501.9 439.9,502.6 445.9,503.2 452.0,503.8 458.1,504.4 464.4,504.9 470.6,505.5 477.0,506.0 483.4,506.6 489.8,507.1 496.4,507.6 503.0,508.1 509.7,508.6 516.4,509.1 523.2,509.5 530.1,510.0 537.0,510.4 544.0,510.9 551.1,511.3 558.2,511.7 565.4,512.1 572.7,512.5 580.0,512.9 587.4,513.3 594.9,513.7 602.4,514.1 610.0,514.4 617.7,514.8 625.4,515.2 633.2,515.5 641.1,515.9" fill="none" stroke="#E65C00" stroke-opacity="0.4" stroke-width="1.45"/>
<path d="M166.5,346.4 166.6,346.6 166.6,347.2 166.7,348.2 166.9,349.5 167.1,351.3 167.3,353.3 167.5,355.7 167.8,358.3 168.2,361.2 168.6,364.4 169.0,367.7 169.5,371.2 170.0,374.8 170.5,378.5 171.1,382.3 171.7,386.1 172.4,390.0 173.1,393.9 173.9,397.7 174.6,401.6 175.5,405.4 176.3,409.1 177.3,412.8 178.2,416.3 179.2,419.8 180.2,423.3 181.3,426.6 182.4,429.8 183.6,432.9 184.8,435.9 186.0,438.9 187.3,441.7 188.6,444.4 190.0,447.1 191.4,449.6 192.8,452.1 194.3,454.4 195.8,456.7 197.4,458.9 199.0,461.0 200.6,463.0 202.3,464.9 204.0,466.8 205.8,468.6 207.6,470.3 209.4,472.0 211.3,473.6 213.2,475.1 215.2,476.6 217.2,478.0 219.2,479.4 221.3,480.7 223.4,482.0 225.6,483.2 227.8,484.4 230.1,485.5 232.4,486.6 234.7,487.7 237.1,488.7 239.5,489.7 241.9,490.7 244.4,491.6 246.9,492.5 249.5,493.3 252.1,494.1 254.8,494.9 257.5,495.7 260.2,496.5 263.0,497.2 265.8,497.9 268.7,498.6 271.6,499.2 274.5,499.9 277.5,500.5 280.5,501.1 283.5,501.7 286.6,502.2 289.8,502.8 293.0,503.3 296.2,503.8 299.4,504.3 302.8,504.8 306.1,505.3 309.5,505.7 312.9,506.2 316.4,506.6 319.9,507.0 323.4,507.5 327.0,507.9 330.6,508.2 334.3,508.6 338.0,509.0 341.7,509.4 345.5,509.7 349.4,510.1 353.2,510.4 357.1,510.7 361.1,511.1 365.1,511.4 369.1,511.7 373.2,512.0 377.3,512.3 381.4,512.6 385.6,512.9 389.9,513.1 394.2,513.4 398.5,513.7 402.8,513.9 407.2,514.2 411.7,514.4 416.1,514.7 420.6,514.9 425.2,515.2 429.8,515.4 434.4,515.6 439.1,515.9 443.8,516.1 448.6,516.3 453.4,516.5" fill="none" stroke="#E65C00" stroke-opacity="0.4" stroke-width="1.45"/>
<path d="M200.4,334.1 200.4,334.1 200.4,334.3 200.5,334.5 200.5,334.7 200.6,335.1 200.7,335.5 200.9,336.1 201.0,336.7 201.2,337.3 201.4,338.1 201.6,338.9 201.8,339.8 202.0,340.7 202.3,341.7 202.6,342.8 202.9,343.9 203.2,345.1 203.5,346.4 203.9,347.7 204.3,349.0 204.7,350.5 205.1,351.9 205.5,353.4 206.0,354.9 206.5,356.5 207.0,358.1 207.5,359.7 208.0,361.4 208.6,363.1 209.1,364.8 209.7,366.5 210.3,368.3 211.0,370.0 211.6,371.8 212.3,373.6 213.0,375.4 213.7,377.2 214.4,379.0 215.2,380.8 215.9,382.6 216.7,384.5 217.5,386.3 218.4,388.1 219.2,389.9 220.1,391.7 221.0,393.5 221.9,395.3 222.8,397.1 223.7,398.8 224.7,400.6 225.7,402.3 226.7,404.0 227.7,405.8 228.7,407.5 229.8,409.1 230.9,410.8 232.0,412.4 233.1,414.1 234.2,415.7 235.4,417.3 236.6,418.9 237.8,420.4 239.0,421.9 240.2,423.5 241.5,425.0 242.7,426.4 244.0,427.9 245.3,429.3 246.7,430.7 248.0,432.1 249.4,433.5 250.8,434.9 252.2,436.2 253.6,437.5 255.1,438.8 256.5,440.1 258.0,441.4 259.5,442.6 261.1,443.8 262.6,445.0 264.2,446.2 265.8,447.4 267.4,448.5 269.0,449.6 270.6,450.7 272.3,451.8 274.0,452.9 275.7,454.0 277.4,455.0 279.1,456.0 280.9,457.0 282.7,458.0 284.5,459.0 286.3,459.9 288.1,460.9 290.0,461.8 291.9,462.7 293.8,463.6 295.7,464.5 297.6,465.3 299.6,466.2 301.5,467.0 303.5,467.8 305.5,468.7 307.6,469.5 309.6,470.2 311.7,471.0 313.8,471.8 315.9,472.5 318.0,473.2 320.2,474.0 322.3,474.7 324.5,475.4 326.7,476.0 329.0,476.7 331.2,477.4 333.5,478.0 335.7,478.7 338.1,479.3" fill="none" stroke="#009E73" stroke-opacity="0.4" stroke-width="1.45"/>
<path d="M172.2,209.5 172.2,210.0 172.3,211.4 172.5,213.7 172.7,216.9 173.0,220.9 173.4,225.6 173.9,231.1 174.4,237.1 175.0,243.6 175.7,250.6 176.4,257.9 177.2,265.4 178.1,273.2 179.0,281.0 180.0,288.9 181.1,296.9 182.3,304.7 183.5,312.5 184.8,320.1 186.2,327.6 187.6,334.9 189.1,342.0 190.7,348.9 192.3,355.6 194.0,362.0 195.8,368.2 197.7,374.2 199.6,379.9 201.6,385.4 203.7,390.7 205.8,395.8 208.0,400.6 210.3,405.2 212.6,409.7 215.1,413.9 217.5,418.0 220.1,421.8 222.7,425.5 225.4,429.1 228.2,432.5 231.0,435.7 233.9,438.8 236.9,441.8 240.0,444.6 243.1,447.3 246.3,449.9 249.5,452.4 252.8,454.8 256.2,457.1 259.7,459.2 263.3,461.3 266.9,463.4 270.5,465.3 274.3,467.1 278.1,468.9 282.0,470.6 285.9,472.3 290.0,473.9 294.1,475.4 298.2,476.9 302.5,478.3 306.8,479.6 311.2,480.9 315.6,482.2 320.1,483.4 324.7,484.6 329.4,485.8 334.1,486.9 338.9,487.9 343.8,488.9 348.7,489.9 353.7,490.9 358.8,491.8 363.9,492.7 369.2,493.6 374.5,494.5 379.8,495.3 385.2,496.1 390.7,496.9 396.3,497.6 401.9,498.4 407.7,499.1 413.4,499.8 419.3,500.4 425.2,501.1 431.2,501.7 437.3,502.4 443.4,503.0 449.6,503.6 455.9,504.1 462.2,504.7 468.6,505.2 475.1,505.8 481.6,506.3 488.2,506.8 494.9,507.3 501.7,507.8 508.5,508.3 515.4,508.8 522.4,509.2 529.4,509.7 536.5,510.1 543.7,510.5 551.0,511.0 558.3,511.4 565.7,511.8 573.1,512.2 580.7,512.6 588.3,513.0 595.9,513.4 603.7,513.7 611.5,514.1 619.4,514.5 627.3,514.8 635.4,515.2 643.4,515.5 651.6,515.9 659.8,516.2 668.1,516.5" fill="none" stroke="#E65C00" stroke-opacity="0.4" stroke-width="1.45"/>
<path d="M170.6,169.7 170.6,170.1 170.7,171.4 170.8,173.6 171.0,176.6 171.2,180.4 171.4,184.9 171.7,190.1 172.0,195.9 172.3,202.3 172.8,209.1 173.2,216.2 173.7,223.8 174.2,231.5 174.8,239.5 175.4,247.6 176.1,255.7 176.8,263.9 177.5,272.0 178.3,280.1 179.1,288.1 180.0,296.0 180.9,303.7 181.9,311.2 182.9,318.5 183.9,325.7 185.0,332.6 186.1,339.4 187.3,345.9 188.5,352.1 189.7,358.2 191.0,364.1 192.4,369.7 193.8,375.1 195.2,380.3 196.7,385.3 198.2,390.1 199.7,394.8 201.3,399.2 202.9,403.5 204.6,407.6 206.3,411.5 208.1,415.2 209.9,418.9 211.8,422.3 213.6,425.7 215.6,428.9 217.6,431.9 219.6,434.9 221.6,437.7 223.7,440.4 225.9,443.0 228.1,445.5 230.3,448.0 232.6,450.3 234.9,452.5 237.3,454.7 239.7,456.7 242.1,458.7 244.6,460.6 247.1,462.5 249.7,464.3 252.3,466.0 254.9,467.6 257.6,469.2 260.4,470.8 263.2,472.3 266.0,473.7 268.9,475.1 271.8,476.4 274.7,477.7 277.7,479.0 280.8,480.2 283.8,481.4 287.0,482.5 290.1,483.6 293.3,484.7 296.6,485.7 299.9,486.7 303.2,487.7 306.6,488.6 310.0,489.6 313.5,490.4 317.0,491.3 320.5,492.1 324.1,493.0 327.8,493.7 331.4,494.5 335.1,495.3 338.9,496.0 342.7,496.7 346.6,497.4 350.4,498.1 354.4,498.7 358.3,499.4 362.4,500.0 366.4,500.6 370.5,501.2 374.7,501.8 378.8,502.3 383.1,502.9 387.3,503.4 391.7,503.9 396.0,504.4 400.4,504.9 404.9,505.4 409.3,505.9 413.9,506.4 418.4,506.8 423.0,507.3 427.7,507.7 432.4,508.2 437.1,508.6 441.9,509.0 446.7,509.4 451.6,509.8 456.5,510.2 461.4,510.6 466.4,510.9 471.5,511.3" fill="none" stroke="#E65C00" stroke-opacity="0.4" stroke-width="1.45"/>
<path d="M181.8,299.5 181.8,299.8 182.0,300.8 182.2,302.3 182.5,304.5 182.9,307.2 183.4,310.4 184.0,314.0 184.6,318.1 185.4,322.5 186.2,327.2 187.1,332.2 188.1,337.3 189.2,342.6 190.4,348.0 191.7,353.4 193.0,358.8 194.5,364.2 196.0,369.6 197.6,374.9 199.3,380.0 201.1,385.1 203.0,390.0 205.0,394.8 207.1,399.4 209.2,403.9 211.4,408.2 213.8,412.4 216.2,416.4 218.7,420.3 221.3,424.0 223.9,427.5 226.7,430.9 229.5,434.2 232.5,437.3 235.5,440.3 238.6,443.1 241.8,445.9 245.1,448.5 248.5,451.0 251.9,453.4 255.5,455.7 259.1,457.9 262.9,460.0 266.7,462.0 270.6,463.9 274.6,465.8 278.6,467.5 282.8,469.2 287.1,470.9 291.4,472.4 295.8,473.9 300.3,475.4 305.0,476.7 309.6,478.1 314.4,479.3 319.3,480.6 324.2,481.7 329.3,482.9 334.4,484.0 339.6,485.0 344.9,486.0 350.3,487.0 355.8,488.0 361.4,488.9 367.0,489.7 372.8,490.6 378.6,491.4 384.5,492.2 390.5,493.0 396.6,493.7 402.8,494.4 409.1,495.1 415.4,495.8 421.9,496.4 428.4,497.1 435.0,497.7 441.7,498.3 448.5,498.9 455.4,499.4 462.4,500.0 469.4,500.5 476.6,501.0 483.8,501.5 491.1,502.0 498.6,502.5 506.1,502.9 513.6,503.4 521.3,503.8 529.1,504.3 536.9,504.7 544.8,505.1 552.9,505.5 561.0,505.9 569.2,506.3 577.5,506.6 585.8,507.0 594.3,507.4 602.9,507.7 611.5,508.1 620.2,508.4 629.0,508.7 637.9,509.1 646.9,509.4 656.0,509.7 665.1,510.0 674.4,510.3 683.7,510.6 693.2,510.9 702.7,511.2 712.3,511.4 722.0,511.7 731.7,512.0 741.6,512.2 751.6,512.5 761.6,512.8 771.7,513.0 781.9,513.3 792.2,513.5 802.6,513.8" fill="none" stroke="#E65C00" stroke-opacity="0.4" stroke-width="1.45"/>
<path d="M192.8,202.1 192.9,202.3 192.9,202.8 193.0,203.8 193.2,205.1 193.3,206.7 193.5,208.7 193.8,211.1 194.1,213.8 194.4,216.7 194.8,220.0 195.2,223.5 195.6,227.2 196.1,231.2 196.6,235.4 197.2,239.7 197.8,244.3 198.4,248.9 199.1,253.7 199.8,258.6 200.5,263.5 201.3,268.5 202.2,273.6 203.0,278.7 203.9,283.8 204.9,288.9 205.8,294.0 206.9,299.0 207.9,304.1 209.0,309.0 210.2,314.0 211.3,318.8 212.5,323.6 213.8,328.4 215.1,333.0 216.4,337.6 217.8,342.0 219.2,346.4 220.6,350.7 222.1,355.0 223.6,359.1 225.2,363.1 226.8,367.0 228.4,370.9 230.1,374.6 231.8,378.2 233.5,381.8 235.3,385.3 237.1,388.6 239.0,391.9 240.9,395.1 242.9,398.2 244.8,401.3 246.9,404.2 248.9,407.1 251.0,409.9 253.1,412.6 255.3,415.2 257.5,417.8 259.8,420.3 262.1,422.7 264.4,425.1 266.8,427.3 269.2,429.6 271.6,431.7 274.1,433.9 276.6,435.9 279.2,437.9 281.7,439.8 284.4,441.7 287.1,443.6 289.8,445.3 292.5,447.1 295.3,448.8 298.1,450.4 301.0,452.0 303.9,453.6 306.8,455.1 309.8,456.6 312.8,458.0 315.9,459.4 319.0,460.8 322.1,462.1 325.3,463.4 328.5,464.7 331.8,465.9 335.0,467.1 338.4,468.3 341.7,469.5 345.1,470.6 348.6,471.7 352.1,472.7 355.6,473.8 359.1,474.8 362.7,475.8 366.4,476.7 370.0,477.7 373.7,478.6 377.5,479.5 381.3,480.4 385.1,481.2 389.0,482.1 392.9,482.9 396.8,483.7 400.8,484.5 404.8,485.3 408.9,486.0 413.0,486.8 417.1,487.5 421.3,488.2 425.5,488.9 429.7,489.6 434.0,490.2 438.3,490.9 442.7,491.5 447.1,492.2 451.5,492.8 456.0,493.4 460.5,494.0 465.1,494.5" fill="none" stroke="#E65C00" stroke-opacity="0.4" stroke-width="1.45"/>
<path d="M166.1,183.7 166.2,184.7 166.3,187.4 166.6,191.9 167.0,197.9 167.4,205.4 168.0,214.1 168.6,223.8 169.4,234.2 170.3,245.1 171.2,256.4 172.3,267.8 173.4,279.3 174.7,290.6 176.1,301.6 177.6,312.4 179.1,322.8 180.8,332.7 182.6,342.3 184.5,351.3 186.4,359.9 188.5,368.1 190.7,375.8 193.0,383.0 195.4,389.9 197.8,396.3 200.4,402.4 203.1,408.1 205.9,413.5 208.8,418.5 211.8,423.3 214.9,427.7 218.1,431.9 221.4,435.9 224.8,439.6 228.3,443.1 231.9,446.4 235.6,449.5 239.4,452.5 243.3,455.3 247.3,457.9 251.4,460.4 255.6,462.8 259.9,465.0 264.4,467.1 268.9,469.1 273.5,471.1 278.2,472.9 283.0,474.6 287.9,476.3 293.0,477.8 298.1,479.3 303.3,480.8 308.6,482.1 314.1,483.4 319.6,484.7 325.2,485.9 331.0,487.0 336.8,488.1 342.7,489.2 348.8,490.2 354.9,491.2 361.1,492.1 367.5,493.0 373.9,493.9 380.5,494.7 387.1,495.5 393.9,496.3 400.7,497.0 407.7,497.7 414.7,498.4 421.9,499.1 429.1,499.8 436.5,500.4 443.9,501.0 451.5,501.6 459.2,502.2 466.9,502.8 474.8,503.3 482.7,503.9 490.8,504.4 499.0,504.9 507.2,505.4 515.6,505.9 524.1,506.3 532.7,506.8 541.3,507.2 550.1,507.7 559.0,508.1 568.0,508.5 577.0,508.9 586.2,509.3 595.5,509.7 604.9,510.1 614.4,510.5 624.0,510.8 633.7,511.2 643.4,511.5 653.3,511.9 663.3,512.2 673.4,512.6 683.6,512.9 693.9,513.2 704.3,513.6 714.8,513.9 725.4,514.2 736.1,514.5 746.9,514.8 757.8,515.1 768.8,515.4 780.0,515.7 791.2,516.0 802.5,516.3 813.9,516.6 825.4,516.8 837.0,517.1 848.7,517.4 860.6,517.7 872.5,517.9 884.5,518.2" fill="none" stroke="#009E73" stroke-opacity="0.4" stroke-width="1.45"/>
<path d="M172.2,173.9 172.2,174.3 172.3,175.2 172.4,176.7 172.5,178.9 172.7,181.6 172.9,184.8 173.2,188.6 173.5,192.8 173.8,197.5 174.2,202.6 174.6,208.0 175.1,213.8 175.6,219.8 176.1,226.0 176.7,232.4 177.3,238.9 178.0,245.6 178.7,252.3 179.4,259.1 180.2,265.8 181.0,272.6 181.9,279.3 182.8,285.9 183.7,292.5 184.7,298.9 185.7,305.3 186.7,311.5 187.8,317.6 189.0,323.5 190.2,329.3 191.4,335.0 192.6,340.5 193.9,345.8 195.3,351.0 196.6,356.0 198.1,360.9 199.5,365.6 201.0,370.2 202.5,374.6 204.1,378.9 205.7,383.0 207.4,387.0 209.1,390.9 210.8,394.6 212.6,398.2 214.4,401.7 216.3,405.0 218.2,408.3 220.1,411.4 222.1,414.4 224.1,417.3 226.1,420.1 228.2,422.9 230.4,425.5 232.5,428.0 234.7,430.5 237.0,432.8 239.3,435.1 241.6,437.3 244.0,439.5 246.4,441.5 248.9,443.5 251.4,445.5 253.9,447.3 256.5,449.1 259.1,450.9 261.7,452.6 264.4,454.2 267.2,455.8 269.9,457.3 272.7,458.8 275.6,460.3 278.5,461.7 281.4,463.0 284.4,464.3 287.4,465.6 290.5,466.9 293.5,468.1 296.7,469.2 299.8,470.4 303.1,471.5 306.3,472.5 309.6,473.6 312.9,474.6 316.3,475.6 319.7,476.5 323.2,477.4 326.6,478.3 330.2,479.2 333.7,480.1 337.4,480.9 341.0,481.7 344.7,482.5 348.4,483.3 352.2,484.0 356.0,484.8 359.9,485.5 363.7,486.2 367.7,486.8 371.6,487.5 375.7,488.2 379.7,488.8 383.8,489.4 387.9,490.0 392.1,490.6 396.3,491.2 400.5,491.7 404.8,492.3 409.2,492.8 413.5,493.3 417.9,493.8 422.4,494.3 426.9,494.8 431.4,495.3 436.0,495.8 440.6,496.2 445.2,496.7 449.9,497.1 454.6,497.6" fill="none" stroke="#E65C00" stroke-opacity="0.4" stroke-width="1.45"/>
<path d="M170.5,229.3 170.6,229.8 170.7,231.5 170.9,234.3 171.2,238.1 171.5,242.9 171.9,248.5 172.4,254.8 173.0,261.8 173.7,269.3 174.4,277.2 175.2,285.3 176.1,293.7 177.1,302.2 178.1,310.6 179.2,319.1 180.4,327.4 181.7,335.5 183.0,343.5 184.5,351.2 186.0,358.7 187.6,365.9 189.2,372.9 190.9,379.5 192.8,385.9 194.6,392.0 196.6,397.8 198.7,403.4 200.8,408.6 203.0,413.7 205.3,418.4 207.6,423.0 210.0,427.3 212.5,431.4 215.1,435.3 217.8,439.0 220.5,442.5 223.3,445.9 226.2,449.1 229.2,452.1 232.3,455.0 235.4,457.7 238.6,460.4 241.9,462.9 245.2,465.2 248.6,467.5 252.2,469.7 255.7,471.7 259.4,473.7 263.1,475.6 267.0,477.4 270.9,479.1 274.8,480.7 278.9,482.3 283.0,483.8 287.2,485.3 291.5,486.7 295.9,488.0 300.3,489.3 304.8,490.5 309.4,491.7 314.1,492.8 318.8,493.9 323.6,495.0 328.5,496.0 333.5,497.0 338.5,497.9 343.7,498.8 348.9,499.7 354.2,500.6 359.5,501.4 365.0,502.2 370.5,503.0 376.1,503.7 381.7,504.4 387.5,505.1 393.3,505.8 399.2,506.5 405.2,507.1 411.2,507.8 417.4,508.4 423.6,509.0 429.9,509.5 436.2,510.1 442.7,510.6 449.2,511.2 455.8,511.7 462.5,512.2 469.2,512.7 476.0,513.2 482.9,513.6 489.9,514.1 497.0,514.5 504.1,515.0 511.3,515.4 518.6,515.8 526.0,516.2 533.4,516.6 541.0,517.0 548.5,517.4 556.2,517.8 564.0,518.2 571.8,518.5 579.7,518.9 587.7,519.3 595.8,519.6 603.9,519.9 612.1,520.3 620.4,520.6 628.8,520.9 637.2,521.3 645.7,521.6 654.3,521.9 663.0,522.2 671.8,522.5 680.6,522.8 689.5,523.1 698.5,523.4 707.6,523.7 716.7,524.0" fill="none" stroke="#E65C00" stroke-opacity="0.4" stroke-width="1.45"/>
<path d="M187.2,332.3 187.3,332.4 187.3,332.7 187.4,333.2 187.5,334.0 187.7,334.9 187.9,336.1 188.2,337.4 188.5,338.9 188.8,340.6 189.1,342.5 189.5,344.5 190.0,346.6 190.4,348.9 190.9,351.3 191.5,353.8 192.1,356.3 192.7,359.0 193.4,361.7 194.1,364.5 194.8,367.3 195.6,370.2 196.4,373.1 197.3,376.0 198.1,378.9 199.1,381.8 200.0,384.7 201.0,387.6 202.1,390.5 203.2,393.3 204.3,396.1 205.4,398.9 206.6,401.6 207.9,404.3 209.1,407.0 210.4,409.6 211.8,412.2 213.2,414.7 214.6,417.1 216.0,419.5 217.5,421.9 219.1,424.2 220.6,426.4 222.2,428.6 223.9,430.8 225.6,432.9 227.3,434.9 229.1,436.9 230.9,438.8 232.7,440.7 234.6,442.5 236.5,444.3 238.4,446.0 240.4,447.7 242.4,449.4 244.5,450.9 246.6,452.5 248.7,454.0 250.9,455.5 253.1,456.9 255.4,458.3 257.7,459.7 260.0,461.0 262.4,462.2 264.8,463.5 267.2,464.7 269.7,465.9 272.2,467.0 274.8,468.1 277.4,469.2 280.0,470.3 282.7,471.3 285.4,472.3 288.1,473.3 290.9,474.2 293.7,475.1 296.6,476.0 299.5,476.9 302.4,477.8 305.4,478.6 308.4,479.4 311.4,480.2 314.5,481.0 317.6,481.7 320.8,482.5 324.0,483.2 327.2,483.9 330.5,484.5 333.8,485.2 337.2,485.9 340.6,486.5 344.0,487.1 347.5,487.7 351.0,488.3 354.5,488.9 358.1,489.4 361.7,490.0 365.3,490.5 369.0,491.0 372.8,491.6 376.5,492.1 380.3,492.6 384.2,493.0 388.1,493.5 392.0,494.0 395.9,494.4 399.9,494.9 404.0,495.3 408.0,495.7 412.1,496.1 416.3,496.5 420.5,496.9 424.7,497.3 428.9,497.7 433.2,498.1 437.6,498.5 441.9,498.8 446.4,499.2 450.8,499.5 455.3,499.9" fill="none" stroke="#E65C00" stroke-opacity="0.4" stroke-width="1.45"/>
<path d="M181.4,343.9 181.5,344.0 181.5,344.5 181.6,345.2 181.8,346.2 182.0,347.6 182.3,349.1 182.6,351.0 182.9,353.0 183.3,355.3 183.8,357.8 184.3,360.4 184.8,363.2 185.4,366.2 186.0,369.2 186.7,372.3 187.4,375.5 188.2,378.8 189.0,382.1 189.9,385.4 190.8,388.8 191.7,392.1 192.7,395.4 193.8,398.7 194.9,401.9 196.0,405.1 197.2,408.3 198.4,411.4 199.7,414.4 201.0,417.4 202.4,420.3 203.8,423.1 205.3,425.9 206.8,428.5 208.4,431.1 210.0,433.7 211.7,436.1 213.4,438.5 215.1,440.8 216.9,443.0 218.7,445.2 220.6,447.3 222.6,449.3 224.5,451.2 226.6,453.1 228.6,455.0 230.8,456.7 232.9,458.4 235.2,460.1 237.4,461.7 239.7,463.2 242.1,464.7 244.5,466.1 246.9,467.5 249.4,468.9 252.0,470.2 254.6,471.4 257.2,472.6 259.9,473.8 262.6,474.9 265.4,476.0 268.2,477.1 271.1,478.1 274.0,479.1 276.9,480.1 279.9,481.0 283.0,481.9 286.1,482.8 289.2,483.7 292.4,484.5 295.7,485.3 299.0,486.0 302.3,486.8 305.7,487.5 309.1,488.2 312.6,488.9 316.1,489.6 319.7,490.2 323.3,490.9 326.9,491.5 330.7,492.1 334.4,492.6 338.2,493.2 342.1,493.8 345.9,494.3 349.9,494.8 353.9,495.3 357.9,495.8 362.0,496.3 366.1,496.7 370.3,497.2 374.5,497.6 378.8,498.1 383.1,498.5 387.4,498.9 391.9,499.3 396.3,499.7 400.8,500.1 405.4,500.5 409.9,500.8 414.6,501.2 419.3,501.5 424.0,501.9 428.8,502.2 433.6,502.5 438.5,502.9 443.4,503.2 448.4,503.5 453.4,503.8 458.4,504.1 463.5,504.4 468.7,504.6 473.9,504.9 479.1,505.2 484.4,505.5 489.8,505.7 495.2,506.0 500.6,506.2 506.1,506.5 511.6,506.7" fill="none" stroke="#009E73" stroke-opacity="0.4" stroke-width="1.45"/>
<path d="M163.7,134.5 163.7,134.8 163.8,135.8 163.8,137.4 163.9,139.6 164.0,142.4 164.1,145.8 164.3,149.8 164.4,154.2 164.6,159.1 164.8,164.5 165.1,170.2 165.3,176.3 165.6,182.6 165.9,189.2 166.2,196.0 166.6,203.0 166.9,210.1 167.3,217.3 167.7,224.5 168.2,231.8 168.6,239.1 169.1,246.3 169.6,253.5 170.1,260.6 170.7,267.6 171.2,274.5 171.8,281.3 172.4,288.0 173.1,294.5 173.7,300.9 174.4,307.1 175.1,313.2 175.8,319.1 176.6,324.8 177.3,330.4 178.1,335.8 178.9,341.1 179.8,346.2 180.6,351.1 181.5,355.9 182.4,360.5 183.3,365.0 184.2,369.4 185.2,373.6 186.2,377.6 187.2,381.5 188.2,385.3 189.3,389.0 190.4,392.5 191.5,396.0 192.6,399.3 193.7,402.5 194.9,405.5 196.1,408.5 197.3,411.4 198.5,414.2 199.8,416.9 201.1,419.5 202.4,422.0 203.7,424.5 205.0,426.8 206.4,429.1 207.8,431.3 209.2,433.5 210.6,435.5 212.1,437.5 213.5,439.5 215.0,441.3 216.6,443.2 218.1,444.9 219.7,446.6 221.2,448.3 222.9,449.9 224.5,451.4 226.1,452.9 227.8,454.4 229.5,455.8 231.2,457.2 233.0,458.5 234.7,459.8 236.5,461.1 238.3,462.3 240.2,463.5 242.0,464.7 243.9,465.8 245.8,466.9 247.7,467.9 249.7,469.0 251.6,470.0 253.6,471.0 255.6,471.9 257.6,472.8 259.7,473.8 261.8,474.6 263.9,475.5 266.0,476.3 268.1,477.1 270.3,477.9 272.5,478.7 274.7,479.5 276.9,480.2 279.2,480.9 281.4,481.6 283.7,482.3 286.1,483.0 288.4,483.6 290.8,484.2 293.1,484.9 295.6,485.5 298.0,486.1 300.4,486.6 302.9,487.2 305.4,487.8 307.9,488.3 310.5,488.8 313.0,489.3 315.6,489.9 318.2,490.4 320.9,490.8" fill="none" stroke="#E65C00" stroke-opacity="0.4" stroke-width="1.45"/>
<path d="M160.7,223.7 160.7,224.2 160.8,225.7 160.9,228.2 161.1,231.6 161.3,235.9 161.6,240.9 161.9,246.6 162.2,253.0 162.6,259.8 163.1,267.0 163.6,274.6 164.2,282.4 164.8,290.3 165.5,298.3 166.2,306.3 166.9,314.3 167.7,322.1 168.6,329.9 169.5,337.4 170.4,344.8 171.4,351.9 172.5,358.8 173.6,365.4 174.7,371.8 175.9,378.0 177.2,383.9 178.4,389.5 179.8,394.9 181.2,400.1 182.6,405.0 184.1,409.7 185.6,414.2 187.2,418.5 188.9,422.5 190.5,426.4 192.3,430.1 194.1,433.7 195.9,437.0 197.8,440.2 199.7,443.3 201.7,446.2 203.7,449.0 205.8,451.7 207.9,454.2 210.0,456.6 212.3,458.9 214.5,461.1 216.9,463.2 219.2,465.3 221.6,467.2 224.1,469.0 226.6,470.8 229.2,472.5 231.8,474.1 234.4,475.7 237.1,477.2 239.9,478.6 242.7,480.0 245.6,481.3 248.5,482.6 251.4,483.8 254.4,485.0 257.4,486.1 260.5,487.2 263.7,488.2 266.9,489.2 270.1,490.2 273.4,491.1 276.8,492.1 280.1,492.9 283.6,493.8 287.1,494.6 290.6,495.4 294.2,496.1 297.8,496.9 301.5,497.6 305.2,498.3 309.0,498.9 312.8,499.6 316.7,500.2 320.6,500.8 324.6,501.4 328.6,502.0 332.7,502.5 336.8,503.1 341.0,503.6 345.2,504.1 349.5,504.6 353.8,505.1 358.2,505.6 362.6,506.0 367.0,506.5 371.6,506.9 376.1,507.3 380.7,507.7 385.4,508.1 390.1,508.5 394.8,508.9 399.6,509.3 404.5,509.6 409.4,510.0 414.4,510.3 419.3,510.7 424.4,511.0 429.5,511.3 434.6,511.7 439.8,512.0 445.1,512.3 450.4,512.6 455.7,512.9 461.1,513.2 466.5,513.4 472.0,513.7 477.6,514.0 483.1,514.2 488.8,514.5 494.4,514.8 500.2,515.0 506.0,515.3" fill="none" stroke="#009E73" stroke-opacity="0.4" stroke-width="1.45"/>
<path d="M186.7,309.5 186.7,309.7 186.8,310.1 186.9,310.9 187.1,311.9 187.2,313.3 187.5,314.9 187.8,316.7 188.1,318.8 188.5,321.2 188.9,323.7 189.3,326.5 189.8,329.4 190.4,332.5 191.0,335.7 191.6,339.1 192.3,342.5 193.0,346.0 193.8,349.6 194.6,353.3 195.4,357.0 196.3,360.7 197.3,364.4 198.2,368.2 199.3,371.9 200.3,375.6 201.5,379.2 202.6,382.8 203.8,386.4 205.1,389.9 206.3,393.4 207.7,396.8 209.1,400.1 210.5,403.4 211.9,406.6 213.4,409.7 215.0,412.7 216.6,415.7 218.2,418.6 219.9,421.4 221.6,424.2 223.4,426.8 225.2,429.4 227.1,431.9 229.0,434.4 230.9,436.8 232.9,439.1 234.9,441.3 237.0,443.5 239.1,445.6 241.3,447.7 243.5,449.7 245.7,451.6 248.0,453.4 250.3,455.3 252.7,457.0 255.1,458.7 257.6,460.4 260.1,462.0 262.7,463.5 265.3,465.0 267.9,466.5 270.6,467.9 273.3,469.3 276.1,470.6 278.9,471.9 281.8,473.2 284.7,474.4 287.6,475.6 290.6,476.8 293.6,477.9 296.7,479.0 299.8,480.0 303.0,481.0 306.2,482.0 309.5,483.0 312.8,484.0 316.1,484.9 319.5,485.8 322.9,486.6 326.4,487.5 329.9,488.3 333.5,489.1 337.1,489.9 340.7,490.7 344.4,491.4 348.1,492.1 351.9,492.8 355.7,493.5 359.6,494.2 363.5,494.8 367.4,495.5 371.4,496.1 375.5,496.7 379.5,497.3 383.7,497.9 387.8,498.4 392.1,499.0 396.3,499.5 400.6,500.1 405.0,500.6 409.3,501.1 413.8,501.6 418.2,502.1 422.8,502.5 427.3,503.0 431.9,503.4 436.6,503.9 441.3,504.3 446.0,504.7 450.8,505.2 455.6,505.6 460.5,506.0 465.4,506.4 470.3,506.8 475.3,507.1 480.4,507.5 485.5,507.9 490.6,508.2 495.8,508.6" fill="none" stroke="#009E73" stroke-opacity="0.4" stroke-width="1.45"/>
<path d="M198.5,320.7 198.5,320.8 198.6,321.0 198.7,321.4 198.8,322.0 199.0,322.7 199.2,323.6 199.5,324.6 199.8,325.8 200.2,327.1 200.6,328.5 201.0,330.1 201.5,331.8 202.0,333.6 202.5,335.5 203.2,337.5 203.8,339.6 204.5,341.7 205.2,344.0 206.0,346.3 206.8,348.7 207.7,351.1 208.5,353.6 209.5,356.1 210.5,358.6 211.5,361.2 212.5,363.8 213.7,366.4 214.8,369.0 216.0,371.6 217.2,374.2 218.5,376.8 219.8,379.4 221.2,382.0 222.5,384.5 224.0,387.1 225.5,389.6 227.0,392.1 228.5,394.6 230.1,397.0 231.8,399.4 233.5,401.7 235.2,404.1 237.0,406.4 238.8,408.6 240.6,410.8 242.5,413.0 244.5,415.1 246.5,417.2 248.5,419.3 250.5,421.3 252.6,423.3 254.8,425.2 257.0,427.1 259.2,429.0 261.5,430.8 263.8,432.6 266.1,434.3 268.5,436.0 271.0,437.7 273.5,439.3 276.0,440.9 278.5,442.5 281.1,444.0 283.8,445.5 286.5,446.9 289.2,448.3 292.0,449.7 294.8,451.1 297.6,452.4 300.5,453.7 303.5,455.0 306.5,456.2 309.5,457.4 312.5,458.6 315.6,459.8 318.8,460.9 322.0,462.0 325.2,463.1 328.5,464.1 331.8,465.1 335.1,466.2 338.5,467.1 342.0,468.1 345.4,469.0 349.0,470.0 352.5,470.9 356.1,471.8 359.8,472.6 363.5,473.5 367.2,474.3 371.0,475.1 374.8,475.9 378.6,476.7 382.5,477.4 386.5,478.2 390.4,478.9 394.5,479.6 398.5,480.3 402.6,481.0 406.8,481.6 411.0,482.3 415.2,482.9 419.5,483.6 423.8,484.2 428.1,484.8 432.5,485.4 437.0,486.0 441.4,486.6 446.0,487.1 450.5,487.7 455.1,488.2 459.8,488.7 464.4,489.3 469.2,489.8 473.9,490.3 478.8,490.8 483.6,491.2 488.5,491.7 493.4,492.2" fill="none" stroke="#E65C00" stroke-opacity="0.4" stroke-width="1.45"/>
<path d="M169.6,207.3 169.6,207.9 169.7,209.6 169.9,212.6 170.1,216.6 170.4,221.5 170.8,227.4 171.3,234.1 171.8,241.4 172.3,249.3 173.0,257.5 173.7,266.1 174.5,275.0 175.3,283.9 176.3,292.8 177.2,301.7 178.3,310.5 179.4,319.1 180.6,327.6 181.9,335.8 183.2,343.7 184.6,351.3 186.1,358.7 187.6,365.8 189.2,372.5 190.8,379.0 192.6,385.2 194.4,391.1 196.3,396.7 198.2,402.1 200.2,407.2 202.3,412.0 204.4,416.6 206.6,421.0 208.9,425.2 211.3,429.1 213.7,432.9 216.2,436.5 218.7,439.9 221.3,443.1 224.0,446.2 226.8,449.1 229.6,451.9 232.5,454.5 235.4,457.1 238.5,459.5 241.6,461.8 244.7,464.0 248.0,466.1 251.3,468.1 254.6,470.0 258.1,471.8 261.6,473.6 265.1,475.3 268.8,476.9 272.5,478.4 276.3,479.9 280.1,481.3 284.0,482.7 288.0,484.0 292.1,485.2 296.2,486.4 300.4,487.6 304.6,488.7 308.9,489.8 313.3,490.8 317.8,491.8 322.3,492.8 326.9,493.7 331.5,494.6 336.3,495.5 341.1,496.3 345.9,497.1 350.9,497.9 355.9,498.6 360.9,499.4 366.1,500.1 371.3,500.8 376.6,501.4 381.9,502.1 387.3,502.7 392.8,503.3 398.3,503.9 403.9,504.5 409.6,505.0 415.4,505.6 421.2,506.1 427.1,506.6 433.0,507.1 439.0,507.6 445.1,508.1 451.3,508.5 457.5,509.0 463.8,509.4 470.2,509.9 476.6,510.3 483.1,510.7 489.7,511.1 496.3,511.5 503.0,511.9 509.8,512.2 516.6,512.6 523.5,513.0 530.5,513.3 537.5,513.7 544.6,514.0 551.8,514.3 559.1,514.7 566.4,515.0 573.8,515.3 581.2,515.6 588.7,515.9 596.3,516.2 604.0,516.5 611.7,516.8 619.5,517.1 627.3,517.4 635.3,517.6 643.3,517.9 651.3,518.2" fill="none" stroke="#E65C00" stroke-opacity="0.4" stroke-width="1.45"/>
<path d="M175.7,118.0 175.7,118.4 175.8,119.6 175.9,121.6 176.1,124.3 176.4,127.8 176.7,132.0 177.0,136.8 177.4,142.2 177.9,148.2 178.4,154.6 179.0,161.5 179.6,168.8 180.3,176.3 181.1,184.1 181.9,192.1 182.7,200.3 183.6,208.6 184.6,216.9 185.6,225.2 186.7,233.5 187.8,241.8 189.0,250.0 190.2,258.1 191.5,266.0 192.9,273.8 194.3,281.4 195.7,288.9 197.2,296.2 198.8,303.3 200.4,310.2 202.1,316.9 203.8,323.4 205.6,329.7 207.5,335.8 209.4,341.7 211.3,347.4 213.3,352.9 215.4,358.2 217.5,363.3 219.7,368.3 221.9,373.1 224.2,377.7 226.5,382.1 228.9,386.4 231.4,390.6 233.9,394.5 236.4,398.4 239.0,402.1 241.7,405.7 244.4,409.1 247.2,412.4 250.1,415.6 252.9,418.7 255.9,421.7 258.9,424.5 261.9,427.3 265.0,430.0 268.2,432.6 271.4,435.0 274.7,437.4 278.0,439.8 281.4,442.0 284.8,444.2 288.3,446.3 291.9,448.3 295.5,450.2 299.1,452.1 302.9,454.0 306.6,455.7 310.5,457.5 314.3,459.1 318.3,460.7 322.3,462.3 326.3,463.8 330.4,465.3 334.5,466.7 338.8,468.0 343.0,469.4 347.3,470.7 351.7,471.9 356.1,473.2 360.6,474.3 365.2,475.5 369.8,476.6 374.4,477.7 379.1,478.8 383.9,479.8 388.7,480.8 393.5,481.8 398.5,482.7 403.4,483.6 408.5,484.5 413.6,485.4 418.7,486.2 423.9,487.1 429.2,487.9 434.5,488.7 439.8,489.4 445.3,490.2 450.7,490.9 456.3,491.6 461.8,492.3 467.5,493.0 473.2,493.7 478.9,494.3 484.7,495.0 490.6,495.6 496.5,496.2 502.5,496.8 508.5,497.4 514.6,497.9 520.7,498.5 526.9,499.0 533.1,499.5 539.4,500.1 545.8,500.6 552.2,501.1 558.7,501.6 565.2,502.0" fill="none" stroke="#E65C00" stroke-opacity="0.4" stroke-width="1.45"/>
<path d="M169.8,240.6 169.8,241.1 169.9,242.6 170.0,244.9 170.2,248.1 170.4,252.2 170.6,257.0 170.9,262.4 171.3,268.4 171.6,274.9 172.1,281.8 172.6,289.0 173.1,296.4 173.7,303.9 174.3,311.5 174.9,319.1 175.6,326.7 176.4,334.1 177.2,341.5 178.0,348.6 178.9,355.6 179.9,362.4 180.9,368.9 181.9,375.2 183.0,381.3 184.1,387.1 185.2,392.7 186.5,398.1 187.7,403.2 189.0,408.1 190.4,412.7 191.8,417.2 193.2,421.5 194.7,425.5 196.2,429.4 197.8,433.1 199.4,436.6 201.1,439.9 202.8,443.1 204.6,446.2 206.4,449.1 208.2,451.8 210.1,454.5 212.1,457.0 214.1,459.4 216.1,461.7 218.2,463.9 220.3,466.0 222.5,468.0 224.7,469.9 226.9,471.7 229.3,473.5 231.6,475.1 234.0,476.7 236.5,478.3 238.9,479.8 241.5,481.2 244.1,482.5 246.7,483.8 249.4,485.1 252.1,486.3 254.9,487.5 257.7,488.6 260.5,489.6 263.4,490.7 266.4,491.7 269.4,492.6 272.4,493.6 275.5,494.4 278.6,495.3 281.8,496.1 285.0,496.9 288.3,497.7 291.6,498.5 295.0,499.2 298.4,499.9 301.8,500.6 305.3,501.2 308.9,501.9 312.5,502.5 316.1,503.1 319.8,503.7 323.5,504.2 327.3,504.8 331.1,505.3 335.0,505.8 338.9,506.3 342.8,506.8 346.8,507.3 350.9,507.7 355.0,508.2 359.1,508.6 363.3,509.1 367.5,509.5 371.8,509.9 376.1,510.3 380.5,510.7 384.9,511.0 389.4,511.4 393.9,511.8 398.4,512.1 403.0,512.4 407.7,512.8 412.3,513.1 417.1,513.4 421.9,513.7 426.7,514.1 431.5,514.4 436.5,514.6 441.4,514.9 446.4,515.2 451.5,515.5 456.6,515.8 461.7,516.0 466.9,516.3 472.2,516.6 477.4,516.8 482.8,517.1 488.1,517.3 493.6,517.5" fill="none" stroke="#E65C00" stroke-opacity="0.4" stroke-width="1.45"/>
<path d="M177.6,143.2 177.7,143.5 177.7,144.3 177.9,145.8 178.0,147.8 178.2,150.4 178.5,153.5 178.8,157.1 179.2,161.2 179.6,165.7 180.0,170.6 180.5,175.8 181.1,181.4 181.7,187.3 182.3,193.4 183.0,199.8 183.8,206.3 184.6,213.0 185.4,219.7 186.3,226.6 187.2,233.4 188.2,240.3 189.3,247.3 190.3,254.1 191.5,261.0 192.6,267.7 193.9,274.4 195.1,281.0 196.5,287.5 197.8,293.8 199.2,300.1 200.7,306.2 202.2,312.2 203.8,318.0 205.4,323.7 207.0,329.3 208.7,334.7 210.5,339.9 212.3,345.0 214.1,350.0 216.0,354.8 218.0,359.5 220.0,364.0 222.0,368.4 224.1,372.7 226.2,376.8 228.4,380.8 230.7,384.7 232.9,388.4 235.3,392.1 237.6,395.6 240.1,399.0 242.5,402.3 245.1,405.5 247.6,408.6 250.2,411.6 252.9,414.5 255.6,417.3 258.4,420.0 261.2,422.6 264.0,425.2 266.9,427.6 269.9,430.0 272.9,432.3 275.9,434.6 279.0,436.8 282.2,438.9 285.4,440.9 288.6,442.9 291.9,444.8 295.2,446.7 298.6,448.5 302.1,450.3 305.5,452.0 309.1,453.6 312.6,455.2 316.3,456.8 319.9,458.3 323.7,459.8 327.4,461.2 331.2,462.6 335.1,464.0 339.0,465.3 343.0,466.6 347.0,467.8 351.0,469.1 355.1,470.2 359.3,471.4 363.5,472.5 367.7,473.6 372.0,474.7 376.4,475.7 380.8,476.7 385.2,477.7 389.7,478.7 394.2,479.6 398.8,480.5 403.4,481.4 408.1,482.3 412.9,483.1 417.6,484.0 422.5,484.8 427.3,485.6 432.2,486.4 437.2,487.1 442.2,487.9 447.3,488.6 452.4,489.3 457.6,490.0 462.8,490.7 468.0,491.3 473.3,492.0 478.7,492.6 484.1,493.2 489.5,493.9 495.0,494.5 500.6,495.0 506.2,495.6 511.8,496.2 517.5,496.7" fill="none" stroke="#009E73" stroke-opacity="0.4" stroke-width="1.45"/>
<path d="M212.0,286.4 212.0,286.4 212.0,286.6 212.1,286.9 212.2,287.3 212.3,287.8 212.4,288.4 212.6,289.1 212.8,289.9 213.0,290.9 213.2,291.9 213.5,293.0 213.8,294.2 214.1,295.5 214.4,296.9 214.8,298.4 215.2,300.0 215.6,301.6 216.0,303.4 216.5,305.1 216.9,307.0 217.5,308.9 218.0,310.9 218.5,312.9 219.1,315.0 219.7,317.1 220.4,319.3 221.0,321.5 221.7,323.8 222.4,326.0 223.1,328.3 223.9,330.7 224.7,333.0 225.5,335.4 226.3,337.8 227.2,340.2 228.1,342.6 229.0,345.0 229.9,347.4 230.8,349.8 231.8,352.2 232.8,354.6 233.9,357.0 234.9,359.3 236.0,361.7 237.1,364.1 238.2,366.4 239.4,368.8 240.6,371.1 241.8,373.4 243.0,375.6 244.2,377.9 245.5,380.1 246.8,382.3 248.1,384.5 249.5,386.7 250.9,388.8 252.3,390.9 253.7,393.0 255.1,395.1 256.6,397.1 258.1,399.1 259.6,401.1 261.2,403.0 262.8,405.0 264.4,406.9 266.0,408.7 267.6,410.6 269.3,412.4 271.0,414.2 272.7,415.9 274.5,417.6 276.3,419.3 278.1,421.0 279.9,422.7 281.7,424.3 283.6,425.9 285.5,427.4 287.4,429.0 289.4,430.5 291.3,432.0 293.3,433.5 295.4,434.9 297.4,436.3 299.5,437.7 301.6,439.1 303.7,440.4 305.8,441.7 308.0,443.0 310.2,444.3 312.4,445.6 314.7,446.8 316.9,448.0 319.2,449.2 321.5,450.4 323.9,451.5 326.2,452.7 328.6,453.8 331.1,454.9 333.5,455.9 336.0,457.0 338.5,458.0 341.0,459.0 343.5,460.1 346.1,461.0 348.7,462.0 351.3,463.0 353.9,463.9 356.6,464.8 359.3,465.7 362.0,466.6 364.7,467.5 367.5,468.3 370.3,469.2 373.1,470.0 375.9,470.8 378.8,471.6 381.7,472.4 384.6,473.2 387.6,474.0" fill="none" stroke="#009E73" stroke-opacity="0.4" stroke-width="1.45"/>
<path d="M166.9,193.8 166.9,194.3 167.0,195.8 167.1,198.3 167.2,201.7 167.4,205.9 167.6,211.0 167.9,216.8 168.2,223.2 168.5,230.1 168.9,237.5 169.3,245.2 169.8,253.2 170.3,261.3 170.8,269.6 171.4,277.9 172.0,286.3 172.7,294.5 173.4,302.6 174.1,310.6 174.9,318.4 175.7,326.0 176.5,333.4 177.4,340.5 178.4,347.5 179.4,354.1 180.4,360.5 181.4,366.7 182.5,372.6 183.7,378.2 184.8,383.7 186.1,388.9 187.3,393.8 188.6,398.6 189.9,403.1 191.3,407.4 192.7,411.6 194.2,415.5 195.7,419.3 197.2,422.9 198.8,426.3 200.4,429.6 202.1,432.8 203.8,435.8 205.5,438.6 207.3,441.4 209.1,444.0 210.9,446.5 212.8,448.9 214.8,451.2 216.7,453.4 218.7,455.5 220.8,457.6 222.9,459.5 225.0,461.4 227.2,463.1 229.4,464.9 231.7,466.5 234.0,468.1 236.3,469.6 238.7,471.1 241.1,472.5 243.5,473.8 246.0,475.1 248.5,476.4 251.1,477.6 253.7,478.8 256.4,479.9 259.1,481.0 261.8,482.0 264.6,483.0 267.4,484.0 270.2,485.0 273.1,485.9 276.1,486.8 279.0,487.6 282.0,488.4 285.1,489.2 288.2,490.0 291.3,490.8 294.5,491.5 297.7,492.2 300.9,492.9 304.2,493.6 307.6,494.2 310.9,494.8 314.3,495.5 317.8,496.1 321.3,496.6 324.8,497.2 328.4,497.7 332.0,498.3 335.6,498.8 339.3,499.3 343.0,499.8 346.8,500.3 350.6,500.7 354.5,501.2 358.3,501.7 362.3,502.1 366.2,502.5 370.2,502.9 374.3,503.3 378.4,503.7 382.5,504.1 386.7,504.5 390.9,504.9 395.1,505.2 399.4,505.6 403.7,506.0 408.1,506.3 412.5,506.6 416.9,507.0 421.4,507.3 426.0,507.6 430.5,507.9 435.1,508.2 439.8,508.5 444.5,508.8 449.2,509.1" fill="none" stroke="#E65C00" stroke-opacity="0.4" stroke-width="1.45"/>
<path d="M172.8,283.4 172.8,283.7 172.9,284.4 173.0,285.6 173.2,287.3 173.5,289.4 173.7,292.0 174.1,294.9 174.5,298.2 174.9,301.8 175.4,305.7 176.0,309.9 176.6,314.3 177.3,318.8 178.0,323.5 178.8,328.3 179.6,333.2 180.5,338.1 181.4,343.0 182.4,347.9 183.4,352.9 184.5,357.7 185.6,362.5 186.8,367.2 188.1,371.9 189.4,376.4 190.7,380.9 192.1,385.2 193.6,389.4 195.1,393.5 196.6,397.5 198.3,401.3 199.9,405.1 201.7,408.7 203.4,412.2 205.3,415.5 207.1,418.8 209.1,421.9 211.1,425.0 213.1,427.9 215.2,430.7 217.3,433.4 219.5,436.0 221.8,438.5 224.1,440.9 226.5,443.3 228.9,445.5 231.3,447.7 233.9,449.7 236.4,451.7 239.1,453.7 241.7,455.5 244.5,457.3 247.2,459.1 250.1,460.7 253.0,462.3 255.9,463.9 258.9,465.4 262.0,466.8 265.1,468.2 268.2,469.6 271.4,470.9 274.7,472.1 278.0,473.3 281.4,474.5 284.8,475.6 288.3,476.7 291.8,477.8 295.4,478.8 299.0,479.8 302.7,480.8 306.4,481.7 310.2,482.6 314.0,483.5 317.9,484.3 321.9,485.2 325.9,486.0 329.9,486.7 334.1,487.5 338.2,488.2 342.4,488.9 346.7,489.6 351.0,490.3 355.4,491.0 359.8,491.6 364.3,492.2 368.8,492.8 373.4,493.4 378.1,494.0 382.7,494.6 387.5,495.1 392.3,495.6 397.1,496.2 402.0,496.7 407.0,497.2 412.0,497.6 417.1,498.1 422.2,498.6 427.4,499.0 432.6,499.5 437.9,499.9 443.2,500.3 448.6,500.7 454.0,501.1 459.5,501.5 465.0,501.9 470.6,502.3 476.3,502.7 482.0,503.0 487.7,503.4 493.5,503.7 499.4,504.1 505.3,504.4 511.3,504.8 517.3,505.1 523.3,505.4 529.5,505.7 535.6,506.0 541.9,506.3 548.2,506.6" fill="none" stroke="#E65C00" stroke-opacity="0.4" stroke-width="1.45"/>
<path d="M194.1,295.8 194.1,295.9 194.2,296.3 194.3,297.0 194.5,298.0 194.7,299.3 194.9,300.8 195.2,302.5 195.6,304.5 196.0,306.7 196.5,309.1 196.9,311.7 197.5,314.4 198.1,317.3 198.7,320.4 199.4,323.6 200.1,326.9 200.9,330.3 201.7,333.8 202.6,337.4 203.5,341.0 204.5,344.6 205.5,348.3 206.6,351.9 207.7,355.6 208.8,359.3 210.0,362.9 211.3,366.5 212.6,370.1 213.9,373.7 215.3,377.2 216.8,380.7 218.3,384.1 219.8,387.4 221.4,390.7 223.0,393.9 224.7,397.1 226.4,400.2 228.2,403.2 230.0,406.1 231.8,409.0 233.8,411.8 235.7,414.6 237.7,417.2 239.8,419.8 241.9,422.4 244.0,424.9 246.2,427.3 248.5,429.6 250.8,431.9 253.1,434.1 255.5,436.2 257.9,438.3 260.4,440.4 262.9,442.3 265.5,444.3 268.1,446.1 270.8,447.9 273.5,449.7 276.2,451.4 279.0,453.1 281.9,454.7 284.8,456.3 287.8,457.8 290.8,459.3 293.8,460.7 296.9,462.1 300.0,463.5 303.2,464.8 306.4,466.1 309.7,467.4 313.1,468.6 316.4,469.8 319.8,470.9 323.3,472.1 326.8,473.2 330.4,474.2 334.0,475.3 337.7,476.3 341.4,477.3 345.1,478.3 348.9,479.2 352.8,480.1 356.7,481.0 360.6,481.9 364.6,482.7 368.6,483.6 372.7,484.4 376.8,485.2 381.0,485.9 385.2,486.7 389.5,487.4 393.8,488.1 398.2,488.8 402.6,489.5 407.1,490.2 411.6,490.8 416.1,491.5 420.7,492.1 425.4,492.7 430.1,493.3 434.8,493.9 439.6,494.5 444.5,495.1 449.3,495.6 454.3,496.2 459.2,496.7 464.3,497.2 469.3,497.7 474.5,498.2 479.6,498.7 484.9,499.2 490.1,499.7 495.4,500.1 500.8,500.6 506.2,501.0 511.6,501.5 517.1,501.9 522.7,502.3 528.3,502.8" fill="none" stroke="#009E73" stroke-opacity="0.4" stroke-width="1.45"/>
<path d="M186.6,261.7 186.6,261.9 186.7,262.4 186.8,263.2 186.9,264.4 187.1,265.8 187.4,267.6 187.7,269.6 188.0,272.0 188.4,274.6 188.8,277.4 189.3,280.4 189.8,283.7 190.3,287.1 190.9,290.7 191.5,294.5 192.2,298.3 193.0,302.3 193.7,306.4 194.6,310.5 195.4,314.7 196.3,318.9 197.3,323.1 198.3,327.4 199.3,331.6 200.4,335.8 201.5,340.0 202.7,344.2 203.9,348.3 205.2,352.4 206.5,356.4 207.8,360.4 209.2,364.2 210.6,368.1 212.1,371.8 213.6,375.4 215.2,379.0 216.8,382.5 218.5,385.9 220.2,389.3 221.9,392.5 223.7,395.7 225.5,398.8 227.4,401.8 229.3,404.7 231.3,407.5 233.3,410.3 235.4,413.0 237.5,415.6 239.6,418.1 241.8,420.6 244.0,423.0 246.3,425.3 248.6,427.6 251.0,429.8 253.4,431.9 255.8,433.9 258.3,436.0 260.9,437.9 263.5,439.8 266.1,441.6 268.8,443.4 271.5,445.1 274.2,446.8 277.0,448.4 279.9,450.0 282.8,451.6 285.7,453.1 288.7,454.5 291.7,455.9 294.8,457.3 297.9,458.6 301.1,459.9 304.3,461.2 307.5,462.4 310.8,463.6 314.1,464.8 317.5,465.9 320.9,467.0 324.4,468.1 327.9,469.1 331.5,470.1 335.1,471.1 338.7,472.1 342.4,473.0 346.1,473.9 349.9,474.8 353.7,475.7 357.6,476.5 361.5,477.4 365.5,478.2 369.5,479.0 373.5,479.7 377.6,480.5 381.7,481.2 385.9,481.9 390.1,482.6 394.4,483.3 398.7,484.0 403.0,484.6 407.4,485.3 411.9,485.9 416.3,486.5 420.9,487.1 425.4,487.7 430.1,488.2 434.7,488.8 439.4,489.3 444.2,489.9 449.0,490.4 453.8,490.9 458.7,491.4 463.6,491.9 468.6,492.4 473.6,492.9 478.6,493.3 483.8,493.8 488.9,494.2 494.1,494.7 499.3,495.1" fill="none" stroke="#009E73" stroke-opacity="0.4" stroke-width="1.45"/>
<path d="M160.7,228.0 160.7,228.6 160.8,230.5 160.9,233.6 161.1,237.9 161.3,243.1 161.6,249.3 161.9,256.3 162.3,263.9 162.7,272.0 163.1,280.5 163.7,289.2 164.2,298.1 164.8,306.9 165.5,315.8 166.2,324.5 167.0,333.0 167.8,341.3 168.7,349.3 169.6,357.1 170.5,364.5 171.5,371.6 172.6,378.4 173.7,384.9 174.9,391.1 176.1,396.9 177.3,402.5 178.6,407.8 180.0,412.8 181.4,417.5 182.9,422.0 184.4,426.3 185.9,430.3 187.5,434.1 189.2,437.7 190.9,441.1 192.6,444.3 194.4,447.4 196.3,450.3 198.2,453.0 200.1,455.6 202.1,458.1 204.1,460.5 206.2,462.7 208.4,464.8 210.6,466.8 212.8,468.7 215.1,470.6 217.4,472.3 219.8,474.0 222.3,475.6 224.8,477.1 227.3,478.5 229.9,479.9 232.5,481.2 235.2,482.5 238.0,483.7 240.7,484.8 243.6,485.9 246.5,487.0 249.4,488.0 252.4,489.0 255.4,489.9 258.5,490.8 261.6,491.7 264.8,492.5 268.0,493.3 271.3,494.1 274.6,494.8 278.0,495.6 281.4,496.2 284.9,496.9 288.4,497.6 292.0,498.2 295.6,498.8 299.3,499.4 303.0,499.9 306.8,500.5 310.6,501.0 314.5,501.5 318.4,502.0 322.3,502.5 326.4,502.9 330.4,503.4 334.5,503.8 338.7,504.2 342.9,504.6 347.2,505.0 351.5,505.4 355.9,505.8 360.3,506.2 364.7,506.5 369.2,506.9 373.8,507.2 378.4,507.5 383.1,507.9 387.8,508.2 392.5,508.5 397.3,508.8 402.2,509.1 407.1,509.4 412.0,509.6 417.0,509.9 422.1,510.2 427.2,510.4 432.3,510.7 437.5,510.9 442.8,511.2 448.1,511.4 453.4,511.7 458.8,511.9 464.3,512.1 469.8,512.3 475.3,512.6 480.9,512.8 486.6,513.0 492.2,513.2 498.0,513.4 503.8,513.6 509.6,513.8" fill="none" stroke="#009E73" stroke-opacity="0.4" stroke-width="1.45"/>
<path d="M173.3,183.9 173.3,184.2 173.3,185.2 173.4,186.7 173.5,188.8 173.6,191.5 173.8,194.8 174.0,198.5 174.3,202.8 174.5,207.4 174.8,212.5 175.2,217.9 175.5,223.6 175.9,229.5 176.3,235.7 176.8,242.1 177.3,248.5 177.8,255.1 178.4,261.8 178.9,268.4 179.6,275.1 180.2,281.8 180.9,288.4 181.6,294.9 182.3,301.4 183.1,307.7 183.9,313.9 184.7,320.0 185.6,326.0 186.5,331.8 187.4,337.5 188.4,343.0 189.4,348.4 190.4,353.6 191.5,358.7 192.6,363.6 193.7,368.4 194.8,373.0 196.0,377.4 197.2,381.7 198.5,385.9 199.8,389.9 201.1,393.8 202.4,397.6 203.8,401.2 205.2,404.7 206.6,408.1 208.1,411.3 209.6,414.5 211.1,417.5 212.7,420.4 214.3,423.3 215.9,426.0 217.6,428.6 219.2,431.2 221.0,433.6 222.7,436.0 224.5,438.3 226.3,440.5 228.2,442.6 230.0,444.7 231.9,446.7 233.9,448.6 235.9,450.5 237.9,452.3 239.9,454.0 242.0,455.7 244.1,457.3 246.2,458.9 248.3,460.5 250.5,461.9 252.8,463.4 255.0,464.8 257.3,466.1 259.6,467.4 262.0,468.7 264.4,469.9 266.8,471.1 269.2,472.3 271.7,473.4 274.2,474.5 276.7,475.5 279.3,476.6 281.9,477.6 284.5,478.5 287.2,479.5 289.9,480.4 292.6,481.3 295.4,482.2 298.2,483.0 301.0,483.8 303.9,484.6 306.8,485.4 309.7,486.2 312.6,486.9 315.6,487.6 318.6,488.3 321.7,489.0 324.7,489.7 327.8,490.3 331.0,491.0 334.2,491.6 337.4,492.2 340.6,492.8 343.9,493.4 347.2,493.9 350.5,494.5 353.8,495.0 357.2,495.5 360.7,496.1 364.1,496.6 367.6,497.1 371.1,497.5 374.7,498.0 378.2,498.5 381.9,498.9 385.5,499.4 389.2,499.8 392.9,500.2 396.6,500.6" fill="none" stroke="#E65C00" stroke-opacity="0.4" stroke-width="1.45"/>
<path d="M184.9,252.0 184.9,252.2 185.0,252.7 185.1,253.5 185.2,254.7 185.4,256.2 185.6,258.0 185.9,260.1 186.2,262.4 186.6,265.0 187.0,267.9 187.4,271.0 187.9,274.3 188.4,277.8 189.0,281.5 189.6,285.3 190.3,289.3 191.0,293.3 191.7,297.5 192.5,301.7 193.3,305.9 194.2,310.3 195.1,314.6 196.0,319.0 197.0,323.3 198.0,327.6 199.1,332.0 200.2,336.2 201.4,340.5 202.6,344.7 203.8,348.8 205.1,352.9 206.4,356.9 207.8,360.8 209.2,364.7 210.7,368.5 212.2,372.2 213.7,375.8 215.3,379.3 216.9,382.8 218.6,386.1 220.3,389.4 222.0,392.6 223.8,395.7 225.7,398.8 227.5,401.7 229.5,404.6 231.4,407.4 233.4,410.1 235.5,412.7 237.5,415.3 239.7,417.8 241.8,420.2 244.1,422.6 246.3,424.9 248.6,427.1 250.9,429.2 253.3,431.3 255.7,433.3 258.2,435.3 260.7,437.2 263.3,439.1 265.9,440.9 268.5,442.6 271.2,444.3 273.9,446.0 276.6,447.6 279.4,449.2 282.3,450.7 285.2,452.2 288.1,453.6 291.1,455.0 294.1,456.3 297.1,457.6 300.2,458.9 303.4,460.2 306.6,461.4 309.8,462.6 313.0,463.7 316.4,464.8 319.7,465.9 323.1,467.0 326.5,468.0 330.0,469.0 333.5,470.0 337.1,470.9 340.7,471.8 344.3,472.7 348.0,473.6 351.7,474.5 355.5,475.3 359.3,476.1 363.2,476.9 367.1,477.7 371.0,478.5 375.0,479.2 379.0,479.9 383.1,480.6 387.2,481.3 391.4,482.0 395.5,482.6 399.8,483.3 404.1,483.9 408.4,484.5 412.7,485.1 417.1,485.7 421.6,486.3 426.1,486.8 430.6,487.4 435.2,487.9 439.8,488.5 444.4,489.0 449.1,489.5 453.9,490.0 458.7,490.5 463.5,490.9 468.4,491.4 473.3,491.8 478.2,492.3 483.2,492.7" fill="none" stroke="#009E73" stroke-opacity="0.4" stroke-width="1.45"/>
<path d="M171.9,317.4 171.9,317.6 172.0,318.1 172.1,319.0 172.3,320.2 172.5,321.8 172.7,323.6 173.0,325.8 173.3,328.2 173.7,330.9 174.1,333.8 174.6,336.9 175.1,340.2 175.7,343.6 176.3,347.2 176.9,350.9 177.6,354.7 178.3,358.5 179.1,362.4 179.9,366.3 180.8,370.2 181.7,374.1 182.6,378.0 183.6,381.9 184.6,385.7 185.7,389.4 186.9,393.1 188.0,396.8 189.2,400.3 190.5,403.8 191.8,407.2 193.1,410.5 194.5,413.8 196.0,416.9 197.4,420.0 199.0,422.9 200.5,425.8 202.2,428.6 203.8,431.3 205.5,433.9 207.3,436.4 209.0,438.9 210.9,441.3 212.7,443.6 214.7,445.8 216.6,447.9 218.6,450.0 220.7,452.0 222.8,453.9 224.9,455.8 227.1,457.6 229.4,459.3 231.6,461.0 233.9,462.6 236.3,464.2 238.7,465.7 241.2,467.2 243.7,468.6 246.2,470.0 248.8,471.3 251.4,472.6 254.1,473.9 256.8,475.1 259.6,476.2 262.4,477.4 265.2,478.5 268.1,479.5 271.0,480.5 274.0,481.5 277.0,482.5 280.1,483.4 283.2,484.3 286.4,485.2 289.6,486.1 292.8,486.9 296.1,487.7 299.5,488.5 302.8,489.2 306.3,490.0 309.7,490.7 313.2,491.4 316.8,492.0 320.4,492.7 324.0,493.3 327.7,494.0 331.4,494.6 335.2,495.2 339.0,495.7 342.9,496.3 346.8,496.8 350.8,497.4 354.8,497.9 358.8,498.4 362.9,498.9 367.0,499.3 371.2,499.8 375.4,500.3 379.7,500.7 384.0,501.1 388.3,501.6 392.7,502.0 397.1,502.4 401.6,502.8 406.2,503.2 410.7,503.6 415.3,503.9 420.0,504.3 424.7,504.6 429.4,505.0 434.2,505.3 439.1,505.7 444.0,506.0 448.9,506.3 453.8,506.6 458.9,506.9 463.9,507.2 469.0,507.5 474.2,507.8 479.3,508.1 484.6,508.4" fill="none" stroke="#E65C00" stroke-opacity="0.4" stroke-width="1.45"/>
<path d="M176.0,248.8 176.0,249.3 176.2,251.0 176.4,253.8 176.7,257.5 177.1,262.1 177.7,267.6 178.3,273.8 179.0,280.6 179.7,287.8 180.6,295.4 181.6,303.2 182.7,311.2 183.8,319.3 185.1,327.3 186.4,335.3 187.9,343.1 189.4,350.7 191.0,358.1 192.7,365.3 194.5,372.2 196.4,378.8 198.4,385.2 200.5,391.3 202.7,397.1 205.0,402.7 207.3,407.9 209.8,412.9 212.4,417.7 215.0,422.2 217.7,426.5 220.6,430.6 223.5,434.5 226.5,438.1 229.6,441.6 232.8,444.9 236.1,448.0 239.5,451.0 243.0,453.8 246.5,456.5 250.2,459.1 254.0,461.5 257.8,463.8 261.8,466.0 265.8,468.1 269.9,470.1 274.1,472.0 278.5,473.8 282.9,475.5 287.4,477.2 292.0,478.7 296.6,480.3 301.4,481.7 306.3,483.1 311.3,484.4 316.3,485.7 321.5,486.9 326.7,488.1 332.0,489.2 337.5,490.3 343.0,491.3 348.6,492.3 354.3,493.3 360.1,494.2 366.0,495.1 372.0,496.0 378.1,496.8 384.2,497.6 390.5,498.4 396.8,499.2 403.3,499.9 409.8,500.6 416.5,501.3 423.2,502.0 430.0,502.6 436.9,503.2 443.9,503.8 451.0,504.4 458.2,505.0 465.5,505.6 472.9,506.1 480.3,506.6 487.9,507.2 495.6,507.7 503.3,508.1 511.2,508.6 519.1,509.1 527.1,509.6 535.2,510.0 543.4,510.4 551.7,510.9 560.1,511.3 568.6,511.7 577.2,512.1 585.9,512.5 594.7,512.9 603.5,513.3 612.5,513.6 621.5,514.0 630.7,514.4 639.9,514.7 649.2,515.1 658.6,515.4 668.1,515.8 677.7,516.1 687.4,516.4 697.2,516.7 707.1,517.1 717.1,517.4 727.1,517.7 737.3,518.0 747.6,518.3 757.9,518.6 768.3,518.9 778.9,519.2 789.5,519.5 800.2,519.8 811.0,520.1 821.9,520.4 832.9,520.6" fill="none" stroke="#009E73" stroke-opacity="0.4" stroke-width="1.45"/>
<path d="M166.8,177.8 166.8,178.5 166.9,180.8 167.1,184.4 167.4,189.4 167.7,195.6 168.1,202.9 168.6,211.1 169.1,220.1 169.7,229.6 170.4,239.6 171.2,249.8 172.0,260.3 172.9,270.7 173.9,281.1 175.0,291.3 176.1,301.4 177.3,311.1 178.6,320.6 179.9,329.7 181.3,338.4 182.8,346.8 184.4,354.8 186.0,362.5 187.7,369.7 189.5,376.6 191.4,383.2 193.3,389.4 195.3,395.3 197.4,400.9 199.5,406.2 201.7,411.2 204.0,415.9 206.4,420.4 208.8,424.6 211.3,428.6 213.9,432.4 216.6,436.1 219.3,439.5 222.1,442.7 225.0,445.8 227.9,448.7 230.9,451.5 234.0,454.1 237.2,456.6 240.4,459.0 243.7,461.3 247.1,463.4 250.6,465.5 254.1,467.5 257.7,469.3 261.4,471.1 265.1,472.8 268.9,474.5 272.8,476.0 276.8,477.5 280.8,478.9 284.9,480.3 289.1,481.6 293.4,482.9 297.7,484.1 302.1,485.3 306.6,486.4 311.1,487.4 315.7,488.5 320.4,489.5 325.2,490.4 330.0,491.3 335.0,492.2 339.9,493.1 345.0,493.9 350.1,494.7 355.3,495.5 360.6,496.2 365.9,497.0 371.4,497.6 376.8,498.3 382.4,499.0 388.0,499.6 393.8,500.2 399.5,500.8 405.4,501.4 411.3,502.0 417.3,502.5 423.4,503.0 429.5,503.6 435.8,504.1 442.1,504.5 448.4,505.0 454.9,505.5 461.4,505.9 467.9,506.4 474.6,506.8 481.3,507.2 488.1,507.6 495.0,508.0 501.9,508.4 509.0,508.8 516.1,509.2 523.2,509.5 530.5,509.9 537.8,510.2 545.2,510.6 552.6,510.9 560.1,511.2 567.7,511.6 575.4,511.9 583.2,512.2 591.0,512.5 598.9,512.8 606.8,513.1 614.9,513.4 623.0,513.7 631.2,513.9 639.4,514.2 647.7,514.5 656.1,514.8 664.6,515.0 673.2,515.3 681.8,515.5" fill="none" stroke="#009E73" stroke-opacity="0.4" stroke-width="1.45"/>
<path d="M166.6,152.2 166.6,153.0 166.7,155.3 166.9,159.0 167.1,164.1 167.4,170.5 167.8,177.9 168.3,186.3 168.8,195.5 169.5,205.3 170.1,215.7 170.9,226.3 171.7,237.1 172.6,248.0 173.6,258.8 174.6,269.6 175.7,280.1 176.9,290.4 178.2,300.3 179.5,310.0 180.9,319.2 182.3,328.2 183.9,336.7 185.5,344.8 187.2,352.6 188.9,360.0 190.8,367.0 192.6,373.7 194.6,380.0 196.7,386.0 198.8,391.7 201.0,397.1 203.2,402.3 205.5,407.1 207.9,411.7 210.4,416.1 212.9,420.2 215.6,424.1 218.2,427.9 221.0,431.4 223.8,434.7 226.7,437.9 229.7,441.0 232.7,443.8 235.9,446.6 239.0,449.2 242.3,451.7 245.6,454.0 249.0,456.3 252.5,458.4 256.0,460.5 259.7,462.4 263.4,464.3 267.1,466.1 270.9,467.8 274.8,469.5 278.8,471.0 282.9,472.5 287.0,474.0 291.2,475.4 295.4,476.7 299.8,478.0 304.2,479.2 308.6,480.4 313.2,481.5 317.8,482.6 322.5,483.6 327.2,484.6 332.1,485.6 337.0,486.6 342.0,487.5 347.0,488.3 352.1,489.2 357.3,490.0 362.6,490.8 367.9,491.6 373.3,492.3 378.8,493.0 384.3,493.7 390.0,494.4 395.7,495.0 401.4,495.7 407.3,496.3 413.2,496.9 419.1,497.5 425.2,498.0 431.3,498.6 437.5,499.1 443.8,499.6 450.1,500.1 456.5,500.6 463.0,501.1 469.5,501.6 476.2,502.0 482.9,502.5 489.6,502.9 496.5,503.3 503.4,503.7 510.4,504.1 517.4,504.5 524.5,504.9 531.7,505.3 539.0,505.7 546.3,506.0 553.7,506.4 561.2,506.7 568.8,507.1 576.4,507.4 584.1,507.7 591.9,508.1 599.7,508.4 607.6,508.7 615.6,509.0 623.7,509.3 631.8,509.6 640.0,509.9 648.2,510.2 656.6,510.5 665.0,510.7 673.5,511.0" fill="none" stroke="#009E73" stroke-opacity="0.4" stroke-width="1.45"/>
<path d="M173.7,198.1 173.7,198.4 173.8,199.4 173.9,201.0 174.0,203.1 174.2,205.9 174.4,209.2 174.6,213.0 174.9,217.3 175.2,222.1 175.6,227.2 176.0,232.7 176.4,238.4 176.8,244.4 177.3,250.6 177.9,256.9 178.4,263.4 179.1,270.0 179.7,276.6 180.4,283.2 181.1,289.7 181.9,296.3 182.6,302.8 183.5,309.2 184.3,315.5 185.2,321.6 186.2,327.7 187.2,333.6 188.2,339.4 189.2,345.0 190.3,350.4 191.4,355.7 192.6,360.9 193.8,365.9 195.0,370.7 196.3,375.4 197.6,379.9 199.0,384.2 200.3,388.4 201.8,392.5 203.2,396.4 204.7,400.2 206.2,403.9 207.8,407.4 209.4,410.8 211.1,414.1 212.7,417.2 214.5,420.2 216.2,423.2 218.0,426.0 219.8,428.7 221.7,431.3 223.6,433.9 225.5,436.3 227.5,438.7 229.5,440.9 231.5,443.1 233.6,445.2 235.7,447.3 237.9,449.3 240.1,451.2 242.3,453.0 244.6,454.8 246.9,456.5 249.2,458.1 251.6,459.7 254.0,461.3 256.5,462.8 259.0,464.2 261.5,465.6 264.1,467.0 266.7,468.3 269.3,469.6 272.0,470.8 274.7,472.0 277.4,473.2 280.2,474.3 283.0,475.4 285.9,476.5 288.8,477.5 291.7,478.5 294.7,479.5 297.7,480.4 300.7,481.3 303.8,482.2 306.9,483.1 310.1,483.9 313.3,484.7 316.5,485.5 319.8,486.3 323.1,487.1 326.4,487.8 329.8,488.5 333.2,489.2 336.6,489.9 340.1,490.5 343.6,491.2 347.2,491.8 350.8,492.4 354.4,493.0 358.1,493.6 361.8,494.2 365.6,494.7 369.3,495.3 373.1,495.8 377.0,496.3 380.9,496.8 384.8,497.3 388.8,497.8 392.8,498.3 396.8,498.8 400.9,499.2 405.0,499.7 409.2,500.1 413.3,500.5 417.6,500.9 421.8,501.4 426.1,501.8 430.5,502.2 434.8,502.5" fill="none" stroke="#009E73" stroke-opacity="0.4" stroke-width="1.45"/>
<path d="M176.3,324.5 176.4,325.0 176.6,326.5 176.8,329.0 177.2,332.3 177.7,336.5 178.2,341.3 178.9,346.7 179.7,352.6 180.6,358.9 181.6,365.4 182.7,372.0 183.9,378.7 185.2,385.3 186.6,391.9 188.1,398.4 189.7,404.6 191.4,410.7 193.3,416.5 195.2,422.1 197.2,427.5 199.4,432.6 201.6,437.4 204.0,442.0 206.4,446.4 209.0,450.5 211.6,454.4 214.4,458.0 217.3,461.5 220.2,464.8 223.3,467.9 226.5,470.8 229.8,473.5 233.2,476.1 236.7,478.6 240.3,480.9 244.0,483.1 247.8,485.1 251.7,487.1 255.7,488.9 259.9,490.7 264.1,492.3 268.4,493.9 272.9,495.4 277.4,496.8 282.1,498.1 286.8,499.4 291.7,500.6 296.6,501.8 301.7,502.9 306.8,503.9 312.1,504.9 317.5,505.8 323.0,506.7 328.6,507.6 334.3,508.4 340.0,509.2 345.9,510.0 351.9,510.7 358.1,511.4 364.3,512.0 370.6,512.7 377.0,513.3 383.5,513.9 390.2,514.4 396.9,515.0 403.7,515.5 410.7,516.0 417.7,516.4 424.9,516.9 432.1,517.3 439.5,517.8 447.0,518.2 454.5,518.6 462.2,519.0 470.0,519.3 477.9,519.7 485.8,520.0 493.9,520.4 502.1,520.7 510.4,521.0 518.8,521.3 527.3,521.6 536.0,521.9 544.7,522.1 553.5,522.4 562.4,522.6 571.4,522.9 580.6,523.1 589.8,523.4 599.2,523.6 608.6,523.8 618.2,524.0 627.8,524.2 637.6,524.4 647.5,524.6 657.4,524.8 667.5,525.0 677.7,525.2 688.0,525.4 698.3,525.5 708.8,525.7 719.4,525.9 730.1,526.0 740.9,526.2 751.9,526.3 762.9,526.5 774.0,526.6 785.2,526.8 796.5,526.9 808.0,527.0 819.5,527.2 831.1,527.3 842.9,527.4 854.7,527.5 866.7,527.7 878.7,527.8 890.9,527.9 903.2,528.0 915.5,528.1" fill="none" stroke="#009E73" stroke-opacity="0.4" stroke-width="1.45"/>
<path d="M160.7,112.9 160.8,113.4 160.8,114.8 160.9,117.2 161.0,120.4 161.1,124.5 161.2,129.4 161.4,135.1 161.6,141.4 161.9,148.3 162.1,155.8 162.4,163.6 162.7,171.9 163.1,180.5 163.4,189.3 163.8,198.2 164.2,207.3 164.7,216.4 165.2,225.5 165.7,234.5 166.2,243.5 166.8,252.4 167.4,261.1 168.0,269.6 168.6,278.0 169.3,286.1 170.0,294.0 170.7,301.7 171.5,309.2 172.2,316.4 173.1,323.4 173.9,330.2 174.7,336.7 175.6,342.9 176.6,349.0 177.5,354.8 178.5,360.4 179.5,365.8 180.5,371.0 181.5,376.0 182.6,380.8 183.7,385.4 184.9,389.8 186.0,394.0 187.2,398.1 188.4,402.0 189.7,405.8 190.9,409.4 192.2,412.9 193.6,416.3 194.9,419.5 196.3,422.6 197.7,425.5 199.2,428.4 200.6,431.2 202.1,433.8 203.6,436.4 205.2,438.8 206.7,441.2 208.3,443.4 210.0,445.6 211.6,447.8 213.3,449.8 215.0,451.8 216.7,453.7 218.5,455.5 220.3,457.3 222.1,459.0 224.0,460.6 225.8,462.2 227.7,463.8 229.7,465.2 231.6,466.7 233.6,468.1 235.6,469.4 237.7,470.7 239.7,472.0 241.8,473.2 243.9,474.4 246.1,475.6 248.2,476.7 250.4,477.7 252.7,478.8 254.9,479.8 257.2,480.8 259.5,481.8 261.9,482.7 264.2,483.6 266.6,484.5 269.0,485.3 271.5,486.2 274.0,487.0 276.5,487.7 279.0,488.5 281.6,489.3 284.1,490.0 286.7,490.7 289.4,491.4 292.1,492.0 294.7,492.7 297.5,493.3 300.2,493.9 303.0,494.5 305.8,495.1 308.6,495.7 311.5,496.3 314.4,496.8 317.3,497.4 320.2,497.9 323.2,498.4 326.2,498.9 329.2,499.4 332.2,499.8 335.3,500.3 338.4,500.8 341.6,501.2 344.7,501.6 347.9,502.1 351.1,502.5 354.4,502.9" fill="none" stroke="#009E73" stroke-opacity="0.4" stroke-width="1.45"/>
<path d="M208.1,299.6 208.1,299.7 208.2,300.0 208.3,300.5 208.5,301.2 208.7,302.1 208.9,303.2 209.3,304.5 209.6,305.9 210.0,307.5 210.5,309.3 211.0,311.2 211.6,313.3 212.2,315.5 212.8,317.8 213.5,320.3 214.3,322.8 215.1,325.5 215.9,328.2 216.8,331.0 217.7,333.9 218.7,336.8 219.8,339.7 220.9,342.7 222.0,345.8 223.2,348.8 224.4,351.9 225.7,355.0 227.0,358.0 228.4,361.1 229.8,364.1 231.3,367.2 232.8,370.2 234.4,373.1 236.0,376.1 237.7,379.0 239.4,381.9 241.1,384.7 242.9,387.5 244.8,390.3 246.7,393.0 248.7,395.7 250.7,398.3 252.7,400.8 254.8,403.4 257.0,405.8 259.2,408.3 261.4,410.6 263.7,412.9 266.1,415.2 268.5,417.4 270.9,419.6 273.4,421.7 275.9,423.8 278.5,425.8 281.1,427.8 283.8,429.7 286.5,431.6 289.3,433.4 292.1,435.2 295.0,437.0 297.9,438.7 300.9,440.4 303.9,442.0 307.0,443.6 310.1,445.1 313.3,446.7 316.5,448.1 319.7,449.6 323.1,451.0 326.4,452.4 329.8,453.7 333.3,455.0 336.8,456.3 340.3,457.5 343.9,458.7 347.6,459.9 351.3,461.1 355.0,462.2 358.8,463.3 362.6,464.4 366.5,465.4 370.5,466.5 374.5,467.5 378.5,468.4 382.6,469.4 386.7,470.3 390.9,471.2 395.1,472.1 399.4,473.0 403.7,473.9 408.1,474.7 412.5,475.5 417.0,476.3 421.5,477.1 426.0,477.9 430.7,478.6 435.3,479.3 440.0,480.1 444.8,480.8 449.6,481.5 454.4,482.1 459.3,482.8 464.3,483.4 469.3,484.1 474.3,484.7 479.4,485.3 484.6,485.9 489.8,486.5 495.0,487.1 500.3,487.6 505.6,488.2 511.0,488.7 516.5,489.2 521.9,489.8 527.5,490.3 533.1,490.8 538.7,491.3 544.4,491.8 550.1,492.2" fill="none" stroke="#009E73" stroke-opacity="0.4" stroke-width="1.45"/>
<path d="M201.4,288.0 201.4,288.1 201.4,288.3 201.5,288.8 201.6,289.4 201.8,290.1 202.0,291.1 202.2,292.2 202.5,293.4 202.8,294.8 203.1,296.4 203.5,298.0 203.9,299.9 204.3,301.8 204.8,303.9 205.3,306.0 205.8,308.3 206.4,310.7 207.0,313.1 207.6,315.7 208.3,318.3 209.0,321.0 209.8,323.7 210.5,326.5 211.4,329.3 212.2,332.2 213.1,335.1 214.0,338.1 215.0,341.0 216.0,344.0 217.0,346.9 218.0,349.9 219.1,352.9 220.3,355.8 221.4,358.8 222.6,361.7 223.8,364.6 225.1,367.5 226.4,370.4 227.8,373.2 229.1,376.1 230.5,378.8 232.0,381.6 233.4,384.3 235.0,387.0 236.5,389.6 238.1,392.2 239.7,394.8 241.3,397.3 243.0,399.8 244.7,402.2 246.5,404.6 248.3,406.9 250.1,409.3 252.0,411.5 253.9,413.7 255.8,415.9 257.7,418.1 259.7,420.2 261.8,422.2 263.8,424.2 265.9,426.2 268.1,428.1 270.2,430.0 272.5,431.9 274.7,433.7 277.0,435.4 279.3,437.2 281.6,438.9 284.0,440.6 286.4,442.2 288.9,443.8 291.3,445.3 293.9,446.9 296.4,448.4 299.0,449.8 301.6,451.3 304.3,452.7 307.0,454.0 309.7,455.4 312.4,456.7 315.2,458.0 318.1,459.2 320.9,460.5 323.8,461.7 326.8,462.8 329.7,464.0 332.7,465.1 335.8,466.2 338.8,467.3 342.0,468.4 345.1,469.4 348.3,470.5 351.5,471.5 354.7,472.4 358.0,473.4 361.3,474.3 364.7,475.3 368.1,476.2 371.5,477.0 374.9,477.9 378.4,478.8 381.9,479.6 385.5,480.4 389.1,481.2 392.7,482.0 396.4,482.8 400.1,483.5 403.8,484.3 407.6,485.0 411.4,485.7 415.2,486.4 419.1,487.1 423.0,487.8 426.9,488.5 430.9,489.1 434.9,489.7 439.0,490.4 443.0,491.0 447.2,491.6" fill="none" stroke="#E65C00" stroke-opacity="0.4" stroke-width="1.45"/>
<path d="M164.9,246.7 164.9,247.0 165.0,248.2 165.1,250.1 165.2,252.7 165.4,256.0 165.7,259.8 165.9,264.3 166.2,269.2 166.6,274.6 167.0,280.4 167.4,286.4 167.9,292.7 168.4,299.2 169.0,305.7 169.6,312.4 170.2,319.0 170.9,325.6 171.6,332.2 172.4,338.7 173.2,345.0 174.0,351.2 174.9,357.3 175.8,363.2 176.8,368.9 177.8,374.4 178.9,379.7 180.0,384.9 181.1,389.8 182.3,394.6 183.5,399.1 184.7,403.5 186.0,407.7 187.4,411.8 188.8,415.6 190.2,419.3 191.7,422.9 193.2,426.3 194.7,429.5 196.3,432.6 197.9,435.6 199.6,438.4 201.3,441.2 203.1,443.8 204.9,446.3 206.7,448.7 208.6,450.9 210.5,453.1 212.5,455.2 214.5,457.3 216.5,459.2 218.6,461.0 220.7,462.8 222.9,464.5 225.1,466.2 227.3,467.7 229.6,469.3 232.0,470.7 234.3,472.1 236.8,473.5 239.2,474.8 241.7,476.0 244.2,477.2 246.8,478.4 249.4,479.5 252.1,480.6 254.8,481.6 257.6,482.6 260.3,483.6 263.2,484.5 266.0,485.4 268.9,486.3 271.9,487.1 274.9,488.0 277.9,488.8 281.0,489.5 284.1,490.3 287.3,491.0 290.5,491.7 293.7,492.4 297.0,493.0 300.3,493.7 303.7,494.3 307.1,494.9 310.5,495.5 314.0,496.0 317.5,496.6 321.1,497.1 324.7,497.7 328.4,498.2 332.1,498.7 335.8,499.2 339.6,499.6 343.4,500.1 347.3,500.5 351.2,501.0 355.1,501.4 359.1,501.8 363.1,502.2 367.2,502.6 371.3,503.0 375.4,503.4 379.6,503.8 383.9,504.1 388.1,504.5 392.4,504.8 396.8,505.2 401.2,505.5 405.6,505.8 410.1,506.2 414.6,506.5 419.2,506.8 423.8,507.1 428.4,507.4 433.1,507.7 437.8,508.0 442.6,508.3 447.4,508.5 452.3,508.8 457.2,509.1" fill="none" stroke="#E65C00" stroke-opacity="0.4" stroke-width="1.45"/>
<path d="M168.7,171.2 168.8,171.9 168.9,174.2 169.1,177.8 169.4,182.9 169.8,189.1 170.3,196.4 170.9,204.7 171.5,213.7 172.3,223.4 173.1,233.4 174.1,243.8 175.1,254.4 176.2,265.0 177.4,275.6 178.7,286.0 180.1,296.3 181.5,306.2 183.1,315.9 184.7,325.2 186.4,334.2 188.2,342.8 190.2,351.1 192.1,358.9 194.2,366.4 196.4,373.6 198.7,380.3 201.0,386.8 203.4,392.9 206.0,398.6 208.6,404.1 211.3,409.3 214.1,414.2 217.0,418.9 219.9,423.3 223.0,427.5 226.1,431.5 229.4,435.2 232.7,438.8 236.1,442.2 239.6,445.4 243.2,448.4 246.9,451.3 250.6,454.1 254.5,456.7 258.4,459.2 262.4,461.6 266.6,463.9 270.8,466.0 275.1,468.1 279.5,470.1 283.9,472.0 288.5,473.8 293.1,475.5 297.9,477.1 302.7,478.7 307.6,480.2 312.6,481.7 317.7,483.1 322.9,484.4 328.2,485.7 333.5,486.9 339.0,488.1 344.5,489.3 350.1,490.4 355.9,491.4 361.7,492.4 367.6,493.4 373.5,494.4 379.6,495.3 385.8,496.2 392.0,497.0 398.3,497.9 404.8,498.7 411.3,499.5 417.9,500.2 424.6,500.9 431.3,501.7 438.2,502.3 445.2,503.0 452.2,503.7 459.3,504.3 466.6,504.9 473.9,505.5 481.3,506.1 488.7,506.7 496.3,507.2 504.0,507.8 511.7,508.3 519.6,508.8 527.5,509.3 535.5,509.8 543.6,510.3 551.8,510.7 560.1,511.2 568.5,511.6 576.9,512.1 585.5,512.5 594.1,512.9 602.9,513.3 611.7,513.7 620.6,514.1 629.6,514.5 638.6,514.9 647.8,515.3 657.1,515.7 666.4,516.0 675.9,516.4 685.4,516.7 695.0,517.1 704.7,517.4 714.5,517.8 724.4,518.1 734.3,518.4 744.4,518.7 754.5,519.1 764.8,519.4 775.1,519.7 785.5,520.0 796.0,520.3" fill="none" stroke="#009E73" stroke-opacity="0.4" stroke-width="1.45"/>
<path d="M172.0,203.5 172.0,203.7 172.0,204.2 172.1,205.0 172.2,206.1 172.3,207.6 172.5,209.3 172.6,211.4 172.8,213.7 173.1,216.3 173.3,219.2 173.6,222.3 173.9,225.6 174.2,229.2 174.6,232.9 175.0,236.8 175.4,240.8 175.8,245.0 176.3,249.3 176.8,253.7 177.3,258.2 177.8,262.8 178.4,267.4 179.0,272.1 179.6,276.7 180.3,281.4 181.0,286.1 181.7,290.8 182.4,295.5 183.2,300.2 184.0,304.8 184.8,309.4 185.6,313.9 186.5,318.4 187.4,322.8 188.3,327.1 189.2,331.4 190.2,335.6 191.2,339.7 192.2,343.8 193.3,347.8 194.3,351.7 195.4,355.5 196.6,359.2 197.7,362.8 198.9,366.4 200.1,369.9 201.4,373.3 202.6,376.6 203.9,379.9 205.2,383.0 206.6,386.1 207.9,389.1 209.3,392.0 210.8,394.9 212.2,397.7 213.7,400.4 215.2,403.0 216.7,405.6 218.3,408.1 219.9,410.5 221.5,412.9 223.1,415.2 224.8,417.5 226.5,419.7 228.2,421.8 229.9,423.9 231.7,425.9 233.5,427.9 235.3,429.8 237.1,431.7 239.0,433.5 240.9,435.2 242.9,437.0 244.8,438.7 246.8,440.3 248.8,441.9 250.8,443.4 252.9,445.0 255.0,446.4 257.1,447.9 259.2,449.3 261.4,450.6 263.6,452.0 265.8,453.3 268.1,454.5 270.3,455.8 272.6,457.0 275.0,458.2 277.3,459.3 279.7,460.4 282.1,461.5 284.5,462.6 287.0,463.6 289.5,464.7 292.0,465.7 294.5,466.6 297.1,467.6 299.7,468.5 302.3,469.4 305.0,470.3 307.6,471.2 310.3,472.0 313.1,472.8 315.8,473.7 318.6,474.4 321.4,475.2 324.2,476.0 327.1,476.7 330.0,477.4 332.9,478.2 335.8,478.8 338.8,479.5 341.8,480.2 344.8,480.8 347.9,481.5 350.9,482.1 354.0,482.7 357.2,483.3 360.3,483.9" fill="none" stroke="#E65C00" stroke-opacity="0.4" stroke-width="1.45"/>
<path d="M162.1,122.3 162.1,122.8 162.2,124.2 162.2,126.5 162.3,129.6 162.4,133.6 162.6,138.4 162.7,143.9 162.9,150.1 163.1,156.8 163.4,164.0 163.6,171.7 163.9,179.7 164.2,188.0 164.6,196.6 164.9,205.3 165.3,214.1 165.7,222.9 166.2,231.7 166.6,240.5 167.1,249.2 167.6,257.8 168.2,266.3 168.7,274.5 169.3,282.6 169.9,290.5 170.6,298.2 171.2,305.6 171.9,312.8 172.6,319.8 173.3,326.6 174.1,333.1 174.9,339.4 175.7,345.5 176.5,351.3 177.4,356.9 178.3,362.4 179.2,367.6 180.1,372.6 181.1,377.4 182.1,382.0 183.1,386.4 184.1,390.7 185.2,394.8 186.3,398.7 187.4,402.5 188.5,406.2 189.7,409.7 190.8,413.0 192.1,416.2 193.3,419.3 194.5,422.3 195.8,425.2 197.1,427.9 198.5,430.6 199.8,433.1 201.2,435.6 202.6,437.9 204.1,440.2 205.5,442.4 207.0,444.5 208.5,446.6 210.0,448.5 211.6,450.4 213.2,452.2 214.8,454.0 216.4,455.7 218.1,457.3 219.8,458.9 221.5,460.4 223.2,461.9 225.0,463.4 226.8,464.7 228.6,466.1 230.4,467.4 232.2,468.6 234.1,469.8 236.0,471.0 238.0,472.1 239.9,473.2 241.9,474.3 243.9,475.4 245.9,476.4 248.0,477.3 250.1,478.3 252.2,479.2 254.3,480.1 256.5,480.9 258.7,481.8 260.9,482.6 263.1,483.4 265.4,484.2 267.6,484.9 269.9,485.7 272.3,486.4 274.6,487.1 277.0,487.7 279.4,488.4 281.9,489.0 284.3,489.6 286.8,490.2 289.3,490.8 291.8,491.4 294.4,492.0 297.0,492.5 299.6,493.1 302.2,493.6 304.9,494.1 307.5,494.6 310.2,495.1 313.0,495.5 315.7,496.0 318.5,496.5 321.3,496.9 324.1,497.3 327.0,497.7 329.9,498.2 332.8,498.6 335.7,499.0 338.7,499.3" fill="none" stroke="#009E73" stroke-opacity="0.4" stroke-width="1.45"/>
<path d="M175.3,317.5 175.4,317.8 175.5,318.5 175.6,319.8 175.8,321.5 176.1,323.7 176.5,326.3 176.9,329.2 177.3,332.5 177.9,336.2 178.5,340.1 179.1,344.2 179.9,348.5 180.6,352.9 181.5,357.4 182.4,362.0 183.4,366.7 184.4,371.3 185.5,376.0 186.7,380.6 187.9,385.1 189.2,389.6 190.5,393.9 191.9,398.2 193.4,402.4 194.9,406.4 196.5,410.4 198.2,414.2 199.9,417.9 201.7,421.4 203.6,424.9 205.5,428.2 207.5,431.3 209.5,434.4 211.6,437.4 213.8,440.2 216.0,442.9 218.3,445.5 220.6,448.0 223.0,450.4 225.5,452.8 228.1,455.0 230.7,457.1 233.3,459.2 236.1,461.1 238.9,463.0 241.7,464.8 244.6,466.6 247.6,468.2 250.6,469.8 253.7,471.4 256.9,472.9 260.1,474.3 263.4,475.7 266.8,477.0 270.2,478.3 273.7,479.5 277.2,480.7 280.8,481.8 284.5,482.9 288.2,484.0 292.0,485.0 295.9,486.0 299.8,486.9 303.8,487.8 307.9,488.7 312.0,489.6 316.1,490.4 320.4,491.2 324.7,492.0 329.0,492.8 333.4,493.5 337.9,494.2 342.5,494.9 347.1,495.6 351.8,496.2 356.5,496.8 361.3,497.4 366.2,498.0 371.1,498.6 376.1,499.2 381.1,499.7 386.2,500.2 391.4,500.8 396.6,501.3 401.9,501.8 407.3,502.2 412.7,502.7 418.2,503.2 423.8,503.6 429.4,504.0 435.1,504.5 440.8,504.9 446.6,505.3 452.5,505.7 458.4,506.1 464.4,506.4 470.4,506.8 476.6,507.2 482.7,507.5 489.0,507.9 495.3,508.2 501.7,508.6 508.1,508.9 514.6,509.2 521.1,509.5 527.8,509.8 534.4,510.2 541.2,510.5 548.0,510.8 554.8,511.0 561.8,511.3 568.8,511.6 575.8,511.9 583.0,512.2 590.1,512.4 597.4,512.7 604.7,513.0 612.1,513.2 619.5,513.5" fill="none" stroke="#009E73" stroke-opacity="0.4" stroke-width="1.45"/>
<path d="M169.6,171.9 169.6,172.4 169.7,173.9 169.8,176.4 169.9,179.7 170.1,184.0 170.3,189.1 170.6,194.9 170.9,201.3 171.2,208.3 171.6,215.8 172.0,223.6 172.5,231.8 173.0,240.1 173.5,248.7 174.1,257.2 174.7,265.8 175.4,274.4 176.1,282.8 176.8,291.2 177.6,299.4 178.4,307.4 179.3,315.2 180.2,322.7 181.1,330.0 182.1,337.1 183.1,344.0 184.2,350.6 185.3,356.9 186.4,363.0 187.6,368.8 188.8,374.4 190.1,379.8 191.4,385.0 192.7,389.9 194.1,394.6 195.5,399.1 197.0,403.5 198.5,407.6 200.0,411.5 201.6,415.3 203.2,418.9 204.9,422.4 206.6,425.7 208.3,428.9 210.1,431.9 211.9,434.8 213.8,437.6 215.7,440.2 217.6,442.8 219.6,445.2 221.6,447.6 223.7,449.8 225.8,452.0 227.9,454.1 230.1,456.1 232.3,458.0 234.6,459.8 236.9,461.6 239.2,463.3 241.6,464.9 244.0,466.5 246.5,468.0 249.0,469.4 251.5,470.8 254.1,472.2 256.7,473.5 259.4,474.8 262.1,476.0 264.8,477.1 267.6,478.3 270.4,479.4 273.3,480.4 276.2,481.4 279.1,482.4 282.1,483.4 285.1,484.3 288.2,485.2 291.3,486.1 294.4,486.9 297.6,487.7 300.8,488.5 304.1,489.3 307.4,490.0 310.7,490.8 314.1,491.5 317.5,492.2 321.0,492.8 324.5,493.5 328.0,494.1 331.6,494.7 335.2,495.3 338.9,495.9 342.6,496.4 346.3,497.0 350.1,497.5 353.9,498.0 357.8,498.5 361.7,499.0 365.6,499.5 369.6,500.0 373.6,500.5 377.7,500.9 381.8,501.3 385.9,501.8 390.1,502.2 394.3,502.6 398.6,503.0 402.9,503.4 407.2,503.8 411.6,504.2 416.0,504.5 420.5,504.9 425.0,505.2 429.5,505.6 434.1,505.9 438.7,506.3 443.4,506.6 448.0,506.9 452.8,507.2" fill="none" stroke="#E65C00" stroke-opacity="0.4" stroke-width="1.45"/>
<path d="M163.3,204.3 163.3,204.6 163.4,205.4 163.4,206.6 163.5,208.4 163.6,210.6 163.7,213.3 163.8,216.4 164.0,219.9 164.1,223.7 164.3,228.0 164.5,232.5 164.7,237.3 165.0,242.3 165.2,247.6 165.5,253.0 165.8,258.6 166.1,264.3 166.5,270.1 166.8,275.9 167.2,281.8 167.6,287.7 168.0,293.6 168.5,299.4 168.9,305.2 169.4,311.0 169.9,316.6 170.4,322.2 170.9,327.7 171.5,333.1 172.1,338.4 172.7,343.5 173.3,348.6 173.9,353.5 174.6,358.3 175.2,363.0 175.9,367.5 176.6,371.9 177.3,376.2 178.1,380.4 178.9,384.4 179.6,388.4 180.4,392.2 181.3,395.8 182.1,399.4 183.0,402.9 183.9,406.2 184.8,409.4 185.7,412.6 186.6,415.6 187.6,418.5 188.6,421.4 189.6,424.1 190.6,426.8 191.6,429.3 192.7,431.8 193.8,434.2 194.9,436.6 196.0,438.8 197.1,441.0 198.3,443.1 199.4,445.1 200.6,447.1 201.8,449.0 203.1,450.9 204.3,452.7 205.6,454.4 206.9,456.1 208.2,457.8 209.5,459.3 210.9,460.9 212.2,462.4 213.6,463.8 215.0,465.2 216.5,466.6 217.9,467.9 219.4,469.2 220.8,470.4 222.3,471.6 223.9,472.8 225.4,474.0 227.0,475.1 228.6,476.1 230.2,477.2 231.8,478.2 233.4,479.2 235.1,480.2 236.8,481.1 238.4,482.0 240.2,482.9 241.9,483.8 243.7,484.6 245.4,485.4 247.2,486.2 249.0,487.0 250.9,487.8 252.7,488.5 254.6,489.2 256.5,489.9 258.4,490.6 260.3,491.3 262.3,491.9 264.2,492.6 266.2,493.2 268.2,493.8 270.3,494.4 272.3,495.0 274.4,495.5 276.5,496.1 278.6,496.6 280.7,497.2 282.8,497.7 285.0,498.2 287.2,498.7 289.4,499.1 291.6,499.6 293.9,500.1 296.1,500.5 298.4,501.0 300.7,501.4" fill="none" stroke="#E65C00" stroke-opacity="0.4" stroke-width="1.45"/>
<path d="M183.0,325.2 183.0,325.4 183.0,325.7 183.1,326.2 183.2,327.0 183.3,327.9 183.5,329.0 183.7,330.4 183.9,331.9 184.1,333.6 184.4,335.5 184.7,337.5 185.0,339.7 185.4,341.9 185.8,344.4 186.2,346.9 186.6,349.5 187.1,352.2 187.6,355.0 188.1,357.9 188.7,360.8 189.3,363.7 189.9,366.7 190.5,369.7 191.2,372.8 191.9,375.8 192.6,378.8 193.3,381.9 194.1,384.9 194.9,387.9 195.8,390.9 196.7,393.8 197.5,396.7 198.5,399.6 199.4,402.4 200.4,405.2 201.4,408.0 202.5,410.7 203.5,413.3 204.6,416.0 205.7,418.5 206.9,421.0 208.1,423.5 209.3,425.8 210.5,428.2 211.8,430.5 213.1,432.7 214.4,434.9 215.8,437.0 217.1,439.1 218.6,441.1 220.0,443.1 221.5,445.0 223.0,446.9 224.5,448.7 226.0,450.5 227.6,452.2 229.2,453.9 230.8,455.6 232.5,457.2 234.2,458.7 235.9,460.2 237.7,461.7 239.5,463.2 241.3,464.6 243.1,465.9 245.0,467.2 246.9,468.5 248.8,469.8 250.7,471.0 252.7,472.2 254.7,473.4 256.7,474.5 258.8,475.6 260.9,476.7 263.0,477.7 265.2,478.8 267.4,479.7 269.6,480.7 271.8,481.7 274.1,482.6 276.3,483.5 278.7,484.3 281.0,485.2 283.4,486.0 285.8,486.8 288.2,487.6 290.7,488.4 293.2,489.2 295.7,489.9 298.2,490.6 300.8,491.3 303.4,492.0 306.1,492.7 308.7,493.3 311.4,494.0 314.1,494.6 316.9,495.2 319.7,495.8 322.5,496.4 325.3,496.9 328.1,497.5 331.0,498.0 334.0,498.6 336.9,499.1 339.9,499.6 342.9,500.1 345.9,500.6 349.0,501.1 352.1,501.5 355.2,502.0 358.3,502.4 361.5,502.9 364.7,503.3 367.9,503.7 371.2,504.1 374.5,504.6 377.8,505.0 381.1,505.3 384.5,505.7" fill="none" stroke="#009E73" stroke-opacity="0.4" stroke-width="1.45"/>
<path d="M171.7,210.2 171.7,210.6 171.8,212.0 172.0,214.3 172.2,217.4 172.5,221.3 172.9,226.0 173.4,231.4 173.9,237.3 174.5,243.7 175.1,250.5 175.9,257.7 176.7,265.2 177.5,272.8 178.4,280.5 179.4,288.3 180.5,296.0 181.7,303.8 182.9,311.4 184.1,318.9 185.5,326.2 186.9,333.4 188.4,340.3 189.9,347.1 191.6,353.6 193.3,359.9 195.0,366.0 196.9,371.8 198.8,377.4 200.7,382.8 202.8,387.9 204.9,392.9 207.0,397.6 209.3,402.1 211.6,406.4 214.0,410.6 216.4,414.5 219.0,418.3 221.5,421.9 224.2,425.4 226.9,428.7 229.7,431.8 232.6,434.8 235.5,437.7 238.5,440.4 241.6,443.1 244.8,445.6 248.0,448.0 251.2,450.3 254.6,452.5 258.0,454.7 261.5,456.7 265.1,458.6 268.7,460.5 272.4,462.3 276.2,464.0 280.0,465.7 283.9,467.3 287.9,468.8 291.9,470.3 296.0,471.7 300.2,473.0 304.4,474.3 308.8,475.6 313.1,476.8 317.6,478.0 322.1,479.1 326.7,480.2 331.4,481.3 336.1,482.3 340.9,483.2 345.8,484.2 350.7,485.1 355.7,486.0 360.8,486.9 365.9,487.7 371.2,488.5 376.4,489.3 381.8,490.0 387.2,490.8 392.7,491.5 398.3,492.2 403.9,492.8 409.6,493.5 415.4,494.1 421.2,494.7 427.1,495.3 433.1,495.9 439.1,496.5 445.2,497.0 451.4,497.5 457.7,498.1 464.0,498.6 470.4,499.1 476.8,499.5 483.4,500.0 490.0,500.5 496.6,500.9 503.4,501.4 510.2,501.8 517.0,502.2 524.0,502.6 531.0,503.0 538.1,503.4 545.2,503.8 552.4,504.2 559.7,504.5 567.1,504.9 574.5,505.2 582.0,505.6 589.6,505.9 597.2,506.2 604.9,506.6 612.7,506.9 620.5,507.2 628.4,507.5 636.4,507.8 644.4,508.1 652.6,508.4 660.7,508.7" fill="none" stroke="#E65C00" stroke-opacity="0.4" stroke-width="1.45"/>
<path d="M198.6,354.9 198.6,355.1 198.7,355.5 198.9,356.2 199.2,357.2 199.5,358.5 199.9,360.0 200.4,361.8 201.0,363.8 201.7,365.9 202.4,368.3 203.2,370.9 204.1,373.5 205.0,376.4 206.1,379.3 207.2,382.3 208.3,385.3 209.6,388.5 210.9,391.6 212.4,394.8 213.8,398.0 215.4,401.1 217.0,404.3 218.8,407.4 220.6,410.5 222.4,413.5 224.4,416.5 226.4,419.5 228.5,422.3 230.7,425.2 232.9,427.9 235.3,430.6 237.7,433.2 240.1,435.7 242.7,438.2 245.3,440.6 248.0,442.9 250.8,445.1 253.7,447.3 256.6,449.4 259.6,451.5 262.7,453.4 265.9,455.4 269.2,457.2 272.5,459.0 275.9,460.7 279.3,462.4 282.9,464.0 286.5,465.6 290.2,467.1 294.0,468.5 297.9,470.0 301.8,471.3 305.8,472.6 309.9,473.9 314.0,475.2 318.3,476.4 322.6,477.5 327.0,478.6 331.5,479.7 336.0,480.8 340.6,481.8 345.3,482.8 350.1,483.7 354.9,484.7 359.9,485.6 364.9,486.4 369.9,487.3 375.1,488.1 380.3,488.9 385.6,489.7 391.0,490.4 396.5,491.2 402.0,491.9 407.6,492.6 413.3,493.3 419.1,493.9 424.9,494.6 430.8,495.2 436.8,495.8 442.9,496.4 449.0,497.0 455.3,497.5 461.6,498.1 467.9,498.6 474.4,499.1 480.9,499.6 487.5,500.1 494.2,500.6 500.9,501.1 507.8,501.6 514.7,502.0 521.7,502.5 528.7,502.9 535.9,503.4 543.1,503.8 550.4,504.2 557.7,504.6 565.2,505.0 572.7,505.4 580.3,505.8 588.0,506.1 595.7,506.5 603.6,506.9 611.5,507.2 619.4,507.6 627.5,507.9 635.6,508.3 643.8,508.6 652.1,508.9 660.5,509.3 668.9,509.6 677.4,509.9 686.0,510.2 694.7,510.5 703.4,510.8 712.2,511.1 721.1,511.4 730.1,511.7 739.1,512.0" fill="none" stroke="#009E73" stroke-opacity="0.4" stroke-width="1.45"/>
<path d="M159.7,16.9 159.7,17.5 159.7,19.5 159.8,22.7 159.9,27.1 160.1,32.6 160.3,39.3 160.5,46.9 160.8,55.3 161.1,64.6 161.4,74.5 161.7,85.0 162.1,95.9 162.6,107.1 163.0,118.6 163.5,130.3 164.1,142.0 164.7,153.8 165.3,165.5 165.9,177.1 166.6,188.5 167.3,199.7 168.0,210.6 168.8,221.4 169.6,231.8 170.5,241.9 171.3,251.7 172.3,261.2 173.2,270.4 174.2,279.2 175.2,287.7 176.3,295.9 177.4,303.8 178.5,311.4 179.6,318.6 180.8,325.6 182.1,332.3 183.3,338.8 184.6,344.9 186.0,350.8 187.3,356.5 188.7,361.9 190.2,367.1 191.6,372.1 193.1,376.9 194.7,381.5 196.3,385.9 197.9,390.1 199.5,394.2 201.2,398.1 202.9,401.8 204.6,405.4 206.4,408.8 208.2,412.1 210.1,415.3 212.0,418.3 213.9,421.3 215.8,424.1 217.8,426.8 219.9,429.4 221.9,431.9 224.0,434.3 226.1,436.7 228.3,438.9 230.5,441.1 232.7,443.1 235.0,445.2 237.3,447.1 239.6,449.0 242.0,450.8 244.4,452.5 246.8,454.2 249.3,455.9 251.8,457.4 254.4,459.0 256.9,460.4 259.6,461.9 262.2,463.2 264.9,464.6 267.6,465.9 270.3,467.1 273.1,468.4 276.0,469.5 278.8,470.7 281.7,471.8 284.6,472.9 287.6,473.9 290.6,474.9 293.6,475.9 296.7,476.9 299.8,477.8 302.9,478.7 306.0,479.6 309.2,480.5 312.5,481.3 315.8,482.1 319.1,482.9 322.4,483.7 325.8,484.4 329.2,485.1 332.6,485.8 336.1,486.5 339.6,487.2 343.1,487.9 346.7,488.5 350.3,489.1 354.0,489.8 357.7,490.4 361.4,490.9 365.1,491.5 368.9,492.1 372.8,492.6 376.6,493.1 380.5,493.7 384.4,494.2 388.4,494.7 392.4,495.2 396.4,495.6 400.5,496.1 404.6,496.6 408.7,497.0 412.9,497.5 417.1,497.9 421.3,498.3 425.6,498.7 429.9,499.1 434.2,499.5 438.6,499.9 443.0,500.3 447.5,500.7 452.0,501.0 456.5,501.4 461.0,501.7 465.6,502.1 470.2,502.4 474.9,502.8 479.6,503.1 484.3,503.4 489.0,503.7 493.8,504.1 498.7,504.4 503.5,504.7 508.4,505.0 513.3,505.3 518.3,505.5 523.3,505.8 528.3,506.1 533.4,506.4 538.5,506.7 543.6,506.9 548.8,507.2 554.0,507.4 559.3,507.7 564.5,508.0 569.8,508.2 575.2,508.4 580.6,508.7 586.0,508.9 591.4,509.2 596.9,509.4 602.4,509.6 608.0,509.9 613.6,510.1 619.2,510.3 624.9,510.5 630.5,510.7 636.3,510.9 642.0,511.2 647.8,511.4 653.6,511.6 659.5,511.8 665.4,512.0 671.3,512.2 677.3,512.4 683.3,512.6 689.3,512.8 695.4,512.9 701.5,513.1 707.7,513.3 713.8,513.5 720.0,513.7 726.3,513.9 732.6,514.0 738.9,514.2 745.2,514.4 751.6,514.6 758.0,514.8 764.5,514.9 771.0,515.1 777.5,515.3 784.0,515.4 790.6,515.6 797.3,515.8 803.9,515.9 810.6,516.1 817.3,516.2 824.1,516.4 830.9,516.6 837.7,516.7 844.6,516.9" fill="none" stroke="#E65C00" stroke-width="6" stroke-linecap="round"/>
<path d="M160.3,63.0 160.4,63.6 160.4,65.5 160.5,68.6 160.7,72.9 160.8,78.3 161.0,84.8 161.3,92.2 161.6,100.4 161.9,109.3 162.3,118.8 162.7,128.9 163.2,139.3 163.6,150.0 164.2,161.0 164.7,172.0 165.3,183.1 166.0,194.2 166.7,205.1 167.4,216.0 168.2,226.6 169.0,237.0 169.8,247.2 170.7,257.0 171.6,266.6 172.6,275.9 173.6,284.9 174.6,293.5 175.7,301.9 176.8,309.9 177.9,317.6 179.1,325.0 180.4,332.1 181.6,338.9 182.9,345.4 184.3,351.7 185.7,357.7 187.1,363.4 188.6,368.9 190.1,374.1 191.6,379.2 193.2,384.0 194.8,388.6 196.5,393.0 198.2,397.2 199.9,401.3 201.7,405.1 203.5,408.9 205.4,412.4 207.3,415.8 209.2,419.1 211.2,422.2 213.2,425.2 215.3,428.1 217.4,430.9 219.5,433.6 221.7,436.1 223.9,438.6 226.1,440.9 228.4,443.2 230.7,445.4 233.1,447.5 235.5,449.5 237.9,451.5 240.4,453.3 242.9,455.1 245.5,456.9 248.1,458.6 250.7,460.2 253.4,461.8 256.1,463.3 258.9,464.7 261.7,466.2 264.5,467.5 267.4,468.8 270.3,470.1 273.3,471.3 276.3,472.5 279.3,473.7 282.4,474.8 285.5,475.9 288.6,477.0 291.8,478.0 295.0,479.0 298.3,479.9 301.6,480.9 304.9,481.8 308.3,482.6 311.7,483.5 315.2,484.3 318.7,485.1 322.2,485.9 325.8,486.7 329.4,487.4 333.1,488.1 336.8,488.8 340.5,489.5 344.3,490.2 348.1,490.8 351.9,491.5 355.8,492.1 359.8,492.7 363.7,493.3 367.7,493.8 371.8,494.4 375.9,494.9 380.0,495.5 384.2,496.0 388.4,496.5 392.6,497.0 396.9,497.5 401.2,497.9 405.6,498.4 410.0,498.8 414.4,499.3 418.9,499.7 423.4,500.1 428.0,500.6 432.6,501.0 437.2,501.4 441.9,501.8 446.6,502.1 451.3,502.5 456.1,502.9 460.9,503.2 465.8,503.6 470.7,503.9 475.7,504.3 480.6,504.6 485.7,504.9 490.7,505.3 495.8,505.6 501.0,505.9 506.2,506.2 511.4,506.5 516.6,506.8 521.9,507.1 527.3,507.4 532.6,507.6 538.1,507.9 543.5,508.2 549.0,508.5 554.5,508.7 560.1,509.0 565.7,509.2 571.4,509.5 577.1,509.7 582.8,510.0 588.6,510.2 594.4,510.5 600.2,510.7 606.1,510.9 612.0,511.2 618.0,511.4 624.0,511.6 630.0,511.8 636.1,512.0 642.2,512.3 648.4,512.5 654.6,512.7 660.8,512.9 667.1,513.1 673.4,513.3 679.8,513.5 686.1,513.7 692.6,513.9 699.1,514.1 705.6,514.3 712.1,514.5 718.7,514.6 725.3,514.8 732.0,515.0 738.7,515.2 745.4,515.4 752.2,515.5 759.0,515.7 765.9,515.9 772.8,516.1 779.8,516.2 786.7,516.4 793.7,516.6 800.8,516.7 807.9,516.9 815.0,517.1 822.2,517.2 829.4,517.4 836.7,517.6 844.0,517.7 851.3,517.9 858.7,518.0 866.1,518.2 873.5,518.3 881.0,518.5 888.5,518.6 896.1,518.8 903.7,518.9 911.4,519.1 919.0,519.2 926.8,519.4 934.5,519.5" fill="none" stroke="#009E73" stroke-width="6.5" stroke-linecap="round"/>
</g>
<line x1="120.5" y1="6" x2="120.5" y2="575.5" stroke="#000" stroke-width="2.2" stroke-linecap="square"/>
<line x1="110.5" y1="536.6" x2="120.5" y2="536.6" stroke="#000" stroke-width="2.2"/>
<text x="109.0" y="548.1" text-anchor="end" font-size="32">0</text>
<line x1="110.5" y1="367.0" x2="120.5" y2="367.0" stroke="#000" stroke-width="2.2"/>
<text x="109.0" y="378.5" text-anchor="end" font-size="32">2</text>
<line x1="110.5" y1="197.40000000000003" x2="120.5" y2="197.40000000000003" stroke="#000" stroke-width="2.2"/>
<text x="109.0" y="208.9" text-anchor="end" font-size="32">4</text>
<line x1="110.5" y1="27.800000000000068" x2="120.5" y2="27.800000000000068" stroke="#000" stroke-width="2.2"/>
<text x="109.0" y="39.3" text-anchor="end" font-size="32">6</text>
<line x1="120.5" y1="575.5" x2="959.5" y2="575.5" stroke="#000" stroke-width="2.2" stroke-linecap="square"/>
<line x1="151.6" y1="575.5" x2="151.6" y2="588.0" stroke="#000" stroke-width="2.2"/>
<text x="151.6" y="630.5" text-anchor="middle" font-size="32">0</text>
<line x1="399.1" y1="575.5" x2="399.1" y2="588.0" stroke="#000" stroke-width="2.2"/>
<text x="399.1" y="630.5" text-anchor="middle" font-size="32">15</text>
<line x1="646.6" y1="575.5" x2="646.6" y2="588.0" stroke="#000" stroke-width="2.2"/>
<text x="646.6" y="630.5" text-anchor="middle" font-size="32">30</text>
<line x1="894.1" y1="575.5" x2="894.1" y2="588.0" stroke="#000" stroke-width="2.2"/>
<text x="894.1" y="630.5" text-anchor="middle" font-size="32">45</text>
<text x="540" y="672.5" text-anchor="middle" font-size="31.5">100−RWC (%)</text>
<g transform="translate(28,355.6) rotate(-90)"><text x="-1.8" y="2.2" font-size="31.5">−</text><text x="17.9" y="0" font-size="31.5">1</text><text x="38.5" y="4.6" font-size="44">/</text></g>
<g transform="translate(28,355.6) rotate(-90)"><g fill="none" stroke="#000" stroke-width="1.9"><path d="M65.4,-13.8 L65.4,6.8"/><path d="M56.0,-12.8 C58.6,-12.0 58.0,-6.8 59.4,-3.5 C60.8,-0.3 62.8,0.0 65.4,0.0 C69.3,0.0 71.6,-1.9 72.6,-5.9 C73.4,-9.2 73.4,-12.0 74.8,-14.3"/></g></g>
<g transform="translate(28,355.6) rotate(-90)"><text x="75.5" y="5.3" font-size="22.5">leaf</text></g>
<text x="129" y="37" font-size="43" font-weight="bold">a</text>
</svg></body></html>
